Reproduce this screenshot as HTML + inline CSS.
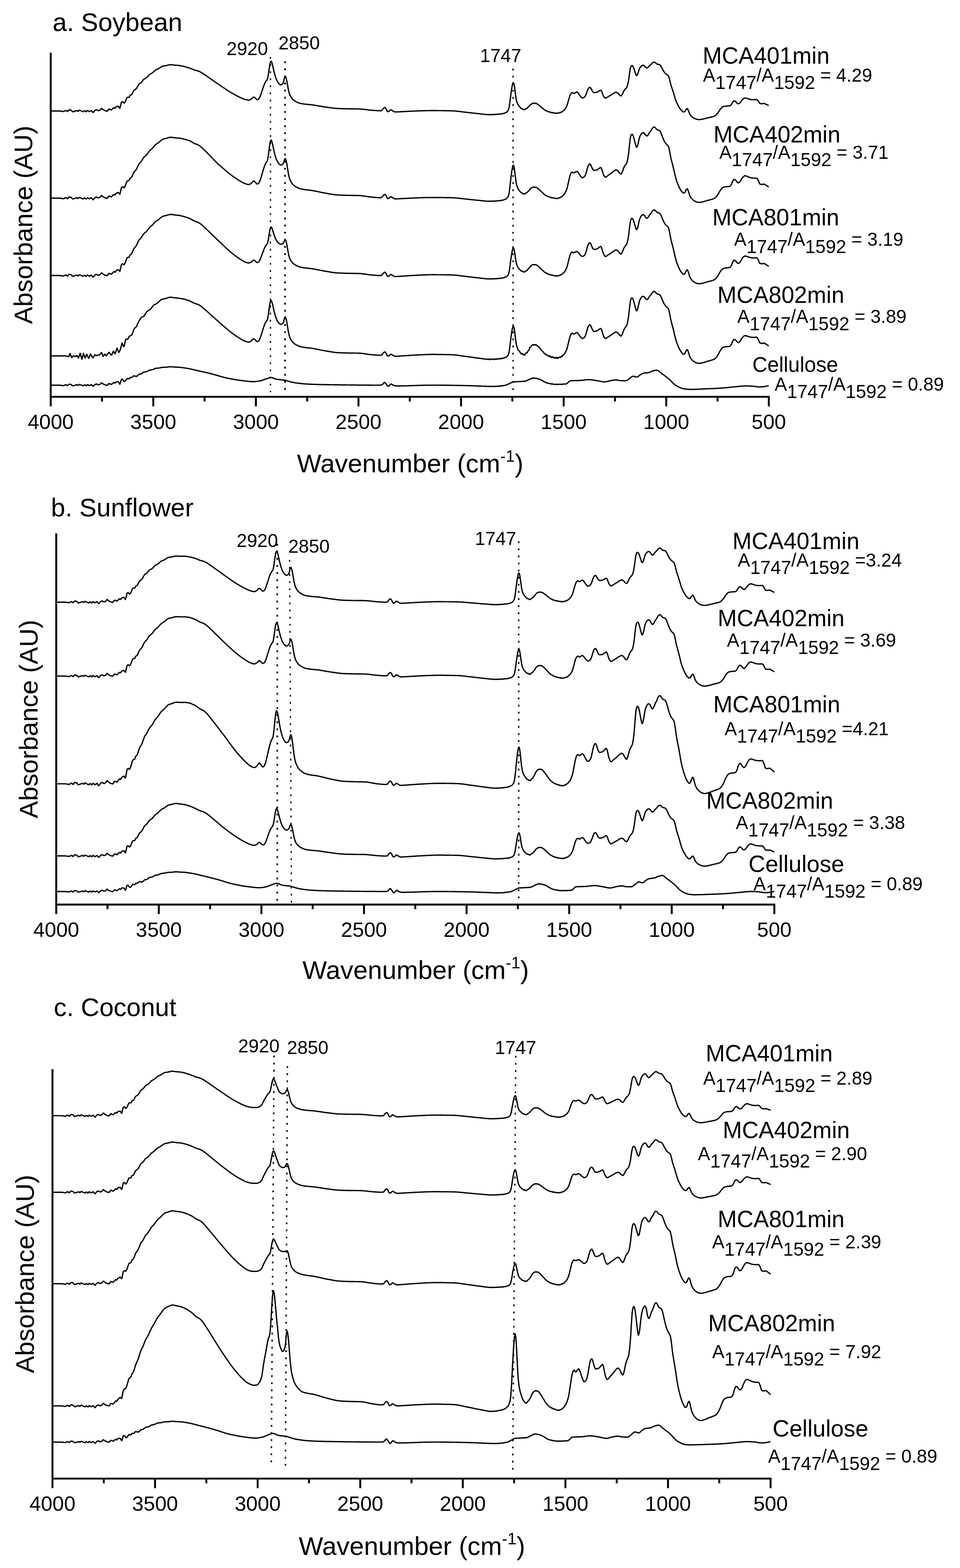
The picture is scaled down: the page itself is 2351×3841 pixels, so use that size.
<!DOCTYPE html><html><head><meta charset="utf-8"><title>FTIR spectra</title>
<style>html,body{margin:0;padding:0;background:#fff}svg{display:block}text{font-family:'Liberation Sans',Arial,Helvetica,sans-serif;fill:#000}.c{fill:none;stroke:#000;stroke-width:3.2;stroke-linejoin:round;stroke-linecap:butt}.ax{fill:none;stroke:#000;stroke-width:4.7;stroke-linecap:butt;stroke-linejoin:miter}.d{fill:none;stroke:#000}</style></head><body>
<svg width="2351" height="3841" viewBox="0 0 2351 3841">
<rect width="2351" height="3841" fill="#fff"/>
<g id="panel-a">
<text x="128.8" y="75.6" font-size="62.8">a. Soybean</text>
<path class="ax" d="M124.2 129.0V995.5M121.9 972.0H1885.2M375.4 972.0V995.5M626.7 972.0V995.5M877.9 972.0V995.5M1129.1 972.0V995.5M1380.4 972.0V995.5M1631.6 972.0V995.5M1882.8 972.0V995.5M249.8 972.0V983.5M501.0 972.0V983.5M752.3 972.0V983.5M1003.5 972.0V983.5M1254.7 972.0V983.5M1506.0 972.0V983.5M1757.2 972.0V983.5"/>
<text x="124.2" y="1051.2" font-size="50.6" text-anchor="middle">4000</text>
<text x="375.4" y="1051.2" font-size="50.6" text-anchor="middle">3500</text>
<text x="626.7" y="1051.2" font-size="50.6" text-anchor="middle">3000</text>
<text x="877.9" y="1051.2" font-size="50.6" text-anchor="middle">2500</text>
<text x="1129.1" y="1051.2" font-size="50.6" text-anchor="middle">2000</text>
<text x="1380.4" y="1051.2" font-size="50.6" text-anchor="middle">1500</text>
<text x="1631.6" y="1051.2" font-size="50.6" text-anchor="middle">1000</text>
<text x="1882.8" y="1051.2" font-size="50.6" text-anchor="middle">500</text>
<text x="1004.5" y="1156.5" font-size="63.4" text-anchor="middle">Wavenumber (cm<tspan font-size="40" dy="-26">-1</tspan><tspan dy="26">)</tspan></text>
<text transform="translate(78.9 550.7) rotate(-90)" font-size="63.4" text-anchor="middle">Absorbance (AU)</text>
</g>
<g id="panel-b">
<text x="124.8" y="1265.4" font-size="62.8">b. Sunflower</text>
<path class="ax" d="M137.7 1306.4V2239.3M135.3 2215.8H1898.7M388.9 2215.8V2239.3M640.2 2215.8V2239.3M891.4 2215.8V2239.3M1142.6 2215.8V2239.3M1393.9 2215.8V2239.3M1645.1 2215.8V2239.3M1896.3 2215.8V2239.3M263.3 2215.8V2227.3M514.5 2215.8V2227.3M765.8 2215.8V2227.3M1017.0 2215.8V2227.3M1268.2 2215.8V2227.3M1519.5 2215.8V2227.3M1770.7 2215.8V2227.3"/>
<text x="137.7" y="2295.0" font-size="50.6" text-anchor="middle">4000</text>
<text x="388.9" y="2295.0" font-size="50.6" text-anchor="middle">3500</text>
<text x="640.2" y="2295.0" font-size="50.6" text-anchor="middle">3000</text>
<text x="891.4" y="2295.0" font-size="50.6" text-anchor="middle">2500</text>
<text x="1142.6" y="2295.0" font-size="50.6" text-anchor="middle">2000</text>
<text x="1393.9" y="2295.0" font-size="50.6" text-anchor="middle">1500</text>
<text x="1645.1" y="2295.0" font-size="50.6" text-anchor="middle">1000</text>
<text x="1896.3" y="2295.0" font-size="50.6" text-anchor="middle">500</text>
<text x="1018.0" y="2398.3" font-size="63.4" text-anchor="middle">Wavenumber (cm<tspan font-size="40" dy="-26">-1</tspan><tspan dy="26">)</tspan></text>
<text transform="translate(92.4 1761.3) rotate(-90)" font-size="63.4" text-anchor="middle">Absorbance (AU)</text>
</g>
<g id="panel-c">
<text x="131.8" y="2489" font-size="62.8">c. Coconut</text>
<path class="ax" d="M128.5 2619.0V3645.5M126.2 3622.0H1889.5M379.7 3622.0V3645.5M631.0 3622.0V3645.5M882.2 3622.0V3645.5M1133.4 3622.0V3645.5M1384.7 3622.0V3645.5M1635.9 3622.0V3645.5M1887.1 3622.0V3645.5M254.1 3622.0V3633.5M505.3 3622.0V3633.5M756.6 3622.0V3633.5M1007.8 3622.0V3633.5M1259.0 3622.0V3633.5M1510.3 3622.0V3633.5M1761.5 3622.0V3633.5"/>
<text x="128.5" y="3701.2" font-size="50.6" text-anchor="middle">4000</text>
<text x="379.7" y="3701.2" font-size="50.6" text-anchor="middle">3500</text>
<text x="631.0" y="3701.2" font-size="50.6" text-anchor="middle">3000</text>
<text x="882.2" y="3701.2" font-size="50.6" text-anchor="middle">2500</text>
<text x="1133.4" y="3701.2" font-size="50.6" text-anchor="middle">2000</text>
<text x="1384.7" y="3701.2" font-size="50.6" text-anchor="middle">1500</text>
<text x="1635.9" y="3701.2" font-size="50.6" text-anchor="middle">1000</text>
<text x="1887.1" y="3701.2" font-size="50.6" text-anchor="middle">500</text>
<text x="1008.8" y="3808.5" font-size="63.4" text-anchor="middle">Wavenumber (cm<tspan font-size="40" dy="-26">-1</tspan><tspan dy="26">)</tspan></text>
<text transform="translate(83.2 3120.7) rotate(-90)" font-size="63.4" text-anchor="middle">Absorbance (AU)</text>
</g>
<path class="d" d="M662.3 139.6L662.3 961" stroke-width="3.2" stroke-dasharray="4.4 13"/>
<path class="d" d="M698.1 150.2L698.1 957" stroke-width="4.0" stroke-dasharray="4.4 13"/>
<path class="d" d="M1256.5 168L1256.5 962" stroke-width="3.4" stroke-dasharray="4.4 13"/>
<path class="d" d="M679.1 1332L679.1 2210" stroke-width="4.0" stroke-dasharray="4.4 13"/>
<path class="d" d="M709.2 1371.6L713.8 2213" stroke-width="3.1" stroke-dasharray="4.4 13"/>
<path class="d" d="M1270.3 1326L1270.3 2206" stroke-width="3.6" stroke-dasharray="4.4 13"/>
<path class="d" d="M671.1 2585.8L664.4 3594" stroke-width="3.6" stroke-dasharray="4.4 13"/>
<path class="d" d="M703.8 2611.6L699 3600" stroke-width="3.6" stroke-dasharray="4.4 13"/>
<path class="d" d="M1263.1 2586.5L1255.6 3611" stroke-width="3.4" stroke-dasharray="4.4 13"/>
<text x="555" y="135" font-size="45.5">2920</text>
<text x="682" y="121" font-size="45.5">2850</text>
<text x="1175.5" y="151.5" font-size="45.5">1747</text>
<text x="579.5" y="1339.8" font-size="45.5">2920</text>
<text x="706" y="1353.7" font-size="45.5">2850</text>
<text x="1163" y="1335" font-size="45.5">1747</text>
<text x="583.3" y="2577.8" font-size="45.5">2920</text>
<text x="703" y="2582" font-size="45.5">2850</text>
<text x="1212" y="2582" font-size="45.5">1747</text>
<path id="a1" class="c" d="M124 271.9l.8 0 .7 0 .8 0 .7 0 .8 0 .7 0 .8 0 .7 0 .8 0 .7 0 .8 0 .7 0 .8 0 .7 0 .8 0 .7 0 .8 0 .7 0 .8 0 .7 0 .8 0 .7 0 .8 0 .7 0 .8 0 .7 0 .8 0 .7 0 .8 0 .7 0 .8 0 .7 .2 .8 .1 .7 .1 .8 .1 .7 .2 .8 .1 .7 .1 .8 .2 .7 .1 .8 .1 .7 0 .8-.4 .7-.4 .8-.3 .7-.4 .8-.4 .7-.4 .8-.3 .7-.1 .8 .5 .7 .6 .8 .6 .7 .6 .8 .5 .7-.9 .8-.8 .7-.8 .8-.8 .7-.8 .8-.1 .7 .1 .8 .2 .7 .1 .8 .2 .7 .1 .8 .2 .7 .8 .8 .8 .7 .7 .8 .8 .7 .7 .8 .1 .7-.3 .8-.2 .7-.3 .8-.2 .7-.3 .8-.2 .7-.3 .8-.2 .7-.3 .8-.3 .7-.3 .8-.3 .7 .2 .8 .6 .7 .6 .8 .6 .7-.1 .8-.9 .7-.8 .8-.8 .7-.3 .8 .4 .7 .3 .8 .3 .7 .3 .8 .3 .7 .3 .8 .4 .7 .3 .8 .3 .7 .3 .8 .3 .7 .3 .8 0 .7-.8 .8-.7 .7-.7 .8-.3 .7 .5 .8 .6 .7 .6 .8 .5 .7 .6 .8-.8 .7-.9 .8-.8 .7-.9 .8 .5 .7 .4 .8 .4 .7 .5 .8 .4 .7 .4 .8 .1 .7-.4 .8-.4 .7-.5 .8-.4 .7-.4 .8-.4 .7 .7 .8 1 .7 1 .8 1 .7 1.1 .8 .1 .7-.9 .8-.9 .7-.9 .8-.9 .7-1 .8-.9 .7-.3 .8-.2 .7-.2 .8-.2 .7-.2 .8 .2 .7 .4 .8 .4 .7 .5 .8 .4 .7 .2 .8-.2 .7-.3 .8-.2 .7-.3 .8-.2 .7-.8 .8-1 .7-1 .8-1.1 .7-.8 .8 .7 .7 .6 .8 .6 .7 .6 .8 .6 .7 .6 .8 .4 .7 .4 .8 .4 .7 .3 .8 .4 .7 .4 .8 .3 .7 .1 .8 .2 .7 .2 .8 .1 .7 .2 .8 .1 .7-1 .8-1.1 .7-1 .8-1.1 .7-1.1 .8 0 .7 .3 .8 .4 .7 .3 .8 .3 .7 .3 .8 .3 .7 .3 .8-.4 .7-.7 .8-.8 .7-.7 .8-.7 .7-.8 .8-.7 .7-.8 .8 .3 .7 .4 .8 .5 .7 .4 .8-.9 .7-1 .8-1.1 .7-1 .8-.2 .7-.1 .8-.1 .7-.2 .8-.3 .7-.2 .8 0 .7 1.2 .8 1.1 .7 1.1 .8 1.1 .7 1 .8-3 .7-3 .8-3 .7-3 .8-3.1 .7-1.1 .8-.1 .7-.2 .8-.2 .7 .7 .8 1.1 .7 1 .8 .9 .7-.3 .8-.8 .7-.9 .8-.8 .7-1.6 .8-1.8 .7-1.8 .8-1.7 .7-1.6 .8-1.6 .7-1.3 .8-.1 .7 0 .8 0 .7 0 .8 0 .7 0 .8-.9 .7-1.8 .8-1.9 .7-.6 .8-.2 .7-.3 .8-.4 .7-.4 .8-.8 .7-1.4 .8-1.4 .7-1.5 .8-1.5 .7-1.5 .8-1.6 .7-.7 .8-.6 .7-.5 .8-.6 .7-.6 .8-.5 .7-.6 .8-.6 .7-.5 .8-1.1 .7-1.5 .8-1.4 .7-1.4 .8-1.4 .7-1.3 .8-1.3 .7-1.2 .8-.9 .7-.5 .8-.5 .7-.5 .8-.5 .7-.5 .8-.5 .7-.5 .8-1 .7-1 .8-1 .7-1 .8-1 .7-1 .8-.9 .7-1 .8-.4 .7-.4 .8-.4 .7-.4 .8-.4 .7-.4 .8-.4 .7-.4 .8-.4 .7-.7 .5-.6 1.2-1.4 1.3-1.3 1.2-1.4 1.3-1.4 1.2-1.2 1.3-.7 1.2-.8 1.3-.7 1.2-.6 1.3-.7 1.2-1 1.3-1.2 1.2-1.1 1.3-1.1 1.2-1.2 1.3-1 1.2-1 1.3-.6 1.2-.6 1.3-.6 1.2-.5 1.3-.5 1.2-.6 1.3-.8 1.2-.9 1.3-.8 1.2-.9 1.3-.7 1.2-.8 1.3-.7 1.2-.5 1.3-.3 1.2-.2 1.3-.2 1.2-.1 1.3-.2 1.2-.1 1.3-.2 1.2-.4 1.3-.3 1.2-.4 1.3-.3 1.2-.2 1.3-.3 1.2-.2 1.3-.1 1.2 .1 1.3 .1 1.2 .2 1.3 .1 1.2 .2 1.3 .2 1.2 .2 1.3 .1 1.2 .1 1.3 .1 1.2 .1 1.3 0 1.2 .1 1.3 .1 1.2 .1 1.3 .1 1.2 .1 1.3 .2 1.2 .2 1.3 .3 1.2 .2 1.3 .3 1.2 .2 1.3 .3 1.2 .3 1.3 .3 1.2 .3 1.3 .4 1.2 .3 1.3 .3 1.2 .4 1.3 .3 1.2 .4 1.3 .3 1.2 .4 1.3 .4 1.2 .4 1.3 .5 1.2 .4 1.3 .4 1.2 .5 1.3 .5 1.2 .6 1.3 .5 1.2 .6 1.3 .5 1.2 .4 1.3 .3 1.2 .4 1.3 .2 1.2 .3 1.3 .4 1.2 .3 1.3 .4 1.2 .5 1.3 .5 1.2 .6 1.3 .6 1.2 .6 1.3 .7 1.2 .7 1.3 .8 1.2 .8 1.3 .8 1.2 .9 1.3 .8 1.2 .9 1.3 .8 1.2 .8 1.3 .9 1.2 .8 1.3 .9 1.2 .9 1.3 .8 1.2 .9 1.3 .9 1.2 .8 1.3 .9 1.2 .9 1.3 .9 1.2 .9 1.3 .8 1.2 .9 1.3 .9 1.2 .9 1.3 .8 1.2 .9 1.3 .9 1.2 .9 1.3 .8 1.2 .9 1.3 .8 1.2 .9 1.3 .8 1.2 .9 1.3 .8 1.2 .9 1.3 .8 1.2 .9 1.3 .9 1.2 .8 1.3 .9 1.2 .8 1.3 .9 1.2 .8 1.3 .9 1.2 .8 1.3 .9 1.2 .8 1.3 .8 1.2 .9 1.3 .8 1.2 .8 1.3 .8 1.2 .8 1.3 .7 1.2 .8 1.3 .8 1.2 .7 1.3 .7 1.2 .8 1.3 .7 1.2 .7 1.3 .7 1.2 .7 1.3 .7 1.2 .7 1.3 .6 1.2 .7 1.3 .7 1.2 .6 1.3 .6 1.2 .7 1.3 .6 1.2 .6 1.3 .6 1.2 .5 1.3 .6 1.2 .6 1.3 .5 1.2 .6 1.3 .5 1.2 .5 1.3 .5 1.2 .4 1.3 .4 1.2 .3 1.3 .4 1.2 .3 1.3 .3 1.2 .3 1.3 .1 1.2 .1 1.3-.1 1.2-.4 1.3-.5 1.2-.6 1.3-.7 1.2-1 1.3-1.3 1.2-1.4 1.3-1.1 1.2-.5 1.3 .3 1.2 1 1.3 1.1 1.2 1.1 1.3 1.5 1.2 1.2 1.3 .4 1.2-.3 1.3-.7 1.2-1 1.3-1.9 1.2-2.4 1.3-2.8 1.2-3.5 1.3-3.8 1.2-3.6 1.3-3.7 1.2-3.9 1.3-3.7 1.2-3.4 1.3-3.1 1.2-3 1.3-2.6 1.2-2 1.3-1.3 1.2-1.5 1.3-2.6 1.2-5.5 1.3-7 1.2-9.2 1.3-8.3 1.2-7.3 1.3-4.5 1.2-1.9 1.3 1.9 1.2 3.1 1.3 5 1.2 5.2 1.3 5.7 1.2 5.3 1.3 5 1.2 4.6 1.3 3.9 1.2 3.4 1.3 3 1.2 2.6 1.3 2.2 1.2 1.9 1.3 1.6 1.2 1.2 1.3 1.1 1.2 .9 1.3 .5 1.2-.2 1.3-.6 1.2-.9 1.3-1.3 1.2-2.2 1.3-3.8 1.2-6.5 1.3-4.5 1.2-1.4 1.3 2.5 1.2 3.9 1.3 5.7 1.2 7 1.3 7.4 1.2 6.5 1.3 5.7 1.2 4.4 1.3 3.4 1.2 2.5 1.3 2 1.2 1.9 1.3 1.8 1.2 1.5 1.3 1.3 1.2 1 1.3 1 1.2 .8 1.3 .8 1.2 .8 1.3 .7 1.2 .6 1.3 .6 1.2 .6 1.3 .5 1.2 .5 1.3 .4 1.2 .5 1.3 .3 1.2 .3 1.3 .3 1.2 .2 1.3 .2 1.2 .2 1.3 .2 1.2 .2 1.3 .1 1.2 .2 1.3 .1 1.2 .2 1.3 .1 1.2 .1 1.3 .2 1.2 .1 1.3 .1 1.2 .1 1.3 .1 1.2 .1 1.3 .1 1.2 .2 1.3 .1 1.2 .2 1.3 .1 1.2 .2 1.3 .2 1.2 .2 1.3 .2 1.2 .2 1.3 .2 1.2 .2 1.3 .2 1.2 .2 1.3 .2 1.2 .2 1.3 .3 1.2 .2 1.3 .2 1.2 .2 1.3 .2 1.2 .2 1.3 .3 1.2 .2 1.3 .2 1.2 .2 1.3 .2 1.2 .2 1.3 .1 1.2 .2 1.3 .2 1.2 .2 1.3 .1 1.2 .2 1.3 .2 1.2 .2 1.3 .2 1.2 .2 1.3 .1 1.2 .2 1.3 .2 1.2 .2 1.3 .1 1.2 .2 1.3 .2 1.2 .1 1.3 .2 1.2 .1 1.3 .1 1.2 .2 1.3 .1 1.2 .1 1.3 .1 1.2 .1 1.3 0 1.2 .1 1.3 .1 1.2 0 1.3 0 1.2 .1 1.3 0 1.2 .1 1.3 0 1.2 .1 1.3 0 1.2 0 1.3 0 1.2 .1 1.3 0 1.2 0 1.3 .1 1.2 0 1.3 0 1.2 0 1.3 .1 1.2 0 1.3 0 1.2 0 1.3 0 1.2 .1 1.3 0 1.2 0 1.3 0 1.2 0 1.3 0 1.2 0 1.3 0 1.2 .1 1.3 0 1.2 0 1.3 0 1.2 0 1.3 0 1.2 .1 1.3 0 1.2 0 1.3 0 1.2 .1 1.3 .1 1.2 .1 1.3 .1 1.2 .1 1.3 .1 1.2 .1 1.3 .2 1.2 .1 1.3 .1 1.2 .2 1.3 .2 1.2 .1 1.3 .2 1.2 .1 1.3 .2 1.2 .2 1.3 .1 1.2 .2 1.3 .1 1.2 .1 1.3 .2 1.2 .1 1.3 .1 1.2 .1 1.3 .1 1.2 .1 1.3 0 1.2 .1 1.3 .1 1.2 .1 1.3 .1 1.2 .1 1.3 .1 1.2 0 1.3 .1 1.2 0 1.3 .1 1.2 0 1.3 0 1.2 0 1.3-.1 1.2-.2 1.3-.3 1.2-1.5 1.3-1.9 1.2-1.4 1.3-1.2 1.2-1 1.3-.4 1.2 .8 1.3 1.8 1.2 2.2 1.3 3 1.2 1.9 1.3 .7 1.2-.3 1.3-.5 1.2-1 1.3-1.6 1.2-.7 1.3-.3 1.2 .2 1.3 .9 1.2 1.1 1.3 .6 1.2 .7 1.3 .7 1.2 .5 1.3 .3 1.2 0 1.3 0 1.2 0 1.3-.1 1.2 0 1.3-.1 1.2 0 1.3-.1 1.2-.1 1.3 0 1.2-.1 1.3-.1 1.2 0 1.3-.1 1.2-.1 1.3 0 1.2-.1 1.3 0 1.2-.1 1.3-.1 1.2 0 1.3-.1 1.2-.1 1.3 0 1.2-.1 1.3-.1 1.2-.1 1.3 0 1.2-.1 1.3 0 1.2-.1 1.3-.1 1.2 0 1.3-.1 1.2 0 1.3-.1 1.2 0 1.3 0 1.2-.1 1.3 0 1.2-.1 1.3 0 1.2-.1 1.3 0 1.2-.1 1.3 0 1.2-.1 1.3 0 1.2-.1 1.3 0 1.2-.1 1.3 0 1.2 0 1.3-.1 1.2 0 1.3-.1 1.2 0 1.3 0 1.2-.1 1.3 0 1.2 0 1.3-.1 1.2 0 1.3 0 1.2 0 1.3 0 1.2-.1 1.3 0 1.2 0 1.3 0 1.2 0 1.3 0 1.2 0 1.3 0 1.2 0 1.3 0 1.2 0 1.3 0 1.2 0 1.3 0 1.2 0 1.3 0 1.2 0 1.3 .1 1.2 0 1.3 0 1.2 0 1.3 0 1.2 0 1.3 0 1.2 0 1.3 .1 1.2 0 1.3 0 1.2 0 1.3 0 1.2 .1 1.3 0 1.2 0 1.3 0 1.2 0 1.3 .1 1.2 0 1.3 0 1.2 0 1.3 .1 1.2 0 1.3 0 1.2 0 1.3 .1 1.2 0 1.3 0 1.2 .1 1.3 0 1.2 .1 1.3 .1 1.2 .1 1.3 .1 1.2 .1 1.3 .1 1.2 .1 1.3 .2 1.2 .1 1.3 .2 1.2 .1 1.3 .2 1.2 .1 1.3 .2 1.2 .1 1.3 .2 1.2 .1 1.3 .2 1.2 .1 1.3 .2 1.2 .1 1.3 .2 1.2 .1 1.3 .2 1.2 .1 1.3 .1 1.2 .2 1.3 .1 1.2 .1 1.3 .2 1.2 .1 1.3 .2 1.2 .1 1.3 .2 1.2 .1 1.3 .2 1.2 .1 1.3 .2 1.2 .1 1.3 .1 1.2 .2 1.3 .1 1.2 .2 1.3 .1 1.2 .1 1.3 .2 1.2 .1 1.3 .1 1.2 .2 1.3 .1 1.2 .1 1.3 .1 1.2 .2 1.3 .1 1.2 .2 1.3 .1 1.2 .2 1.3 .1 1.2 .1 1.3 .2 1.2 .1 1.3 .2 1.2 .1 1.3-.1 1.2 .3 1.3 .3 1.2-.1 1.3 0 1.2-.2 1.3 .1 1.2 .5 1.3-.2 1.2-.3 1.3 .4 1.2-.1 1.3-.5 1.2 .1 1.3 .1 1.2 .1 1.3 0 1.2-.5 1.3-.1 1.2 .4 1.3-.4 1.2-.2 1.3 .3 1.2-.1 1.3-.4 1.2-.2 1.3-.2 1.2 .2 1.3 .1 1.2-.6 1.3-.1 1.2 .1 1.3-.5 1.2-.4 1.3 0 1.2-.3 1.3-.4 1.2-.5 1.3-.6 1.2-.4 1.3-.6 1.2-1.1 1.3-1.2 1.2-1.4 1.3-2.2 1.2-3.7 1.3-6.6 1.2-8.5 1.3-10.6 1.2-9.6 1.3-9 1.2-7.8 1.3-6.3 1.2-3.8 1.3-1.1 1.2 3.4 1.3 6.9 1.2 9.3 1.3 10 1.2 8.4 1.3 6.4 1.2 4.2 1.3 2.8 1.2 2.7 1.3 2.1 1.2 1.1 1.3 1.5 1.2 1.8 1.3 1.5 1.2 1.2 1.3 .2 1.2 .4 1.3 1.4 1.2 .4 1.3-.2 1.2 .9 1.3 0 1.2-1.3 1.3-.8 1.2-.8 1.3-.5 1.2-.4 1.3-1.6 1.2-1.3 1.3-.6 1.2-1.7 1.3-2.1 1.2-.9 1.3-.8 1.2-1.1 1.3-.8 1.2-.8 1.3-.2 1.2 .1 1.3-.5 1.2 0 1.3 .5 1.2 0 1.3-.1 1.2 .5 1.3 .6 1.2 .8 1.3 1 1.2 .7 1.3 1.1 1.2 1.2 1.3 .7 1.2 1 1.3 1.4 1.2 1 1.3 .9 1.2 1.1 1.3 1 1.2 1.3 1.3 1.1 1.2 .5 1.3 .9 1.2 1 1.3 0 1.2 .5 1.3 1.1 1.2 .6 1.3 .5 1.2 .2 1.3 0 1.2 .9 1.3 .4 1.2-.4 1.3 .9 1.2 .8 1.3-.6 1.2 0 1.3 .4 1.2 .4 1.3 .7 1.2-.1 1.3-.3 1.2 .8 1.3-.1 1.2-.8 1.3 .5 1.2 .5 1.3-.7 1.2-.5 1.3-.6 1.2-.4 1.3 .2 1.2-.8 1.3-.9 1.2 0 1.3-.9 1.2-1.5 1.3-.7 1.2-.9 1.3-1.3 1.2-1.5 1.3-2 1.2-2.1 1.3-2.3 1.2-3.1 1.3-4 1.2-4.3 1.3-4.4 1.2-4.4 1.3-4.2 1.2-3.5 1.3-2.5 1.2-1.9 1.3-1.2 1.2-.6 1.3 .7 1.2 1 1.3 .2 1.2 .1 1.3-.6 1.2-1.2 1.3-.7 1.2-.5 1.3-.4 1.2 .3 1.3 1.2 1.2 1.5 1.3 1.9 1.2 1.8 1.3 1.8 1.2 1.7 1.3 1.4 1.2 1.4 1.3 1.1 1.2 .5 1.3-.2 1.2-.5 1.3-.6 1.2-.9 1.3-1.3 1.2-1.9 1.3-3 1.2-3.2 1.3-3.6 1.2-3.5 1.3-2.8 1.2-2.4 1.3-1.3 1.2-.8 1.3-.1 1.2 1.3 1.3 1.8 1.2 2.5 1.3 2.4 1.2 2.1 1.3 1.5 1.2 1.1 1.3 .2 1.2-.1 1.3-.1 1.2-.1 1.3-.3 1.2-.3 1.3-.4 1.2-.5 1.3-.8 1.2-.8 1.3-.7 1.2-.8 1.3-.7 1.2-.2 1.3 1.3 1.2 2.2 1.3 3.6 1.2 3.5 1.3 2.8 1.2 2.3 1.3 1.6 1.2 1.4 1.3 .7 1.2-.2 1.3-.6 1.2-.8 1.3-.8 1.2-.9 1.3-.7 1.2-.7 1.3-.7 1.2-.7 1.3-.7 1.2-.8 1.3-.7 1.2-.9 1.3-.9 1.2-.9 1.3-.8 1.2-.7 1.3-.6 1.2-.5 1.3-.5 1.2-.3 1.3 .1 1.2 .7 1.3 .8 1.2 1.1 1.3 1.5 1.2 1.6 1.3 1.1 1.2 1.1 1.3 .8 1.2 .1 1.3-1.4 1.2-2.1 1.3-2.3 1.2-2.9 1.3-2.8 1.2-2 1.3-1.6 1.2-1.5 1.3-1.3 1.2-1.2 1.3-1.8 1.2-3.5 1.3-4.5 1.2-5.9 1.3-7.4 1.2-9.5 1.3-8.8 1.2-7.1 1.3-4 1.2-2 1.3-.7 1.2 .3 1.3 1.6 1.2 2.4 1.3 3.4 1.2 3.7 1.3 4.1 1.2 3.5 1.3 3.5 1.2 2.1 1.3-.6 1.2-2.1 1.3-3.1 1.2-4.1 1.3-4 1.2-3.4 1.3-2.3 1.2-1.8 1.3-1.3 1.2-1.1 1.3-.9 1.2-.6 1.3-.1 1.2 .4 1.3 .5 1.2 1 1.3 1.7 1.2 1.3 1.3 .9 1.2 .7 1.3 0 1.2-.8 1.3-1 1.2-1.3 1.3-1.6 1.2-1.3 1.3-.9 1.2-.9 1.3-1.1 1.2-1.6 1.3-1.4 1.2-.9 1.3-.7 1.2-.5 1.3 0 1.2 .5 1.3 .9 1.2 .9 1.3 1.1 1.2 1.1 1.3 .4 1.2 .2 1.3 .2 1.2 .4 1.3 .5 1.2 .7 1.3 1.5 1.2 1.9 1.3 2.1 1.2 2.4 1.3 2.4 1.2 2.3 1.3 2.1 1.2 2 1.3 1.8 1.2 1.5 1.3 1.3 1.2 1 1.3 .9 1.2 .9 1.3 .7 1.2 1 1.3 2.2 1.2 3.8 1.3 4.3 1.2 5.5 1.3 5.2 1.2 4.3 1.3 3.8 1.2 3.7 1.3 3.7 1.2 3.7 1.3 4.1 1.2 4.2 1.3 4.4 1.2 4.1 1.3 3.8 1.2 3.3 1.3 2.8 1.2 2.6 1.3 2.5 1.2 2.4 1.3 2.3 1.2 2.1 1.3 1.9 1.2 1.7 1.3 1.5 1.2 1.4 1.3 1.2 1.2 1.2 1.3 1 1.2 .5 1.3-.1 1.2-.5 1.3-.9 1.2-2.1 1.3-2.1 1.2-1.4 1.3-1 1.2 .5 1.3 2.4 1.2 2.7 1.3 3.6 1.2 3.2 1.3 2.2 1.2 1.8 1.3 1.5 1.2 1.2 1.3 1.2 1.2 .9 1.3 .9 1.2 .8 1.3 .7 1.2 .6 1.3 .6 1.2 .5 1.3 .4 1.2 .3 1.3 .3 1.2 .3 1.3 .2 1.2 .1 1.3 0 1.2-.1 1.3-.1 1.2-.2 1.3-.2 1.2-.3 1.3-.2 1.2-.3 1.3-.2 1.2-.3 1.3-.3 1.2-.3 1.3-.3 1.2-.4 1.3-.3 1.2-.3 1.3-.3 1.2-.3 1.3-.3 1.2-.2 1.3-.3 1.2-.3 1.3-.3 1.2-.3 1.3-.3 1.2-.3 1.3-.3 1.2-.4 1.3-.4 1.2-.5 1.3-.6 1.2-.9 1.3-.9 1.2-1.1 1.3-1.2 1.2-1.4 1.3-1.5 1.2-1.6 1.3-1.9 1.2-2 1.3-2 1.2-1.8 1.3-1.5 1.2-1.6 1.3-1.4 1.2-1.1 1.3-.7 1.2-.4 1.3-.3 1.2-.3 1.3-.2 1.2-.2 1.3-.2 1.2-.1 1.3 0 1.2-.1 1.3 0 1.2-.1 1.3-.1 1.2-.1 1.3-.3 1.2-.9 1.3-1.1 1.2-1.4 1.3-2.2 1.2-2.4 1.3-1.7 1.2-1.3 1.3-.9 1.2-.2 1.3 .5 1.2 .8 1.3 1.2 1.2 1.6 1.3 1.4 1.2 1 1.3 .7 1.2 0 1.3-.6 1.2-1 1.3-1.1 1.2-1.5 1.3-1.8 1.2-1.8 1.3-1.5 1.2-1.4 1.3-1.3 1.2-.8 1.3-.7 1.2-.5 1.3-.2 1.2 .2 1.3 .3 1.2 .3 1.3 .4 1.2 .4 1.3 .4 1.2 .5 1.3 .5 1.2 .4 1.3 .2 1.2 .2 1.3 .1 1.2 .1 1.3 .1 1.2 .1 1.3 0 1.2 0 1.3-.1 1.2-.1 1.3-.1 1.2-.1 1.3-.1 1.2 .2 1.3 1.1 1.2 1.6 1.3 1.6 1.2 2.1 1.3 2.2 1.2 1.1 1.3 .2 1.2 .1 1.3 .1 1.2 0 1.3-.1 1.2-.1 1.3-.1 1.2-.1 1.3 .2 1.2 .6 1.3 .6 1.2 .6 1.3 .5 1.2 .6 1.3 .5 1.2 .5 1.3 .6 .1 0"/>
<path id="a2" class="c" d="M124 485.4l.8 0 .7 0 .8 0 .7 0 .8 0 .7 0 .8 0 .7 0 .8 0 .7 0 .8 0 .7 0 .8 0 .7 0 .8 0 .7 0 .8 0 .7 0 .8 0 .7 0 .8 0 .7 0 .8 0 .7 0 .8 0 .7 0 .8 0 .7 0 .8 0 .7 0 .8 0 .7 .2 .8 .1 .7 .1 .8 .1 .7 .2 .8 .1 .7 .1 .8 .2 .7 .1 .8 .1 .7 0 .8-.4 .7-.4 .8-.3 .7-.4 .8-.4 .7-.4 .8-.3 .7-.1 .8 .5 .7 .6 .8 .6 .7 .6 .8 .5 .7-.9 .8-.8 .7-.8 .8-.8 .7-.8 .8-.1 .7 .1 .8 .2 .7 .1 .8 .2 .7 .2 .8 .2 .7 .7 .8 .8 .7 .7 .8 .8 .7 .8 .8 0 .7-.3 .8-.2 .7-.2 .8-.3 .7-.2 .8-.3 .7-.2 .8-.3 .7-.3 .8-.2 .7-.3 .8-.3 .7 .2 .8 .6 .7 .6 .8 .6 .7-.1 .8-.9 .7-.8 .8-.8 .7-.3 .8 .4 .7 .3 .8 .3 .7 .3 .8 .3 .7 .4 .8 .3 .7 .3 .8 .3 .7 .3 .8 .3 .7 .4 .8-.1 .7-.7 .8-.8 .7-.7 .8-.3 .7 .6 .8 .6 .7 .5 .8 .6 .7 .6 .8-.9 .7-.8 .8-.8 .7-.9 .8 .5 .7 .4 .8 .4 .7 .5 .8 .4 .7 .4 .8 .1 .7-.4 .8-.5 .7-.4 .8-.4 .7-.4 .8-.4 .7 .7 .8 1 .7 1 .8 1 .7 1 .8 .2 .7-.9 .8-.9 .7-1 .8-.9 .7-.9 .8-.9 .7-.3 .8-.2 .7-.2 .8-.3 .7-.2 .8 .2 .7 .4 .8 .5 .7 .4 .8 .4 .7 .3 .8-.3 .7-.2 .8-.3 .7-.3 .8-.2 .7-.8 .8-1 .7-1.1 .8-1 .7-.8 .8 .6 .7 .6 .8 .6 .7 .6 .8 .6 .7 .6 .8 .4 .7 .4 .8 .3 .7 .4 .8 .4 .7 .4 .8 .2 .7 .2 .8 .1 .7 .2 .8 .1 .7 .2 .8 .1 .7-1.1 .8-1 .7-1.1 .8-1.1 .7-1.1 .8-.1 .7 .3 .8 .3 .7 .3 .8 .3 .7 .3 .8 .2 .7 .3 .8-.5 .7-.8 .8-.8 .7-.7 .8-.8 .7-.8 .8-.8 .7-.8 .8 .2 .7 .3 .8 .4 .7 .3 .8-.9 .7-1.1 .8-1.1 .7-1.2 .8-.2 .7-.2 .8-.3 .7-.3 .8-.3 .7-.4 .8-.1 .7 1 .8 .9 .7 1 .8 .9 .7 .9 .8-3.2 .7-3.2 .8-3.2 .7-3.2 .8-3.3 .7-1.3 .8-.4 .7-.4 .8-.3 .7 .4 .8 .8 .7 .7 .8 .7 .7-.6 .8-1.2 .7-1.1 .8-1.1 .7-1.9 .8-2.1 .7-2 .8-1.9 .7-1.8 .8-1.8 .7-1.5 .8-.3 .7-.2 .8-.2 .7-.1 .8-.2 .7-.1 .8-1 .7-2 .8-2.1 .7-.7 .8-.5 .7-.5 .8-.5 .7-.6 .8-1.1 .7-1.6 .8-1.6 .7-1.7 .8-1.8 .7-1.8 .8-1.9 .7-1 .8-.8 .7-.9 .8-.9 .7-.9 .8-.9 .7-.8 .8-.9 .7-.8 .8-1.4 .7-1.8 .8-1.7 .7-1.7 .8-1.6 .7-1.6 .8-1.5 .7-1.5 .8-1.2 .7-.8 .8-.8 .7-.8 .8-.8 .7-.8 .8-.7 .7-.8 .8-1.2 .7-1.3 .8-1.3 .7-1.2 .8-1.2 .7-1.3 .8-1.2 .7-1.2 .8-.6 .7-.7 .8-.6 .7-.7 .8-.6 .7-.7 .8-.6 .7-.6 .8-.6 .7-1 .5-.7 1.2-1.7 1.3-1.8 1.2-1.8 1.3-1.7 1.2-1.7 1.3-1.1 1.2-1 1.3-1.1 1.2-1.1 1.3-1 1.2-1.3 1.3-1.5 1.2-1.5 1.3-1.5 1.2-1.4 1.3-1.4 1.2-1.3 1.3-.9 1.2-.9 1.3-.8 1.2-.8 1.3-.8 1.2-.9 1.3-1.1 1.2-1.1 1.3-1.1 1.2-1.1 1.3-1 1.2-1 1.3-.9 1.2-.7 1.3-.4 1.2-.4 1.3-.3 1.2-.2 1.3-.3 1.2-.2 1.3-.4 1.2-.4 1.3-.4 1.2-.4 1.3-.4 1.2-.3 1.3-.3 1.2-.2 1.3-.1 1.2 0 1.3 .1 1.2 .2 1.3 .1 1.2 .2 1.3 .2 1.2 .2 1.3 .1 1.2 .1 1.3 .1 1.2 .1 1.3 .1 1.2 .1 1.3 0 1.2 .1 1.3 .1 1.2 .1 1.3 .3 1.2 .2 1.3 .2 1.2 .3 1.3 .3 1.2 .3 1.3 .2 1.2 .3 1.3 .4 1.2 .3 1.3 .3 1.2 .4 1.3 .3 1.2 .3 1.3 .4 1.2 .4 1.3 .4 1.2 .4 1.3 .4 1.2 .4 1.3 .4 1.2 .5 1.3 .7 1.2 .7 1.3 .8 1.2 .8 1.3 .8 1.2 .8 1.3 .7 1.2 .6 1.3 .5 1.2 .5 1.3 .4 1.2 .4 1.3 .5 1.2 .5 1.3 .5 1.2 .7 1.3 .8 1.2 .8 1.3 .9 1.2 1 1.3 .9 1.2 1.1 1.3 1.1 1.2 1.2 1.3 1.3 1.2 1.2 1.3 1.3 1.2 1.2 1.3 1.2 1.2 1.3 1.3 1.2 1.2 1.2 1.3 1.3 1.2 1.3 1.3 1.2 1.2 1.3 1.3 1.3 1.2 1.3 1.3 1.3 1.2 1.2 1.3 1.3 1.2 1.3 1.3 1.3 1.2 1.3 1.3 1.3 1.2 1.3 1.3 1.3 1.2 1.3 1.3 1.2 1.2 1.3 1.3 1.3 1.2 1.3 1.3 1.2 1.2 1.3 1.3 1.1 1.2 1.1 1.3 1.1 1.2 1.1 1.3 1.1 1.2 1 1.3 1.1 1.2 1.1 1.3 1.1 1.2 1.1 1.3 1.1 1.2 1.1 1.3 1 1.2 1.1 1.3 1.1 1.2 1 1.3 1.1 1.2 1 1.3 1.1 1.2 1 1.3 1 1.2 1 1.3 1 1.2 1 1.3 .9 1.2 1 1.3 .9 1.2 .9 1.3 .9 1.2 .9 1.3 .9 1.2 .9 1.3 .9 1.2 .8 1.3 .9 1.2 .8 1.3 .9 1.2 .8 1.3 .8 1.2 .8 1.3 .8 1.2 .7 1.3 .8 1.2 .7 1.3 .7 1.2 .7 1.3 .8 1.2 .7 1.3 .7 1.2 .6 1.3 .6 1.2 .6 1.3 .4 1.2 .4 1.3 .5 1.2 .4 1.3 .4 1.2 .3 1.3 .2 1.2 .1 1.3-.1 1.2-.4 1.3-.6 1.2-.8 1.3-.7 1.2-1.1 1.3-1.5 1.2-1.6 1.3-1.3 1.2-.6 1.3 .4 1.2 1.1 1.3 1.2 1.2 1.3 1.3 1.7 1.2 1.4 1.3 .4 1.2-.3 1.3-.8 1.2-1.1 1.3-2.2 1.2-2.7 1.3-3.2 1.2-4 1.3-4.3 1.2-4.2 1.3-4.2 1.2-4.4 1.3-4.2 1.2-3.9 1.3-3.6 1.2-3.4 1.3-3 1.2-2.2 1.3-1.6 1.2-1.6 1.3-3 1.2-6.3 1.3-8 1.2-10.4 1.3-9.5 1.2-8.3 1.3-5.2 1.2-2.2 1.3 2 1.2 3.3 1.3 5.2 1.2 5.5 1.3 6 1.2 5.7 1.3 5.2 1.2 4.9 1.3 4.1 1.2 3.6 1.3 3.2 1.2 2.7 1.3 2.3 1.2 2.1 1.3 1.6 1.2 1.3 1.3 1.2 1.2 .9 1.3 .5 1.2-.1 1.3-.5 1.2-.7 1.3-.9 1.2-1.7 1.3-2.7 1.2-4.9 1.3-3.3 1.2-1 1.3 2.7 1.2 4.4 1.3 6.3 1.2 7.7 1.3 8.2 1.2 7.3 1.3 6.3 1.2 4.8 1.3 3.7 1.2 2.8 1.3 2.3 1.2 2.1 1.3 1.9 1.2 1.7 1.3 1.4 1.2 1.2 1.3 1 1.2 1 1.3 .8 1.2 .9 1.3 .7 1.2 .8 1.3 .6 1.2 .6 1.3 .6 1.2 .5 1.3 .5 1.2 .5 1.3 .4 1.2 .3 1.3 .3 1.2 .3 1.3 .3 1.2 .2 1.3 .3 1.2 .2 1.3 .2 1.2 .2 1.3 .1 1.2 .2 1.3 .2 1.2 .1 1.3 .2 1.2 .1 1.3 .2 1.2 .1 1.3 .1 1.2 .2 1.3 .1 1.2 .2 1.3 .1 1.2 .2 1.3 .2 1.2 .2 1.3 .2 1.2 .3 1.3 .2 1.2 .2 1.3 .3 1.2 .2 1.3 .3 1.2 .3 1.3 .2 1.2 .3 1.3 .3 1.2 .2 1.3 .3 1.2 .3 1.3 .2 1.2 .3 1.3 .3 1.2 .2 1.3 .3 1.2 .2 1.3 .2 1.2 .3 1.3 .2 1.2 .2 1.3 .2 1.2 .2 1.3 .3 1.2 .2 1.3 .2 1.2 .2 1.3 .3 1.2 .2 1.3 .2 1.2 .2 1.3 .2 1.2 .2 1.3 .3 1.2 .2 1.3 .2 1.2 .1 1.3 .2 1.2 .2 1.3 .2 1.2 .1 1.3 .1 1.2 .2 1.3 .1 1.2 .1 1.3 .1 1.2 0 1.3 .1 1.2 .1 1.3 0 1.2 .1 1.3 0 1.2 .1 1.3 0 1.2 .1 1.3 0 1.2 .1 1.3 0 1.2 0 1.3 .1 1.2 0 1.3 0 1.2 .1 1.3 0 1.2 0 1.3 0 1.2 .1 1.3 0 1.2 0 1.3 0 1.2 .1 1.3 0 1.2 0 1.3 0 1.2 0 1.3 0 1.2 .1 1.3 0 1.2 0 1.3 0 1.2 0 1.3 0 1.2 .1 1.3 0 1.2 0 1.3 0 1.2 .1 1.3 0 1.2 .1 1.3 .1 1.2 .1 1.3 .1 1.2 .1 1.3 .2 1.2 .1 1.3 .2 1.2 .2 1.3 .2 1.2 .1 1.3 .2 1.2 .2 1.3 .2 1.2 .2 1.3 .2 1.2 .2 1.3 .2 1.2 .2 1.3 .1 1.2 .2 1.3 .2 1.2 .1 1.3 .1 1.2 .2 1.3 .1 1.2 .1 1.3 .1 1.2 .1 1.3 .1 1.2 .1 1.3 .1 1.2 .1 1.3 .1 1.2 .1 1.3 .1 1.2 0 1.3 .1 1.2 0 1.3 0 1.2 0 1.3-.1 1.2-.2 1.3-.3 1.2-1.5 1.3-1.9 1.2-1.4 1.3-1.2 1.2-1 1.3-.4 1.2 .8 1.3 1.7 1.2 2.3 1.3 3 1.2 1.9 1.3 .7 1.2-.3 1.3-.6 1.2-.9 1.3-1.7 1.2-.6 1.3-.3 1.2 .2 1.3 .9 1.2 1 1.3 .7 1.2 .7 1.3 .7 1.2 .5 1.3 .2 1.2 .1 1.3 0 1.2-.1 1.3 0 1.2-.1 1.3 0 1.2-.1 1.3 0 1.2-.1 1.3-.1 1.2-.1 1.3 0 1.2-.1 1.3 0 1.2-.1 1.3-.1 1.2 0 1.3-.1 1.2-.1 1.3 0 1.2-.1 1.3-.1 1.2 0 1.3-.1 1.2-.1 1.3 0 1.2-.1 1.3-.1 1.2 0 1.3-.1 1.2-.1 1.3 0 1.2-.1 1.3 0 1.2-.1 1.3 0 1.2-.1 1.3 0 1.2-.1 1.3 0 1.2-.1 1.3 0 1.2-.1 1.3 0 1.2-.1 1.3 0 1.2-.1 1.3 0 1.2 0 1.3-.1 1.2 0 1.3-.1 1.2 0 1.3-.1 1.2 0 1.3 0 1.2-.1 1.3 0 1.2 0 1.3-.1 1.2 0 1.3 0 1.2-.1 1.3 0 1.2 0 1.3 0 1.2-.1 1.3 0 1.2 0 1.3 0 1.2 0 1.3 0 1.2 0 1.3 0 1.2 0 1.3 0 1.2 0 1.3 0 1.2 0 1.3 0 1.2 0 1.3 0 1.2 0 1.3 .1 1.2 0 1.3 0 1.2 0 1.3 0 1.2 0 1.3 0 1.2 0 1.3 .1 1.2 0 1.3 0 1.2 0 1.3 0 1.2 0 1.3 .1 1.2 0 1.3 0 1.2 0 1.3 0 1.2 .1 1.3 0 1.2 0 1.3 0 1.2 .1 1.3 0 1.2 0 1.3 0 1.2 .1 1.3 0 1.2 0 1.3 .1 1.2 .1 1.3 0 1.2 .1 1.3 .1 1.2 .1 1.3 .1 1.2 .1 1.3 .2 1.2 .1 1.3 .1 1.2 .2 1.3 .1 1.2 .2 1.3 .1 1.2 .1 1.3 .2 1.2 .1 1.3 .2 1.2 .1 1.3 .2 1.2 .1 1.3 .1 1.2 .2 1.3 .1 1.2 .1 1.3 .1 1.2 .2 1.3 .1 1.2 .1 1.3 .2 1.2 .1 1.3 .1 1.2 .2 1.3 .1 1.2 .1 1.3 .2 1.2 .1 1.3 .1 1.2 .2 1.3 .1 1.2 .1 1.3 .2 1.2 .1 1.3 .1 1.2 .2 1.3 .1 1.2 .1 1.3 .1 1.2 .1 1.3 .2 1.2 .1 1.3 .1 1.2 .1 1.3 .2 1.2 .1 1.3 .1 1.2 .2 1.3 .1 1.2 .1 1.3 .2 1.2 0 1.3 .2 1.2 .2 1.3-.1 1.2 .2 1.3 .3 1.2 0 1.3 0 1.2-.3 1.3 .1 1.2 .5 1.3-.2 1.2-.3 1.3 .4 1.2-.1 1.3-.5 1.2 .1 1.3 .1 1.2 .1 1.3 0 1.2-.5 1.3-.1 1.2 .3 1.3-.3 1.2-.3 1.3 .3 1.2-.1 1.3-.4 1.2-.2 1.3-.3 1.2 .2 1.3 .1 1.2-.6 1.3-.1 1.2 0 1.3-.5 1.2-.4 1.3-.1 1.2-.3 1.3-.5 1.2-.5 1.3-.7 1.2-.4 1.3-.7 1.2-1.2 1.3-1.3 1.2-1.7 1.3-2.5 1.2-4.1 1.3-7.5 1.2-9.6 1.3-12 1.2-10.8 1.3-10.2 1.2-8.7 1.3-7.2 1.2-4.3 1.3-1.2 1.2 3.7 1.3 7.3 1.2 9.9 1.3 10.7 1.2 9 1.3 6.8 1.2 4.4 1.3 3.1 1.2 2.8 1.3 2.2 1.2 1.2 1.3 1.7 1.2 1.9 1.3 1.5 1.2 1.3 1.3 .3 1.2 .4 1.3 1.5 1.2 .4 1.3-.2 1.2 .9 1.3 0 1.2-1.3 1.3-.9 1.2-.9 1.3-.5 1.2-.4 1.3-1.7 1.2-1.4 1.3-.6 1.2-1.8 1.3-2.2 1.2-1 1.3-.8 1.2-1.2 1.3-.9 1.2-.8 1.3-.2 1.2 .1 1.3-.5 1.2 0 1.3 .6 1.2-.1 1.3 0 1.2 .5 1.3 .6 1.2 1 1.3 1 1.2 .9 1.3 1.2 1.2 1.4 1.3 .7 1.2 1.2 1.3 1.6 1.2 1.1 1.3 1.1 1.2 1.2 1.3 1.1 1.2 1.4 1.3 1.2 1.2 .6 1.3 1.1 1.2 1 1.3 .1 1.2 .6 1.3 1.2 1.2 .6 1.3 .6 1.2 .2 1.3 0 1.2 1 1.3 .4 1.2-.3 1.3 .9 1.2 .8 1.3-.5 1.2 0 1.3 .5 1.2 .4 1.3 .7 1.2-.1 1.3-.2 1.2 .8 1.3-.1 1.2-.8 1.3 .5 1.2 .4 1.3-.8 1.2-.5 1.3-.7 1.2-.5 1.3 .1 1.2-1 1.3-1.1 1.2-.1 1.3-1.2 1.2-1.7 1.3-1 1.2-1.2 1.3-1.7 1.2-1.8 1.3-2.5 1.2-2.7 1.3-3 1.2-3.9 1.3-5.2 1.2-5.6 1.3-5.6 1.2-5.5 1.3-5.4 1.2-4.4 1.3-3.3 1.2-2.5 1.3-1.4 1.2-.8 1.3 .7 1.2 1.1 1.3 .2 1.2 .1 1.3-.6 1.2-1.3 1.3-.8 1.2-.5 1.3-.3 1.2 .2 1.3 1.4 1.2 1.5 1.3 2 1.2 1.9 1.3 1.9 1.2 1.8 1.3 1.5 1.2 1.4 1.3 1.2 1.2 .5 1.3-.2 1.2-.7 1.3-.7 1.2-1.2 1.3-1.7 1.2-2.5 1.3-3.9 1.2-4.1 1.3-4.6 1.2-4.6 1.3-3.6 1.2-3 1.3-1.7 1.2-1.1 1.3 0 1.2 1.5 1.3 2.2 1.2 3.1 1.3 2.9 1.2 2.7 1.3 1.7 1.2 1.3 1.3 .3 1.2-.1 1.3-.1 1.2-.2 1.3-.3 1.2-.4 1.3-.5 1.2-.6 1.3-.9 1.2-1 1.3-.9 1.2-1 1.3-.8 1.2-.2 1.3 1.6 1.2 2.6 1.3 4.4 1.2 4.3 1.3 3.4 1.2 2.8 1.3 2 1.2 1.8 1.3 .8 1.2-.2 1.3-.7 1.2-1 1.3-1.1 1.2-1 1.3-.9 1.2-.9 1.3-.9 1.2-.9 1.3-.9 1.2-.9 1.3-1 1.2-1 1.3-1.1 1.2-1.1 1.3-1.1 1.2-.8 1.3-.7 1.2-.8 1.3-.5 1.2-.4 1.3 .2 1.2 .7 1.3 1 1.2 1.2 1.3 1.7 1.2 1.8 1.3 1.3 1.2 1.3 1.3 .9 1.2 0 1.3-1.8 1.2-2.7 1.3-3.1 1.2-3.8 1.3-3.6 1.2-2.7 1.3-2.1 1.2-1.9 1.3-1.8 1.2-1.5 1.3-2.4 1.2-4.5 1.3-6 1.2-7.7 1.3-9.8 1.2-12.4 1.3-11.6 1.2-9.3 1.3-5.3 1.2-2.6 1.3-.9 1.2 .4 1.3 2.2 1.2 3 1.3 4.4 1.2 4.8 1.3 5.3 1.2 4.7 1.3 4.4 1.2 2.8 1.3-.9 1.2-3 1.3-4.3 1.2-5.8 1.3-5.6 1.2-4.7 1.3-3.2 1.2-2.6 1.3-1.8 1.2-1.5 1.3-1.3 1.2-.8 1.3-.2 1.2 .4 1.3 .7 1.2 1.1 1.3 2.1 1.2 1.6 1.3 1.1 1.2 .8 1.3-.1 1.2-1.1 1.3-1.6 1.2-2.1 1.3-2.4 1.2-2 1.3-1.4 1.2-1.3 1.3-1.8 1.2-2.4 1.3-2.2 1.2-1.4 1.3-1.1 1.2-.8 1.3 0 1.2 .8 1.3 1.2 1.2 1.2 1.3 1.7 1.2 1.4 1.3 .6 1.2 .3 1.3 .3 1.2 .5 1.3 .7 1.2 1 1.3 2.1 1.2 2.8 1.3 2.9 1.2 3.4 1.3 3.4 1.2 3.1 1.3 3.1 1.2 2.7 1.3 2.5 1.2 2.2 1.3 1.8 1.2 1.4 1.3 1.4 1.2 1.2 1.3 1 1.2 1.4 1.3 2.9 1.2 4.9 1.3 5.6 1.2 7.1 1.3 6.8 1.2 5.5 1.3 5 1.2 4.8 1.3 4.7 1.2 4.9 1.3 5.3 1.2 5.5 1.3 5.6 1.2 5.4 1.3 4.9 1.2 4.3 1.3 3.7 1.2 3.4 1.3 3.2 1.2 3.1 1.3 3 1.2 2.7 1.3 2.4 1.2 2.2 1.3 2.1 1.2 1.7 1.3 1.6 1.2 1.6 1.3 1.2 1.2 .7 1.3-.2 1.2-.6 1.3-1.1 1.2-2.8 1.3-2.7 1.2-1.9 1.3-1.3 1.2 .6 1.3 3 1.2 3.4 1.3 4.4 1.2 4 1.3 2.6 1.2 2.3 1.3 1.8 1.2 1.6 1.3 1.4 1.2 1.2 1.3 1.1 1.2 .9 1.3 .9 1.2 .8 1.3 .7 1.2 .6 1.3 .5 1.2 .4 1.3 .4 1.2 .3 1.3 .2 1.2 .2 1.3 0 1.2-.1 1.3-.1 1.2-.2 1.3-.3 1.2-.3 1.3-.3 1.2-.3 1.3-.2 1.2-.3 1.3-.4 1.2-.4 1.3-.3 1.2-.4 1.3-.4 1.2-.4 1.3-.3 1.2-.4 1.3-.3 1.2-.3 1.3-.3 1.2-.3 1.3-.3 1.2-.4 1.3-.3 1.2-.4 1.3-.3 1.2-.5 1.3-.4 1.2-.6 1.3-.8 1.2-.9 1.3-1.1 1.2-1.2 1.3-1.4 1.2-1.6 1.3-1.8 1.2-1.9 1.3-2.1 1.2-2.3 1.3-2.3 1.2-2.1 1.3-1.7 1.2-1.8 1.3-1.6 1.2-1.3 1.3-.8 1.2-.5 1.3-.5 1.2-.4 1.3-.3 1.2-.2 1.3-.2 1.2-.2 1.3-.1 1.2 0 1.3-.1 1.2-.1 1.3-.1 1.2-.2 1.3-.5 1.2-1.1 1.3-1.7 1.2-1.9 1.3-3.1 1.2-3.4 1.3-2.3 1.2-1.8 1.3-1.3 1.2-.2 1.3 .5 1.2 1 1.3 1.4 1.2 1.9 1.3 1.7 1.2 1.1 1.3 .8 1.2 .1 1.3-.8 1.2-1.1 1.3-1.4 1.2-1.8 1.3-2.3 1.2-2.1 1.3-1.9 1.2-1.7 1.3-1.6 1.2-1 1.3-.9 1.2-.6 1.3-.2 1.2 .3 1.3 .4 1.2 .5 1.3 .4 1.2 .5 1.3 .6 1.2 .6 1.3 .5 1.2 .5 1.3 .4 1.2 .2 1.3 .3 1.2 .2 1.3 .2 1.2 .1 1.3 .2 1.2 .1 1.3 0 1.2 0 1.3 0 1.2 0 1.3-.1 1.2 .3 1.3 1.6 1.2 2.3 1.3 2.4 1.2 3.2 1.3 3.2 1.2 1.6 1.3 .3 1.2 .2 1.3 .1 1.2 0 1.3-.1 1.2-.2 1.3-.2 1.2-.1 1.3 .4 1.2 .8 1.3 1 1.2 .8 1.3 .8 1.2 .8 1.3 .8 1.2 .8 1.3 .8 .1 0"/>
<path id="a3" class="c" d="M124 674.9l.8 0 .7 0 .8 0 .7 0 .8 0 .7 0 .8 0 .7 0 .8 0 .7 0 .8 0 .7 0 .8 0 .7 0 .8 0 .7 0 .8 0 .7 0 .8 0 .7 0 .8 0 .7 0 .8 0 .7 0 .8 0 .7 0 .8 0 .7 0 .8 0 .7 0 .8 0 .7 .2 .8 .1 .7 .1 .8 .1 .7 .2 .8 .1 .7 .1 .8 .2 .7 .1 .8 .1 .7 0 .8-.4 .7-.4 .8-.3 .7-.4 .8-.4 .7-.4 .8-.3 .7-.1 .8 .5 .7 .6 .8 .6 .7 .6 .8 .5 .7-.9 .8-.8 .7-.8 .8-.8 .7-.8 .8-.1 .7 .1 .8 .2 .7 .1 .8 .2 .7 .2 .8 .2 .7 .7 .8 .8 .7 .7 .8 .8 .7 .8 .8 0 .7-.2 .8-.3 .7-.2 .8-.3 .7-.2 .8-.2 .7-.3 .8-.3 .7-.3 .8-.2 .7-.3 .8-.3 .7 .2 .8 .6 .7 .6 .8 .6 .7-.1 .8-.9 .7-.8 .8-.8 .7-.2 .8 .3 .7 .3 .8 .3 .7 .3 .8 .4 .7 .3 .8 .3 .7 .3 .8 .3 .7 .3 .8 .4 .7 .3 .8-.1 .7-.7 .8-.7 .7-.8 .8-.3 .7 .6 .8 .6 .7 .6 .8 .5 .7 .6 .8-.8 .7-.9 .8-.8 .7-.9 .8 .5 .7 .4 .8 .5 .7 .4 .8 .4 .7 .5 .8 0 .7-.4 .8-.4 .7-.4 .8-.5 .7-.4 .8-.4 .7 .7 .8 1 .7 1.1 .8 1 .7 1 .8 .1 .7-.9 .8-.9 .7-.9 .8-.9 .7-.9 .8-1 .7-.3 .8-.2 .7-.2 .8-.2 .7-.2 .8 .1 .7 .5 .8 .4 .7 .4 .8 .5 .7 .2 .8-.3 .7-.2 .8-.3 .7-.3 .8-.2 .7-.8 .8-1 .7-1 .8-1.1 .7-.8 .8 .6 .7 .6 .8 .6 .7 .6 .8 .7 .7 .5 .8 .4 .7 .4 .8 .3 .7 .4 .8 .4 .7 .4 .8 .2 .7 .2 .8 .1 .7 .2 .8 .1 .7 .2 .8 0 .7-1 .8-1.1 .7-1.1 .8-1.1 .7-1.1 .8 0 .7 .3 .8 .3 .7 .3 .8 .2 .7 .3 .8 .2 .7 .3 .8-.5 .7-.8 .8-.8 .7-.8 .8-.8 .7-.8 .8-.8 .7-.8 .8 .2 .7 .3 .8 .4 .7 .3 .8-.9 .7-1.2 .8-1.1 .7-1.1 .8-.3 .7-.2 .8-.3 .7-.3 .8-.4 .7-.4 .8-.1 .7 .9 .8 1 .7 .9 .8 .9 .7 .8 .8-3.2 .7-3.2 .8-3.3 .7-3.2 .8-3.3 .7-1.4 .8-.4 .7-.4 .8-.4 .7 .4 .8 .8 .7 .6 .8 .6 .7-.6 .8-1.2 .7-1.2 .8-1.2 .7-1.9 .8-2.1 .7-2.1 .8-1.9 .7-1.9 .8-1.8 .7-1.6 .8-.2 .7-.3 .8-.2 .7-.1 .8-.2 .7-.2 .8-1 .7-2.1 .8-2 .7-.8 .8-.5 .7-.5 .8-.6 .7-.6 .8-1.1 .7-1.7 .8-1.7 .7-1.7 .8-1.8 .7-1.9 .8-1.9 .7-1.1 .8-.9 .7-.9 .8-.9 .7-1 .8-.9 .7-.9 .8-.9 .7-.9 .8-1.5 .7-1.8 .8-1.8 .7-1.7 .8-1.6 .7-1.6 .8-1.6 .7-1.5 .8-1.1 .7-.8 .8-.7 .7-.8 .8-.7 .7-.8 .8-.7 .7-.7 .8-1.2 .7-1.3 .8-1.2 .7-1.2 .8-1.2 .7-1.2 .8-1.2 .7-1.1 .8-.7 .7-.6 .8-.6 .7-.6 .8-.6 .7-.6 .8-.6 .7-.6 .8-.6 .7-.9 .5-.7 1.2-1.7 1.3-1.7 1.2-1.7 1.3-1.7 1.2-1.6 1.3-1.1 1.2-1 1.3-1 1.2-1 1.3-1 1.2-1.3 1.3-1.4 1.2-1.5 1.3-1.4 1.2-1.4 1.3-1.4 1.2-1.2 1.3-.9 1.2-.8 1.3-.8 1.2-.7 1.3-.8 1.2-.8 1.3-1.1 1.2-1.1 1.3-1.1 1.2-1 1.3-1 1.2-.9 1.3-.9 1.2-.6 1.3-.5 1.2-.3 1.3-.3 1.2-.2 1.3-.3 1.2-.2 1.3-.3 1.2-.5 1.3-.4 1.2-.4 1.3-.3 1.2-.3 1.3-.3 1.2-.3 1.3-.1 1.2 .1 1.3 .1 1.2 .2 1.3 .1 1.2 .2 1.3 .2 1.2 .3 1.3 .1 1.2 .1 1.3 .1 1.2 .2 1.3 .1 1.2 .1 1.3 .1 1.2 .1 1.3 .1 1.2 .2 1.3 .2 1.2 .3 1.3 .3 1.2 .3 1.3 .3 1.2 .3 1.3 .3 1.2 .4 1.3 .3 1.2 .4 1.3 .4 1.2 .4 1.3 .4 1.2 .4 1.3 .4 1.2 .4 1.3 .5 1.2 .5 1.3 .5 1.2 .5 1.3 .5 1.2 .5 1.3 .6 1.2 .7 1.3 .7 1.2 .8 1.3 .8 1.2 .7 1.3 .6 1.2 .6 1.3 .5 1.2 .4 1.3 .4 1.2 .4 1.3 .5 1.2 .4 1.3 .6 1.2 .6 1.3 .7 1.2 .8 1.3 .9 1.2 .8 1.3 .9 1.2 1 1.3 1.1 1.2 1.1 1.3 1.2 1.2 1.2 1.3 1.1 1.2 1.2 1.3 1.1 1.2 1.2 1.3 1.2 1.2 1.1 1.3 1.2 1.2 1.2 1.3 1.2 1.2 1.2 1.3 1.2 1.2 1.2 1.3 1.2 1.2 1.2 1.3 1.2 1.2 1.2 1.3 1.2 1.2 1.3 1.3 1.2 1.2 1.2 1.3 1.2 1.2 1.2 1.3 1.2 1.2 1.2 1.3 1.2 1.2 1.2 1.3 1.1 1.2 1.2 1.3 1.2 1.2 1.2 1.3 1.2 1.2 1.2 1.3 1.2 1.2 1.2 1.3 1.2 1.2 1.2 1.3 1.2 1.2 1.2 1.3 1.2 1.2 1.2 1.3 1.1 1.2 1.2 1.3 1.2 1.2 1.2 1.3 1.1 1.2 1.2 1.3 1.1 1.2 1.2 1.3 1.1 1.2 1.1 1.3 1.1 1.2 1.1 1.3 1 1.2 1.1 1.3 1 1.2 1 1.3 1 1.2 1 1.3 1 1.2 1 1.3 .9 1.2 1 1.3 .9 1.2 1 1.3 .9 1.2 .9 1.3 .9 1.2 .8 1.3 .9 1.2 .8 1.3 .9 1.2 .8 1.3 .8 1.2 .8 1.3 .7 1.2 .8 1.3 .8 1.2 .7 1.3 .7 1.2 .6 1.3 .5 1.2 .5 1.3 .4 1.2 .5 1.3 .4 1.2 .4 1.3 .2 1.2 .1 1.3-.1 1.2-.3 1.3-.5 1.2-.6 1.3-.6 1.2-.9 1.3-1.2 1.2-1.3 1.3-1 1.2-.5 1.3 .3 1.2 .8 1.3 1.1 1.2 1 1.3 1.4 1.2 1.1 1.3 .4 1.2-.3 1.3-.6 1.2-1 1.3-1.7 1.2-2.3 1.3-2.6 1.2-3.2 1.3-3.4 1.2-3.4 1.3-3.5 1.2-3.5 1.3-3.4 1.2-3.2 1.3-2.9 1.2-2.8 1.3-2.4 1.2-1.8 1.3-1.2 1.2-1.4 1.3-2.4 1.2-5.1 1.3-6.5 1.2-8.4 1.3-7.7 1.2-6.7 1.3-4.2 1.2-1.8 1.3 1.4 1.2 2.3 1.3 3.6 1.2 3.8 1.3 4.2 1.2 3.9 1.3 3.6 1.2 3.4 1.3 2.8 1.2 2.5 1.3 2.2 1.2 1.9 1.3 1.6 1.2 1.5 1.3 1.1 1.2 .9 1.3 .8 1.2 .7 1.3 .3 1.2-.1 1.3-.3 1.2-.5 1.3-.6 1.2-1.2 1.3-1.9 1.2-3.4 1.3-2.3 1.2-.6 1.3 2.5 1.2 3.8 1.3 5.8 1.2 6.9 1.3 7.5 1.2 6.5 1.3 5.7 1.2 4.3 1.3 3.4 1.2 2.5 1.3 2.1 1.2 1.9 1.3 1.7 1.2 1.5 1.3 1.3 1.2 1.1 1.3 .9 1.2 .9 1.3 .7 1.2 .8 1.3 .7 1.2 .6 1.3 .7 1.2 .5 1.3 .5 1.2 .5 1.3 .4 1.2 .5 1.3 .3 1.2 .3 1.3 .3 1.2 .3 1.3 .2 1.2 .3 1.3 .2 1.2 .2 1.3 .2 1.2 .2 1.3 .1 1.2 .2 1.3 .2 1.2 .1 1.3 .1 1.2 .2 1.3 .1 1.2 .1 1.3 .1 1.2 .2 1.3 .1 1.2 .2 1.3 .1 1.2 .2 1.3 .2 1.2 .2 1.3 .2 1.2 .2 1.3 .2 1.2 .3 1.3 .2 1.2 .2 1.3 .3 1.2 .2 1.3 .3 1.2 .2 1.3 .3 1.2 .3 1.3 .2 1.2 .3 1.3 .2 1.2 .3 1.3 .2 1.2 .3 1.3 .2 1.2 .2 1.3 .2 1.2 .3 1.3 .2 1.2 .2 1.3 .2 1.2 .2 1.3 .2 1.2 .2 1.3 .2 1.2 .2 1.3 .2 1.2 .3 1.3 .2 1.2 .2 1.3 .2 1.2 .2 1.3 .2 1.2 .2 1.3 .2 1.2 .1 1.3 .2 1.2 .2 1.3 .1 1.2 .2 1.3 .1 1.2 .1 1.3 .1 1.2 .1 1.3 .1 1.2 .1 1.3 0 1.2 .1 1.3 0 1.2 .1 1.3 0 1.2 .1 1.3 0 1.2 .1 1.3 0 1.2 .1 1.3 0 1.2 0 1.3 .1 1.2 0 1.3 0 1.2 0 1.3 .1 1.2 0 1.3 0 1.2 .1 1.3 0 1.2 0 1.3 0 1.2 0 1.3 .1 1.2 0 1.3 0 1.2 0 1.3 0 1.2 0 1.3 0 1.2 .1 1.3 0 1.2 0 1.3 0 1.2 0 1.3 .1 1.2 0 1.3 0 1.2 0 1.3 .1 1.2 0 1.3 .1 1.2 .1 1.3 .1 1.2 .2 1.3 .1 1.2 .2 1.3 .1 1.2 .2 1.3 .2 1.2 .1 1.3 .2 1.2 .2 1.3 .2 1.2 .2 1.3 .1 1.2 .2 1.3 .2 1.2 .2 1.3 .1 1.2 .2 1.3 .1 1.2 .2 1.3 .1 1.2 .1 1.3 .1 1.2 .1 1.3 .1 1.2 .1 1.3 .1 1.2 .1 1.3 .1 1.2 .1 1.3 .1 1.2 .1 1.3 .1 1.2 0 1.3 .1 1.2 0 1.3 0 1.2 0 1.3-.2 1.2-.1 1.3-.4 1.2-1.4 1.3-2 1.2-1.4 1.3-1.3 1.2-1 1.3-.4 1.2 .9 1.3 1.7 1.2 2.2 1.3 3 1.2 1.8 1.3 .7 1.2-.3 1.3-.5 1.2-1 1.3-1.7 1.2-.6 1.3-.3 1.2 .1 1.3 .9 1.2 1 1.3 .7 1.2 .7 1.3 .6 1.2 .5 1.3 .3 1.2 0 1.3 0 1.2-.1 1.3 0 1.2-.1 1.3-.1 1.2-.1 1.3 0 1.2-.1 1.3-.1 1.2-.1 1.3-.1 1.2-.1 1.3 0 1.2-.1 1.3-.1 1.2-.1 1.3 0 1.2-.1 1.3-.1 1.2-.1 1.3-.1 1.2-.1 1.3 0 1.2-.1 1.3-.1 1.2-.1 1.3-.1 1.2-.1 1.3 0 1.2-.1 1.3-.1 1.2-.1 1.3 0 1.2-.1 1.3-.1 1.2 0 1.3-.1 1.2 0 1.3-.1 1.2-.1 1.3 0 1.2-.1 1.3-.1 1.2 0 1.3-.1 1.2-.1 1.3 0 1.2-.1 1.3 0 1.2-.1 1.3-.1 1.2 0 1.3-.1 1.2 0 1.3-.1 1.2 0 1.3-.1 1.2 0 1.3-.1 1.2 0 1.3-.1 1.2 0 1.3-.1 1.2 0 1.3 0 1.2-.1 1.3 0 1.2 0 1.3-.1 1.2 0 1.3 0 1.2 0 1.3 0 1.2 0 1.3 0 1.2 0 1.3 0 1.2 0 1.3 0 1.2 0 1.3 0 1.2 .1 1.3 0 1.2 0 1.3 0 1.2 0 1.3 0 1.2 0 1.3 0 1.2 .1 1.3 0 1.2 0 1.3 0 1.2 0 1.3 0 1.2 .1 1.3 0 1.2 0 1.3 0 1.2 .1 1.3 0 1.2 0 1.3 0 1.2 .1 1.3 0 1.2 0 1.3 0 1.2 .1 1.3 0 1.2 0 1.3 .1 1.2 0 1.3 .1 1.2 0 1.3 .1 1.2 .1 1.3 .1 1.2 .2 1.3 .1 1.2 .1 1.3 .1 1.2 .2 1.3 .1 1.2 .2 1.3 .1 1.2 .2 1.3 .2 1.2 .1 1.3 .2 1.2 .2 1.3 .1 1.2 .2 1.3 .1 1.2 .2 1.3 .1 1.2 .2 1.3 .1 1.2 .2 1.3 .1 1.2 .1 1.3 .2 1.2 .1 1.3 .2 1.2 .1 1.3 .2 1.2 .1 1.3 .2 1.2 .1 1.3 .2 1.2 .1 1.3 .2 1.2 .2 1.3 .1 1.2 .2 1.3 .1 1.2 .1 1.3 .2 1.2 .1 1.3 .2 1.2 .1 1.3 .1 1.2 .2 1.3 .1 1.2 .1 1.3 .2 1.2 .1 1.3 .2 1.2 .1 1.3 .2 1.2 .1 1.3 .2 1.2 .1 1.3 .2 1.2 0 1.3 .3 1.2 .1 1.3-.1 1.2 .3 1.3 .3 1.2 0 1.3-.1 1.2-.2 1.3 .1 1.2 .5 1.3-.2 1.2-.3 1.3 .4 1.2-.1 1.3-.4 1.2 .1 1.3 0 1.2 .1 1.3 .1 1.2-.6 1.3-.1 1.2 .4 1.3-.3 1.2-.3 1.3 .3 1.2-.1 1.3-.4 1.2-.1 1.3-.3 1.2 .2 1.3 .1 1.2-.5 1.3-.2 1.2 .2 1.3-.5 1.2-.4 1.3 0 1.2-.3 1.3-.4 1.2-.5 1.3-.6 1.2-.3 1.3-.6 1.2-1 1.3-1.2 1.2-1.4 1.3-2.1 1.2-3.6 1.3-6.4 1.2-8.2 1.3-10.3 1.2-9.2 1.3-8.8 1.2-7.5 1.3-6.1 1.2-3.7 1.3-1 1.2 3 1.3 6.2 1.2 8.2 1.3 8.9 1.2 7.5 1.3 5.7 1.2 3.6 1.3 2.5 1.2 2.4 1.3 1.9 1.2 .9 1.3 1.4 1.2 1.7 1.3 1.2 1.2 1.1 1.3 .2 1.2 .3 1.3 1.4 1.2 .2 1.3-.2 1.2 .9 1.3 0 1.2-1.4 1.3-1 1.2-.9 1.3-.6 1.2-.5 1.3-1.7 1.2-1.5 1.3-.7 1.2-1.9 1.3-2.4 1.2-1.1 1.3-.9 1.2-1.2 1.3-1 1.2-.8 1.3-.2 1.2 0 1.3-.5 1.2 0 1.3 .6 1.2-.1 1.3 0 1.2 .5 1.3 .6 1.2 1 1.3 1 1.2 .9 1.3 1.2 1.2 1.4 1.3 .7 1.2 1.2 1.3 1.6 1.2 1.1 1.3 1.1 1.2 1.2 1.3 1.1 1.2 1.4 1.3 1.2 1.2 .6 1.3 1.1 1.2 1 1.3 .1 1.2 .6 1.3 1.2 1.2 .6 1.3 .6 1.2 .2 1.3 0 1.2 1 1.3 .4 1.2-.3 1.3 .9 1.2 .8 1.3-.5 1.2 0 1.3 .5 1.2 .4 1.3 .7 1.2-.1 1.3-.2 1.2 .8 1.3-.1 1.2-.8 1.3 .5 1.2 .4 1.3-.7 1.2-.5 1.3-.7 1.2-.4 1.3 .1 1.2-.9 1.3-1 1.2-.1 1.3-1 1.2-1.7 1.3-.9 1.2-1 1.3-1.5 1.2-1.7 1.3-2.3 1.2-2.4 1.3-2.7 1.2-3.6 1.3-4.7 1.2-5 1.3-5.1 1.2-5.1 1.3-4.9 1.2-4 1.3-3 1.2-2.2 1.3-1.3 1.2-.7 1.3 .6 1.2 .8 1.3 .2 1.2 .1 1.3-.5 1.2-1 1.3-.6 1.2-.5 1.3-.2 1.2 .2 1.3 1 1.2 1.3 1.3 1.5 1.2 1.5 1.3 1.6 1.2 1.4 1.3 1.2 1.2 1.2 1.3 .9 1.2 .4 1.3-.2 1.2-.7 1.3-.7 1.2-1.2 1.3-1.7 1.2-2.5 1.3-3.9 1.2-4.1 1.3-4.6 1.2-4.6 1.3-3.6 1.2-3 1.3-1.7 1.2-1.1 1.3 0 1.2 1.6 1.3 2.2 1.2 3.3 1.3 3 1.2 2.7 1.3 1.9 1.2 1.3 1.3 .3 1.2-.1 1.3-.1 1.2-.2 1.3-.3 1.2-.4 1.3-.5 1.2-.7 1.3-.9 1.2-1.1 1.3-.9 1.2-1 1.3-.9 1.2-.2 1.3 1.7 1.2 2.7 1.3 4.6 1.2 4.4 1.3 3.6 1.2 2.8 1.3 2.2 1.2 1.8 1.3 .8 1.2-.2 1.3-.6 1.2-.9 1.3-1 1.2-.9 1.3-.8 1.2-.7 1.3-.8 1.2-.8 1.3-.8 1.2-.9 1.3-.8 1.2-.9 1.3-1 1.2-1 1.3-.9 1.2-.8 1.3-.6 1.2-.7 1.3-.5 1.2-.3 1.3 .1 1.2 .7 1.3 1 1.2 1.1 1.3 1.7 1.2 1.7 1.3 1.3 1.2 1.2 1.3 .9 1.2 0 1.3-1.6 1.2-2.4 1.3-2.7 1.2-3.5 1.3-3.2 1.2-2.4 1.3-1.9 1.2-1.7 1.3-1.6 1.2-1.4 1.3-2.1 1.2-4 1.3-5.4 1.2-6.9 1.3-8.7 1.2-11.1 1.3-10.4 1.2-8.3 1.3-4.8 1.2-2.3 1.3-.8 1.2 .3 1.3 1.9 1.2 2.6 1.3 3.8 1.2 4.1 1.3 4.7 1.2 4 1.3 3.8 1.2 2.4 1.3-.9 1.2-3.1 1.3-4.3 1.2-6 1.3-5.7 1.2-4.9 1.3-3.2 1.2-2.6 1.3-1.9 1.2-1.6 1.3-1.3 1.2-.8 1.3-.2 1.2 .5 1.3 .7 1.2 1.3 1.3 2.3 1.2 1.7 1.3 1.3 1.2 .9 1.3-.1 1.2-1.1 1.3-1.5 1.2-1.9 1.3-2.3 1.2-1.9 1.3-1.3 1.2-1.3 1.3-1.6 1.2-2.3 1.3-2.1 1.2-1.3 1.3-1.1 1.2-.7 1.3 0 1.2 .7 1.3 1.1 1.2 1.1 1.3 1.6 1.2 1.3 1.3 .5 1.2 .3 1.3 .2 1.2 .5 1.3 .7 1.2 .9 1.3 1.9 1.2 2.5 1.3 2.7 1.2 3.1 1.3 3.1 1.2 2.9 1.3 2.8 1.2 2.5 1.3 2.3 1.2 2 1.3 1.6 1.2 1.3 1.3 1.2 1.2 1.1 1.3 1 1.2 1.3 1.3 2.8 1.2 4.9 1.3 5.6 1.2 7.1 1.3 6.8 1.2 5.5 1.3 5 1.2 4.8 1.3 4.7 1.2 4.9 1.3 5.3 1.2 5.5 1.3 5.6 1.2 5.4 1.3 4.9 1.2 4.3 1.3 3.7 1.2 3.4 1.3 3.2 1.2 3.1 1.3 3 1.2 2.7 1.3 2.4 1.2 2.2 1.3 2.1 1.2 1.7 1.3 1.6 1.2 1.6 1.3 1.2 1.2 .7 1.3-.2 1.2-.6 1.3-1.2 1.2-3 1.3-2.8 1.2-1.9 1.3-1.4 1.2 .6 1.3 3.1 1.2 3.5 1.3 4.5 1.2 4.1 1.3 2.7 1.2 2.2 1.3 2 1.2 1.6 1.3 1.4 1.2 1.2 1.3 1.1 1.2 1 1.3 .9 1.2 .8 1.3 .8 1.2 .6 1.3 .5 1.2 .4 1.3 .4 1.2 .3 1.3 .2 1.2 .2 1.3 0 1.2-.1 1.3-.1 1.2-.3 1.3-.2 1.2-.3 1.3-.3 1.2-.3 1.3-.3 1.2-.3 1.3-.3 1.2-.4 1.3-.4 1.2-.4 1.3-.4 1.2-.3 1.3-.4 1.2-.3 1.3-.3 1.2-.3 1.3-.3 1.2-.4 1.3-.3 1.2-.3 1.3-.4 1.2-.4 1.3-.3 1.2-.4 1.3-.5 1.2-.6 1.3-.8 1.2-.9 1.3-1.2 1.2-1.2 1.3-1.4 1.2-1.6 1.3-1.8 1.2-1.9 1.3-2.1 1.2-2.4 1.3-2.3 1.2-2.1 1.3-1.8 1.2-1.8 1.3-1.6 1.2-1.3 1.3-.8 1.2-.5 1.3-.5 1.2-.4 1.3-.3 1.2-.3 1.3-.2 1.2-.1 1.3-.1 1.2-.1 1.3-.1 1.2-.1 1.3-.1 1.2-.2 1.3-.5 1.2-1.2 1.3-1.7 1.2-2 1.3-3.2 1.2-3.5 1.3-2.4 1.2-2 1.3-1.3 1.2-.3 1.3 .6 1.2 .9 1.3 1.2 1.2 1.8 1.3 1.5 1.2 1.1 1.3 .8 1.2 0 1.3-.8 1.2-1.2 1.3-1.4 1.2-2 1.3-2.3 1.2-2.3 1.3-1.9 1.2-1.8 1.3-1.6 1.2-1.2 1.3-.8 1.2-.7 1.3-.2 1.2 .2 1.3 .3 1.2 .4 1.3 .4 1.2 .4 1.3 .5 1.2 .5 1.3 .5 1.2 .4 1.3 .3 1.2 .2 1.3 .1 1.2 .2 1.3 .1 1.2 .1 1.3 .1 1.2 0 1.3 0 1.2-.1 1.3-.1 1.2-.1 1.3-.1 1.2 .3 1.3 1.6 1.2 2.2 1.3 2.2 1.2 3.1 1.3 3.1 1.2 1.6 1.3 .2 1.2 .2 1.3 .1 1.2 .1 1.3-.2 1.2-.1 1.3-.2 1.2-.1 1.3 .3 1.2 .8 1.3 .9 1.2 .9 1.3 .7 1.2 .7 1.3 .8 1.2 .8 1.3 .8 .1 0"/>
<path id="a4" class="c" d="M124 871.8l.8 0 .7 0 .8 0 .7 0 .8 0 .7 0 .8 0 .7 0 .8 0 .7 0 .8 0 .7 0 .8 0 .7 0 .8 0 .7 0 .8 0 .7 0 .8 0 .7 0 .8 0 .7 0 .8 0 .7 0 .8 0 .7 0 .8 0 .7 0 .8 0 .7 0 .8 0 .7 0 .8 0 .7-.1 .8-.2 .7-.2 .8-.2 .7 .2 .8 .4 .7 .4 .8 .4 .7-.2 .8-.4 .7-.4 .8-.4 .7 .1 .8 .4 .7 .3 .8 .4 .7 .1 .8 0 .7 0 .8 0 .7 .2 .8 .3 .7 .3 .8 .3 .7 .3 .8 .3 .7-1.4 .8-2.2 .7-2.2 .8-2.3 .7 .7 .8 2 .7 2.1 .8 2.1 .7 2 .8 1.1 .7-.9 .8-.9 .7-1 .8-.9 .7-.9 .8 .3 .7 .2 .8 .3 .7 .3 .8 .2 .7 .3 .8 .3 .7 .1 .8-.7 .7-.8 .8-.7 .7-.5 .8 1.2 .7 1.3 .8 1.2 .7 1.2 .8 1.2 .7-1.7 .8-2.3 .7-2.4 .8-2.4 .7-2.4 .8 .1 .7 3.1 .8 3 .7 3 .8 3 .7 2.2 .8-2.9 .7-2.9 .8-2.9 .7-2.9 .8-2.9 .7 1.9 .8 2.3 .7 2.2 .8 2.3 .7 2.2 .8-.2 .7-1.8 .8-1.9 .7-1.9 .8-1.8 .7-.9 .8 1.6 .7 1.7 .8 1.6 .7 1.7 .8 1.7 .7 1.6 .8-.6 .7-2 .8-2.1 .7-2 .8-2.1 .7-2 .8 .9 .7 1.4 .8 1.4 .7 1.4 .8 1.4 .7 1.4 .8 1.4 .7 .3 .8-1.2 .7-1.2 .8-1.2 .7-1.2 .8-1.2 .7-1.2 .8 0 .7 .5 .8 .4 .7 .5 .8 .2 .7-.2 .8-.3 .7-.2 .8-.2 .7-.2 .8-.2 .7-.1 .8-.1 .7-.1 .8-.1 .7-.2 .8-.8 .7-1 .8-1 .7-1 .8-.9 .7-1 .8 1.1 .7 1.9 .8 1.9 .7 1.9 .8 2 .7 .7 .8-1.1 .7-1.1 .8-1.1 .7-1.1 .8-1.1 .7 .4 .8 1.2 .7 1.2 .8 1.2 .7-.2 .8-1 .7-.9 .8-1 .7-1 .8-1 .7-1 .8-1 .7-1 .8-.4 .7 1 .8 1 .7 1 .8 1 .7 1 .8 .9 .7 .9 .8 .1 .7-1.5 .8-1.6 .7-1.6 .8-1.6 .7-1.7 .8-1.6 .7 .8 .8 1.4 .7 1.4 .8 1.4 .7 1.3 .8-.4 .7-2.4 .8-2.4 .7-2.5 .8-2.4 .7-2.5 .8-1 .7 2.1 .8 2 .7 2 .8 2 .7 1.9 .8 .3 .7-1.5 .8-1.6 .7-1.5 .8-1.6 .7-1.8 .8-2.9 .7-3 .8-2.9 .7-3 .8-2.9 .7 1.3 .8 1.7 .7 1.5 .8 1.5 .7 1.3 .8 1.3 .7-.1 .8-3.6 .7-3.5 .8-3.6 .7-3.5 .8-3.4 .7-.5 .8-.1 .7 0 .8 0 .7 .1 .8 .1 .7-.3 .8-1.4 .7-1.5 .8-1.4 .7-1.5 .8-1.3 .7-.3 .8-.3 .7-.3 .8-.4 .7-.4 .8-.5 .7-.5 .8-.7 .7-1.7 .8-1.8 .7-1.8 .8-1.9 .7-1.9 .8-2 .7-2 .8-2 .7-.7 .8-.7 .7-.8 .8-.7 .7-.8 .8-.7 .7-.7 .8-.9 .7-1.9 .8-1.9 .7-1.9 .8-1.8 .7-1.7 .8-1.4 .7-1.3 .8-1.3 .7-1.3 .8-1.3 .7-1.2 .8-1.3 .7-1.2 .8-1.2 .7-1.2 .8-.3 .7-.3 .8-.3 .7-.3 .8-.3 .7-.2 .8-.3 .7-.2 .8-1.2 .7-1.2 .8-1.1 .7-1.2 .8-1.1 .7-1.2 .8-1.1 .7-1.1 .8-1.2 .7-1.1 .5-.8 1.2-.7 1.3-.7 1.2-.8 1.3-.7 1.2-.7 1.3-.7 1.2-1.3 1.3-1.7 1.2-1.6 1.3-1.6 1.2-1.6 1.3-1.6 1.2-1.4 1.3-.7 1.2-.7 1.3-.6 1.2-.7 1.3-.5 1.2-.6 1.3-1 1.2-1.2 1.3-1.2 1.2-1.2 1.3-1.1 1.2-1.2 1.3-1.1 1.2-1.1 1.3-.6 1.2-.5 1.3-.5 1.2-.4 1.3-.3 1.2-.2 1.3-.1 1.2-.2 1.3-.4 1.2-.5 1.3-.4 1.2-.5 1.3-.4 1.2-.4 1.3-.4 1.2-.3 1.3-.3 1.2-.2 1.3 0 1.2 .1 1.3 .1 1.2 .2 1.3 .1 1.2 .2 1.3 .2 1.2 .2 1.3 .3 1.2 .2 1.3 .1 1.2 .1 1.3 .2 1.2 .1 1.3 .1 1.2 .1 1.3 .2 1.2 .1 1.3 .2 1.2 .1 1.3 .2 1.2 .2 1.3 .2 1.2 .2 1.3 .3 1.2 .3 1.3 .2 1.2 .3 1.3 .3 1.2 .3 1.3 .4 1.2 .4 1.3 .4 1.2 .4 1.3 .4 1.2 .5 1.3 .4 1.2 .5 1.3 .4 1.2 .5 1.3 .6 1.2 .7 1.3 .7 1.2 .7 1.3 .7 1.2 .6 1.3 .6 1.2 .6 1.3 .4 1.2 .4 1.3 .3 1.2 .4 1.3 .4 1.2 .4 1.3 .5 1.2 .6 1.3 .7 1.2 .7 1.3 .8 1.2 .8 1.3 .9 1.2 .9 1.3 1 1.2 1.1 1.3 1 1.2 1.1 1.3 1.1 1.2 1.1 1.3 1.1 1.2 1.1 1.3 1.1 1.2 1.1 1.3 1.1 1.2 1.1 1.3 1.1 1.2 1.1 1.3 1.1 1.2 1.2 1.3 1.1 1.2 1.1 1.3 1.2 1.2 1.1 1.3 1.1 1.2 1.2 1.3 1.1 1.2 1.1 1.3 1.2 1.2 1.1 1.3 1.1 1.2 1.1 1.3 1.1 1.2 1.1 1.3 1.2 1.2 1 1.3 1.1 1.2 1.1 1.3 1.1 1.2 1.1 1.3 1.1 1.2 1.1 1.3 1.1 1.2 1.2 1.3 1.1 1.2 1.1 1.3 1.1 1.2 1.1 1.3 1.1 1.2 1.1 1.3 1 1.2 1.1 1.3 1.1 1.2 1 1.3 1.1 1.2 1 1.3 1.1 1.2 1 1.3 1 1.2 1 1.3 .9 1.2 1 1.3 .9 1.2 1 1.3 .9 1.2 .9 1.3 .9 1.2 .9 1.3 .9 1.2 .9 1.3 .9 1.2 .8 1.3 .9 1.2 .8 1.3 .8 1.2 .8 1.3 .8 1.2 .8 1.3 .7 1.2 .8 1.3 .7 1.2 .7 1.3 .8 1.2 .7 1.3 .7 1.2 .6 1.3 .7 1.2 .5 1.3 .5 1.2 .4 1.3 .5 1.2 .4 1.3 .4 1.2 .3 1.3 .2 1.2 .1 1.3-.1 1.2-.4 1.3-.6 1.2-.6 1.3-.8 1.2-1 1.3-1.4 1.2-1.5 1.3-1.2 1.2-.5 1.3 .3 1.2 1 1.3 1.2 1.2 1.2 1.3 1.6 1.2 1.3 1.3 .4 1.2-.3 1.3-.7 1.2-1.1 1.3-2.1 1.2-2.5 1.3-3 1.2-3.8 1.3-4 1.2-3.9 1.3-4 1.2-4.1 1.3-4 1.2-3.6 1.3-3.4 1.2-3.2 1.3-2.8 1.2-2.1 1.3-1.4 1.2-1.6 1.3-2.8 1.2-5.9 1.3-7.5 1.2-9.8 1.3-8.9 1.2-7.8 1.3-4.8 1.2-2.1 1.3 1.9 1.2 3.2 1.3 5 1.2 5.3 1.3 5.8 1.2 5.4 1.3 5 1.2 4.7 1.3 3.9 1.2 3.5 1.3 3.1 1.2 2.5 1.3 2.3 1.2 2 1.3 1.5 1.2 1.3 1.3 1.1 1.2 .9 1.3 .5 1.2-.1 1.3-.6 1.2-.7 1.3-1.1 1.2-1.9 1.3-3.2 1.2-5.5 1.3-3.8 1.2-1.2 1.3 2.7 1.2 4.2 1.3 6.3 1.2 7.5 1.3 8.1 1.2 7.1 1.3 6.2 1.2 4.7 1.3 3.7 1.2 2.8 1.3 2.2 1.2 2 1.3 1.9 1.2 1.7 1.3 1.4 1.2 1.1 1.3 1.1 1.2 .9 1.3 .8 1.2 .9 1.3 .7 1.2 .7 1.3 .7 1.2 .6 1.3 .5 1.2 .6 1.3 .5 1.2 .4 1.3 .4 1.2 .3 1.3 .3 1.2 .3 1.3 .2 1.2 .3 1.3 .2 1.2 .2 1.3 .2 1.2 .2 1.3 .2 1.2 .1 1.3 .2 1.2 .2 1.3 .1 1.2 .1 1.3 .2 1.2 .1 1.3 .1 1.2 .1 1.3 .2 1.2 .1 1.3 .2 1.2 .2 1.3 .2 1.2 .2 1.3 .2 1.2 .2 1.3 .2 1.2 .3 1.3 .2 1.2 .3 1.3 .2 1.2 .3 1.3 .2 1.2 .3 1.3 .2 1.2 .3 1.3 .3 1.2 .2 1.3 .3 1.2 .2 1.3 .3 1.2 .2 1.3 .3 1.2 .2 1.3 .2 1.2 .2 1.3 .3 1.2 .2 1.3 .2 1.2 .2 1.3 .2 1.2 .2 1.3 .2 1.2 .2 1.3 .3 1.2 .2 1.3 .2 1.2 .2 1.3 .2 1.2 .2 1.3 .2 1.2 .2 1.3 .2 1.2 .2 1.3 .2 1.2 .1 1.3 .2 1.2 .1 1.3 .2 1.2 .1 1.3 .1 1.2 .1 1.3 .1 1.2 .1 1.3 0 1.2 .1 1.3 0 1.2 .1 1.3 0 1.2 .1 1.3 0 1.2 .1 1.3 0 1.2 0 1.3 .1 1.2 0 1.3 .1 1.2 0 1.3 0 1.2 0 1.3 .1 1.2 0 1.3 0 1.2 .1 1.3 0 1.2 0 1.3 0 1.2 0 1.3 .1 1.2 0 1.3 0 1.2 0 1.3 0 1.2 0 1.3 0 1.2 .1 1.3 0 1.2 0 1.3 0 1.2 0 1.3 .1 1.2 0 1.3 0 1.2 0 1.3 .1 1.2 .1 1.3 0 1.2 .1 1.3 .2 1.2 .1 1.3 .1 1.2 .2 1.3 .1 1.2 .2 1.3 .2 1.2 .2 1.3 .1 1.2 .2 1.3 .2 1.2 .2 1.3 .2 1.2 .2 1.3 .2 1.2 .1 1.3 .2 1.2 .2 1.3 .1 1.2 .2 1.3 .1 1.2 .1 1.3 .1 1.2 .1 1.3 .1 1.2 .1 1.3 .1 1.2 .1 1.3 .1 1.2 .1 1.3 .1 1.2 .1 1.3 .1 1.2 0 1.3 .1 1.2 0 1.3 0 1.2 0 1.3-.2 1.2-.1 1.3-.4 1.2-1.4 1.3-2 1.2-1.4 1.3-1.3 1.2-1 1.3-.4 1.2 .9 1.3 1.7 1.2 2.2 1.3 3 1.2 1.8 1.3 .7 1.2-.3 1.3-.5 1.2-1 1.3-1.7 1.2-.6 1.3-.3 1.2 .1 1.3 .9 1.2 1 1.3 .7 1.2 .7 1.3 .6 1.2 .5 1.3 .3 1.2 0 1.3 0 1.2-.1 1.3 0 1.2-.1 1.3-.1 1.2-.1 1.3 0 1.2-.1 1.3-.1 1.2-.1 1.3-.1 1.2-.1 1.3 0 1.2-.1 1.3-.1 1.2-.1 1.3 0 1.2-.1 1.3-.1 1.2-.1 1.3-.1 1.2-.1 1.3 0 1.2-.1 1.3-.1 1.2-.1 1.3-.1 1.2-.1 1.3 0 1.2-.1 1.3-.1 1.2-.1 1.3 0 1.2-.1 1.3-.1 1.2 0 1.3-.1 1.2 0 1.3-.1 1.2-.1 1.3 0 1.2-.1 1.3-.1 1.2 0 1.3-.1 1.2-.1 1.3 0 1.2-.1 1.3 0 1.2-.1 1.3-.1 1.2 0 1.3-.1 1.2 0 1.3-.1 1.2 0 1.3-.1 1.2 0 1.3-.1 1.2 0 1.3-.1 1.2 0 1.3-.1 1.2 0 1.3 0 1.2-.1 1.3 0 1.2 0 1.3-.1 1.2 0 1.3 0 1.2 0 1.3 0 1.2 0 1.3 0 1.2 0 1.3 0 1.2 0 1.3 0 1.2 0 1.3 0 1.2 .1 1.3 0 1.2 0 1.3 0 1.2 0 1.3 0 1.2 0 1.3 .1 1.2 0 1.3 0 1.2 0 1.3 0 1.2 .1 1.3 0 1.2 0 1.3 0 1.2 .1 1.3 0 1.2 0 1.3 0 1.2 .1 1.3 0 1.2 0 1.3 .1 1.2 0 1.3 0 1.2 .1 1.3 0 1.2 0 1.3 .1 1.2 0 1.3 .1 1.2 .1 1.3 .1 1.2 .1 1.3 .1 1.2 .2 1.3 .1 1.2 .2 1.3 .1 1.2 .2 1.3 .2 1.2 .1 1.3 .2 1.2 .2 1.3 .2 1.2 .2 1.3 .2 1.2 .2 1.3 .1 1.2 .2 1.3 .2 1.2 .2 1.3 .2 1.2 .1 1.3 .2 1.2 .2 1.3 .1 1.2 .2 1.3 .2 1.2 .1 1.3 .2 1.2 .2 1.3 .2 1.2 .1 1.3 .2 1.2 .2 1.3 .2 1.2 .1 1.3 .2 1.2 .2 1.3 .2 1.2 .1 1.3 .2 1.2 .2 1.3 .2 1.2 .1 1.3 .2 1.2 .1 1.3 .2 1.2 .2 1.3 .1 1.2 .2 1.3 .1 1.2 .2 1.3 .2 1.2 .1 1.3 .2 1.2 .2 1.3 .2 1.2 .1 1.3 .2 1.2 0 1.3 .4 1.2 .2 1.3-.4 1.2 .5 1.3 .6 1.2-.1 1.3-.1 1.2-.7 1.3 .2 1.2 1.3 1.3-.6 1.2-.7 1.3 1 1.2-.2 1.3-1.1 1.2 .3 1.3 .4 1.2 .3 1.3 .2 1.2-1.3 1.3-.2 1.2 1.1 1.3-.8 1.2-.5 1.3 1 1.2-.1 1.3-.9 1.2-.3 1.3-.3 1.2 .7 1.3 .5 1.2-1.3 1.3-.2 1.2 .6 1.3-.9 1.2-.6 1.3 .4 1.2-.3 1.3-.4 1.2-.7 1.3-.8 1.2-.2 1.3-.4 1.2-1.4 1.3-1.2 1.2-1.3 1.3-2.4 1.2-3.9 1.3-6.9 1.2-8.8 1.3-11 1.2-9.9 1.3-9.4 1.2-8.1 1.3-6.5 1.2-4 1.3-1.1 1.2 3.7 1.3 7.3 1.2 9.8 1.3 10.6 1.2 8.9 1.3 7 1.2 4.4 1.3 2.7 1.2 3.2 1.3 2.4 1.2 .3 1.3 1.8 1.2 2.5 1.3 1.7 1.2 1.5 1.3-.6 1.2-.1 1.3 2.7 1.2 .1 1.3-1.1 1.2 2.2 1.3 .2 1.2-2.7 1.3-1.5 1.2-1.2 1.3-.5 1.2 0 1.3-3.1 1.2-2.4 1.3-.1 1.2-3.2 1.3-3.9 1.2-.7 1.3-.9 1.2-2 1.3-1.4 1.2-1.6 1.3 0 1.2 .5 1.3-1.1 1.2-.1 1.3 1.3 1.2-.4 1.3-.6 1.2 .9 1.3 .9 1.2 1.4 1.3 1.2 1.2 .5 1.3 1.6 1.2 2 1.3 .3 1.2 1.4 1.3 2.4 1.2 1.2 1.3 1 1.2 1.3 1.3 1.3 1.2 2 1.3 1.5 1.2 .2 1.3 1.6 1.2 1.6 1.3-.7 1.2 .5 1.3 2.2 1.2 .8 1.3 .7 1.2-.1 1.3-.6 1.2 1.9 1.3 .7 1.2-1.4 1.3 1.9 1.2 1.8 1.3-1.8 1.2-.5 1.3 1 1.2 .6 1.3 1.5 1.2-.5 1.3-1 1.2 1.9 1.3-.2 1.2-2.2 1.3 1.5 1.2 1.4 1.3-1.3 1.2-.9 1.3-1.1 1.2-.4 1.3 1.1 1.2-1.5 1.3-1.6 1.2 1.2 1.3-1.4 1.2-2.8 1.3-.5 1.2-.7 1.3-1.5 1.2-1.7 1.3-2.7 1.2-2.6 1.3-2.4 1.2-4 1.3-5 1.2-4.8 1.3-5.3 1.2-5.4 1.3-5.1 1.2-4.2 1.3-3 1.2-2.3 1.3-1.3 1.2-.8 1.3 .6 1.2 1.1 1.3 .2 1.2 .1 1.3-.6 1.2-1.2 1.3-.7 1.2-.5 1.3-.4 1.2 .3 1.3 1.2 1.2 1.5 1.3 1.8 1.2 1.8 1.3 1.9 1.2 1.7 1.3 1.4 1.2 1.3 1.3 1.1 1.2 .5 1.3-.2 1.2-.7 1.3-.7 1.2-1.2 1.3-1.7 1.2-2.5 1.3-3.9 1.2-4.1 1.3-4.6 1.2-4.6 1.3-3.6 1.2-3 1.3-1.7 1.2-1.1 1.3 0 1.2 1.6 1.3 2.2 1.2 3.3 1.3 3 1.2 2.7 1.3 1.9 1.2 1.3 1.3 .3 1.2-.1 1.3-.1 1.2-.2 1.3-.3 1.2-.4 1.3-.5 1.2-.7 1.3-.9 1.2-1.1 1.3-.9 1.2-1 1.3-.9 1.2-.2 1.3 1.7 1.2 2.7 1.3 4.6 1.2 4.4 1.3 3.6 1.2 2.8 1.3 2.2 1.2 1.8 1.3 .8 1.2-.2 1.3-.6 1.2-.9 1.3-1 1.2-.9 1.3-.8 1.2-.7 1.3-.8 1.2-.8 1.3-.8 1.2-.9 1.3-.8 1.2-.9 1.3-1 1.2-1 1.3-.9 1.2-.8 1.3-.6 1.2-.7 1.3-.5 1.2-.3 1.3 .1 1.2 .7 1.3 1 1.2 1.2 1.3 1.7 1.2 1.7 1.3 1.3 1.2 1.2 1.3 .9 1.2 0 1.3-1.7 1.2-2.6 1.3-2.9 1.2-3.7 1.3-3.5 1.2-2.5 1.3-2 1.2-1.9 1.3-1.6 1.2-1.5 1.3-2.3 1.2-4.3 1.3-5.7 1.2-7.4 1.3-9.3 1.2-11.9 1.3-11.1 1.2-8.8 1.3-5.1 1.2-2.5 1.3-.9 1.2 .4 1.3 2.1 1.2 3 1.3 4.4 1.2 4.7 1.3 5.3 1.2 4.6 1.3 4.4 1.2 2.7 1.3-.9 1.2-3 1.3-4.3 1.2-5.8 1.3-5.6 1.2-4.7 1.3-3.2 1.2-2.6 1.3-1.8 1.2-1.5 1.3-1.3 1.2-.8 1.3-.2 1.2 .4 1.3 .7 1.2 1.1 1.3 2.1 1.2 1.6 1.3 1.1 1.2 .8 1.3-.1 1.2-1 1.3-1.5 1.2-1.8 1.3-2.2 1.2-1.9 1.3-1.2 1.2-1.2 1.3-1.6 1.2-2.2 1.3-2 1.2-1.3 1.3-1 1.2-.7 1.3 0 1.2 .7 1.3 1.1 1.2 1.1 1.3 1.5 1.2 1.2 1.3 .6 1.2 .2 1.3 .3 1.2 .5 1.3 .6 1.2 .9 1.3 1.9 1.2 2.4 1.3 2.7 1.2 3.1 1.3 3 1.2 2.8 1.3 2.7 1.2 2.5 1.3 2.2 1.2 2 1.3 1.6 1.2 1.3 1.3 1.2 1.2 1.1 1.3 .9 1.2 1.3 1.3 2.7 1.2 4.8 1.3 5.4 1.2 6.9 1.3 6.6 1.2 5.4 1.3 4.9 1.2 4.6 1.3 4.6 1.2 4.8 1.3 5.1 1.2 5.4 1.3 5.4 1.2 5.3 1.3 4.8 1.2 4.1 1.3 3.6 1.2 3.3 1.3 3.1 1.2 3.1 1.3 2.9 1.2 2.6 1.3 2.3 1.2 2.2 1.3 1.9 1.2 1.7 1.3 1.6 1.2 1.5 1.3 1.3 1.2 .6 1.3-.2 1.2-.7 1.3-1.2 1.2-3 1.3-2.9 1.2-2 1.3-1.3 1.2 .5 1.3 3 1.2 3.5 1.3 4.4 1.2 4.1 1.3 2.7 1.2 2.2 1.3 1.9 1.2 1.6 1.3 1.4 1.2 1.2 1.3 1.1 1.2 1 1.3 .8 1.2 .9 1.3 .7 1.2 .6 1.3 .5 1.2 .4 1.3 .4 1.2 .3 1.3 .2 1.2 .2 1.3 0 1.2-.1 1.3-.2 1.2-.2 1.3-.2 1.2-.3 1.3-.4 1.2-.3 1.3-.3 1.2-.3 1.3-.4 1.2-.4 1.3-.4 1.2-.4 1.3-.4 1.2-.4 1.3-.3 1.2-.4 1.3-.3 1.2-.3 1.3-.4 1.2-.3 1.3-.4 1.2-.3 1.3-.4 1.2-.4 1.3-.4 1.2-.4 1.3-.5 1.2-.6 1.3-.8 1.2-1 1.3-1.2 1.2-1.3 1.3-1.5 1.2-1.7 1.3-1.9 1.2-2 1.3-2.3 1.2-2.4 1.3-2.5 1.2-2.2 1.3-1.9 1.2-1.8 1.3-1.8 1.2-1.3 1.3-.9 1.2-.5 1.3-.5 1.2-.4 1.3-.3 1.2-.2 1.3-.2 1.2-.2 1.3-.1 1.2 0 1.3-.1 1.2-.1 1.3-.1 1.2-.2 1.3-.5 1.2-1.1 1.3-1.7 1.2-1.9 1.3-3.1 1.2-3.4 1.3-2.3 1.2-1.8 1.3-1.3 1.2-.3 1.3 .6 1.2 .9 1.3 1.2 1.2 1.8 1.3 1.5 1.2 1.1 1.3 .8 1.2 0 1.3-.7 1.2-1.2 1.3-1.3 1.2-1.8 1.3-2.2 1.2-2.1 1.3-1.8 1.2-1.7 1.3-1.5 1.2-1.1 1.3-.8 1.2-.6 1.3-.2 1.2 .2 1.3 .3 1.2 .4 1.3 .3 1.2 .4 1.3 .5 1.2 .5 1.3 .4 1.2 .4 1.3 .3 1.2 .2 1.3 .1 1.2 .1 1.3 .1 1.2 .1 1.3 0 1.2 .1 1.3-.1 1.2-.1 1.3-.1 1.2-.1 1.3-.1 1.2 .3 1.3 1.6 1.2 2.3 1.3 2.3 1.2 3.1 1.3 3.1 1.2 1.6 1.3 .3 1.2 .2 1.3 .1 1.2 0 1.3-.1 1.2-.2 1.3-.2 1.2 0 1.3 .3 1.2 .8 1.3 .9 1.2 .9 1.3 .7 1.2 .8 1.3 .8 1.2 .8 1.3 .8 .1 0"/>
<path id="b1" class="c" d="M137.7 1475.1l.8 0 .7 0 .8 0 .7 0 .8 0 .7 0 .8 0 .7 0 .8 0 .7 0 .8 0 .7 0 .8 0 .7 0 .8 0 .7 0 .8 0 .7 0 .8 0 .7 0 .8 0 .7 0 .8 0 .7 0 .8 0 .7 0 .8 0 .7 0 .8 0 .7 0 .8 0 .7 .2 .8 .1 .7 .1 .8 .1 .7 .2 .8 .1 .7 .1 .8 .2 .7 .1 .8 .1 .7 0 .8-.4 .7-.4 .8-.3 .7-.4 .8-.4 .7-.4 .8-.3 .7-.1 .8 .5 .7 .6 .8 .6 .7 .6 .8 .5 .7-.9 .8-.8 .7-.8 .8-.8 .7-.8 .8-.1 .7 .1 .8 .2 .7 .1 .8 .2 .7 .1 .8 .2 .7 .8 .8 .8 .7 .7 .8 .8 .7 .7 .8 .1 .7-.3 .8-.2 .7-.3 .8-.2 .7-.3 .8-.2 .7-.3 .8-.2 .7-.3 .8-.3 .7-.3 .8-.3 .7 .2 .8 .6 .7 .6 .8 .6 .7-.1 .8-.9 .7-.8 .8-.8 .7-.3 .8 .4 .7 .3 .8 .3 .7 .3 .8 .3 .7 .4 .8 .3 .7 .3 .8 .3 .7 .3 .8 .3 .7 .3 .8 0 .7-.8 .8-.7 .7-.7 .8-.3 .7 .5 .8 .6 .7 .6 .8 .6 .7 .5 .8-.8 .7-.9 .8-.8 .7-.8 .8 .4 .7 .4 .8 .5 .7 .4 .8 .4 .7 .5 .8 0 .7-.4 .8-.4 .7-.4 .8-.5 .7-.4 .8-.4 .7 .7 .8 1 .7 1.1 .8 1 .7 1 .8 .1 .7-.9 .8-.9 .7-.9 .8-.9 .7-.9 .8-.9 .7-.4 .8-.2 .7-.2 .8-.2 .7-.2 .8 .2 .7 .4 .8 .4 .7 .5 .8 .4 .7 .2 .8-.2 .7-.3 .8-.2 .7-.3 .8-.2 .7-.8 .8-1 .7-1 .8-1.1 .7-.8 .8 .7 .7 .6 .8 .6 .7 .6 .8 .6 .7 .6 .8 .4 .7 .4 .8 .4 .7 .3 .8 .4 .7 .4 .8 .3 .7 .1 .8 .2 .7 .2 .8 .1 .7 .2 .8 .1 .7-1.1 .8-1 .7-1.1 .8-1 .7-1.1 .8 0 .7 .3 .8 .3 .7 .4 .8 .3 .7 .3 .8 .3 .7 .3 .8-.5 .7-.7 .8-.7 .7-.8 .8-.7 .7-.7 .8-.8 .7-.7 .8 .2 .7 .4 .8 .5 .7 .4 .8-.9 .7-1 .8-1.1 .7-1 .8-.3 .7-.1 .8-.1 .7-.2 .8-.2 .7-.3 .8 0 .7 1.1 .8 1.1 .7 1.1 .8 1.1 .7 1 .8-3 .7-3 .8-3 .7-3.1 .8-3 .7-1.2 .8-.1 .7-.2 .8-.2 .7 .6 .8 1.1 .7 .9 .8 .9 .7-.2 .8-.9 .7-.9 .8-.9 .7-1.5 .8-1.9 .7-1.8 .8-1.7 .7-1.7 .8-1.5 .7-1.4 .8-.1 .7 0 .8-.1 .7 0 .8 0 .7 0 .8-.9 .7-1.8 .8-1.9 .7-.6 .8-.3 .7-.3 .8-.4 .7-.4 .8-.9 .7-1.4 .8-1.4 .7-1.5 .8-1.5 .7-1.6 .8-1.6 .7-.7 .8-.6 .7-.6 .8-.6 .7-.6 .8-.6 .7-.6 .8-.6 .7-.6 .8-1.1 .7-1.5 .8-1.4 .7-1.5 .8-1.4 .7-1.3 .8-1.3 .7-1.2 .8-.8 .7-.5 .8-.5 .7-.5 .8-.4 .7-.5 .8-.5 .7-.4 .8-1 .7-1 .8-.9 .7-1 .8-.9 .7-1 .8-.9 .7-.9 .8-.4 .7-.4 .8-.4 .7-.4 .8-.4 .7-.3 .8-.4 .7-.4 .8-.3 .7-.7 .5-.5 1.2-1.4 1.3-1.3 1.2-1.4 1.3-1.3 1.2-1.2 1.3-.7 1.2-.6 1.3-.7 1.2-.6 1.3-.6 1.2-1 1.3-1.1 1.2-1.1 1.3-1.1 1.2-1.1 1.3-1 1.2-1 1.3-.6 1.2-.5 1.3-.5 1.2-.5 1.3-.5 1.2-.5 1.3-.8 1.2-.9 1.3-.8 1.2-.8 1.3-.8 1.2-.7 1.3-.7 1.2-.4 1.3-.3 1.2-.2 1.3-.2 1.2-.1 1.3-.1 1.2-.2 1.3-.2 1.2-.3 1.3-.4 1.2-.3 1.3-.3 1.2-.2 1.3-.3 1.2-.2 1.3-.1 1.2 .1 1.3 0 1.2 0 1.3 .1 1.2 .1 1.3 .1 1.2 .1 1.3 0 1.2 0 1.3 0 1.2 0 1.3 0 1.2 0 1.3 0 1.2-.1 1.3 0 1.2 .1 1.3 .1 1.2 .1 1.3 .1 1.2 .2 1.3 .2 1.2 .1 1.3 .2 1.2 .2 1.3 .2 1.2 .3 1.3 .2 1.2 .4 1.3 .3 1.2 .3 1.3 .3 1.2 .4 1.3 .3 1.2 .4 1.3 .4 1.2 .4 1.3 .4 1.2 .4 1.3 .4 1.2 .5 1.3 .6 1.2 .6 1.3 .5 1.2 .6 1.3 .5 1.2 .4 1.3 .4 1.2 .3 1.3 .3 1.2 .3 1.3 .3 1.2 .4 1.3 .4 1.2 .5 1.3 .5 1.2 .6 1.3 .6 1.2 .7 1.3 .7 1.2 .7 1.3 .8 1.2 .9 1.3 .8 1.3 .9 1.2 .9 1.2 .8 1.3 .9 1.2 .9 1.3 .8 1.2 .9 1.3 .9 1.2 .9 1.3 .9 1.2 .9 1.3 .9 1.2 .9 1.3 .9 1.2 .9 1.3 .9 1.2 .9 1.3 .9 1.2 .9 1.3 .9 1.2 .9 1.3 .9 1.2 .9 1.3 .9 1.2 .9 1.3 .9 1.2 .9 1.3 .9 1.2 .9 1.3 .9 1.2 .8 1.3 .9 1.2 .9 1.3 .9 1.2 .9 1.3 .9 1.2 .9 1.3 .9 1.2 .9 1.3 .9 1.2 .9 1.3 .8 1.2 .9 1.3 .9 1.2 .9 1.3 .8 1.2 .9 1.3 .8 1.2 .9 1.3 .8 1.2 .8 1.3 .9 1.2 .8 1.3 .7 1.2 .8 1.3 .8 1.2 .7 1.3 .8 1.2 .7 1.3 .8 1.2 .7 1.3 .7 1.2 .7 1.3 .7 1.2 .7 1.3 .7 1.2 .7 1.3 .6 1.2 .7 1.3 .6 1.2 .6 1.3 .7 1.2 .6 1.3 .5 1.2 .6 1.3 .6 1.2 .6 1.3 .6 1.2 .5 1.3 .5 1.2 .4 1.3 .4 1.2 .4 1.3 .3 1.2 .4 1.3 .3 1.2 .2 1.3 .2 1.2 .1 1.3-.1 1.2-.4 1.3-.5 1.2-.7 1.3-.7 1.2-1 1.3-1.4 1.2-1.4 1.3-1.2 1.2-.5 1.3 .3 1.2 1 1.3 1.2 1.2 1.1 1.3 1.6 1.2 1.3 1.3 .3 1.2-.3 1.3-.7 1.2-1 1.3-2 1.2-2.5 1.3-2.9 1.2-3.7 1.3-3.9 1.2-3.8 1.3-3.9 1.2-3.9 1.3-3.9 1.2-3.6 1.3-3.3 1.2-3.1 1.3-2.7 1.2-2 1.3-1.4 1.2-1.6 1.3-2.6 1.2-5.8 1.3-7.3 1.2-9.5 1.3-8.7 1.2-7.6 1.3-4.7 1.2-2 1.3 1.9 1.2 3.3 1.3 5 1.2 5.4 1.3 5.9 1.2 5.4 1.3 5.1 1.2 4.8 1.3 4 1.2 3.5 1.3 3.1 1.2 2.6 1.3 2.3 1.2 2 1.3 1.6 1.2 1.2 1.3 1.2 1.2 .9 1.3 .5 1.2-.2 1.3-.5 1.2-.9 1.3-1.2 1.2-2 1.3-3.5 1.2-6 1.3-4.1 1.2-1.3 1.3 2.6 1.2 4 1.3 6 1.2 7.2 1.3 7.8 1.2 6.8 1.3 5.9 1.2 4.5 1.3 3.6 1.2 2.6 1.3 2.1 1.2 2 1.3 1.8 1.2 1.6 1.3 1.3 1.2 1.1 1.3 1 1.2 .9 1.3 .8 1.2 .8 1.3 .7 1.2 .7 1.3 .6 1.2 .6 1.3 .5 1.2 .5 1.3 .5 1.2 .4 1.3 .4 1.2 .3 1.3 .2 1.2 .2 1.3 .2 1.2 .2 1.3 .2 1.2 .1 1.3 .2 1.2 .1 1.3 .1 1.2 .2 1.3 .1 1.2 .1 1.3 .1 1.2 .1 1.3 .1 1.2 .1 1.3 .1 1.2 .1 1.3 .1 1.2 .1 1.3 .1 1.2 .2 1.3 .1 1.2 .2 1.3 .1 1.2 .2 1.3 .2 1.2 .1 1.3 .2 1.2 .2 1.3 .2 1.2 .2 1.3 .2 1.2 .2 1.3 .2 1.2 .2 1.3 .2 1.2 .2 1.3 .2 1.2 .1 1.3 .2 1.2 .2 1.3 .2 1.2 .2 1.3 .2 1.2 .1 1.3 .2 1.2 .1 1.3 .2 1.2 .1 1.3 .2 1.2 .2 1.3 .1 1.2 .2 1.3 .2 1.2 .1 1.3 .2 1.2 .1 1.3 .2 1.2 .2 1.3 .1 1.2 .2 1.3 .1 1.2 .1 1.3 .2 1.2 .1 1.3 .1 1.2 .1 1.3 .1 1.2 .1 1.3 .1 1.2 .1 1.3 0 1.2 .1 1.3 0 1.2 .1 1.3 0 1.2 .1 1.3 0 1.2 0 1.3 .1 1.2 0 1.3 0 1.2 .1 1.3 0 1.2 0 1.3 0 1.2 .1 1.3 0 1.2 0 1.3 0 1.2 .1 1.3 0 1.2 0 1.3 0 1.2 0 1.3 0 1.2 .1 1.3 0 1.2 0 1.3 0 1.2 0 1.3 0 1.2 0 1.3 0 1.2 .1 1.3 0 1.2 0 1.3 0 1.2 0 1.3 0 1.2 0 1.3 .1 1.2 0 1.3 0 1.2 .1 1.3 0 1.2 .1 1.3 .1 1.2 .1 1.3 .1 1.2 .1 1.3 .1 1.2 .2 1.3 .1 1.2 .1 1.3 .2 1.2 .1 1.3 .2 1.2 .1 1.3 .1 1.2 .2 1.3 .1 1.2 .1 1.3 .2 1.2 .1 1.3 .1 1.2 .1 1.3 .1 1.2 .1 1.3 .1 1.2 0 1.3 .1 1.2 .1 1.3 .1 1.2 .1 1.3 0 1.2 .1 1.3 .1 1.2 0 1.3 .1 1.2 0 1.3 .1 1.2 0 1.3 0 1.2 0 1.3-.1 1.2-.2 1.3-.4 1.2-1.4 1.3-1.9 1.2-1.5 1.3-1.2 1.2-1 1.3-.4 1.2 .9 1.3 1.7 1.2 2.2 1.3 3 1.2 1.9 1.3 .6 1.2-.2 1.3-.6 1.2-1 1.3-1.6 1.2-.7 1.3-.3 1.2 .2 1.3 .9 1.2 1 1.3 .7 1.2 .7 1.3 .6 1.2 .5 1.3 .3 1.2 0 1.3 0 1.2 0 1.3-.1 1.2 0 1.3-.1 1.2-.1 1.3 0 1.2-.1 1.3-.1 1.2-.1 1.3 0 1.2-.1 1.3-.1 1.2-.1 1.3 0 1.2-.1 1.3-.1 1.2 0 1.3-.1 1.2-.1 1.3-.1 1.2 0 1.3-.1 1.2-.1 1.3-.1 1.2-.1 1.3 0 1.2-.1 1.3-.1 1.2 0 1.3-.1 1.2-.1 1.3 0 1.2-.1 1.3 0 1.2-.1 1.3 0 1.2-.1 1.3-.1 1.2 0 1.3-.1 1.2 0 1.3-.1 1.2 0 1.3-.1 1.2-.1 1.3 0 1.2-.1 1.3 0 1.2-.1 1.3 0 1.2-.1 1.3 0 1.2-.1 1.3 0 1.2-.1 1.3 0 1.2 0 1.3-.1 1.2 0 1.3-.1 1.2 0 1.3 0 1.2-.1 1.3 0 1.2 0 1.3 0 1.2-.1 1.3 0 1.2 0 1.3 0 1.2 0 1.3 0 1.2 0 1.3 0 1.2 0 1.3 0 1.2 0 1.3 0 1.2 0 1.3 0 1.2 0 1.3 0 1.2 .1 1.3 0 1.2 0 1.3 0 1.2 0 1.3 0 1.2 0 1.3 0 1.2 0 1.3 0 1.2 .1 1.3 0 1.2 0 1.3 0 1.2 0 1.3 0 1.2 0 1.3 .1 1.2 0 1.3 0 1.2 0 1.3 0 1.2 .1 1.3 0 1.2 0 1.3 0 1.2 0 1.3 .1 1.2 0 1.3 0 1.2 .1 1.3 .1 1.2 0 1.3 .1 1.2 .1 1.3 .1 1.2 .1 1.3 .1 1.2 .1 1.3 .1 1.2 .1 1.3 .1 1.2 .1 1.3 .1 1.2 .1 1.3 .1 1.2 .1 1.3 .1 1.2 .2 1.3 .1 1.2 .1 1.3 .1 1.2 .1 1.3 .1 1.2 .1 1.3 .1 1.2 .1 1.3 .1 1.2 .1 1.3 .1 1.2 .1 1.3 .1 1.2 .1 1.3 .1 1.2 .1 1.3 .1 1.2 .1 1.3 .1 1.2 .1 1.3 .1 1.2 .1 1.3 .2 1.2 .1 1.3 .1 1.2 .1 1.3 .1 1.2 0 1.3 .1 1.2 .1 1.3 .1 1.2 .1 1.3 .1 1.2 .1 1.3 .1 1.2 .1 1.3 .1 1.2 .1 1.3 .1 1.2 .1 1.3 .1 1.2 .1 1.3 .2 1.2 .1 1.3-.2 1.2 .3 1.3 .2 1.2 0 1.3 0 1.2-.3 1.3 .1 1.2 .5 1.3-.2 1.2-.3 1.3 .4 1.2-.1 1.3-.4 1.2 .1 1.3 0 1.2 .1 1.3 .1 1.2-.6 1.3-.1 1.2 .4 1.3-.4 1.2-.2 1.3 .3 1.2-.1 1.3-.4 1.2-.2 1.3-.2 1.2 .2 1.3 .1 1.2-.5 1.3-.2 1.2 .1 1.3-.5 1.2-.4 1.3 0 1.2-.3 1.3-.4 1.2-.5 1.3-.6 1.2-.3 1.3-.6 1.2-1.1 1.3-1.1 1.2-1.5 1.3-2.1 1.2-3.7 1.3-6.6 1.2-8.3 1.3-10.5 1.2-9.4 1.3-9 1.2-7.6 1.3-6.3 1.2-3.8 1.3-1 1.2 3.3 1.3 6.8 1.2 9 1.3 9.8 1.2 8.3 1.3 6.2 1.2 4.1 1.3 2.8 1.2 2.6 1.3 2 1.2 1.1 1.3 1.5 1.2 1.8 1.3 1.3 1.2 1.3 1.3 .2 1.2 .4 1.3 1.4 1.2 .3 1.3-.2 1.2 .9 1.3 0 1.2-1.4 1.3-1 1.2-.9 1.3-.6 1.2-.5 1.3-1.7 1.2-1.5 1.3-.7 1.2-1.9 1.3-2.4 1.2-1.1 1.3-.9 1.2-1.2 1.3-1 1.2-.8 1.3-.2 1.2 0 1.3-.5 1.2 0 1.3 .5 1.2 0 1.3-.1 1.2 .4 1.3 .6 1.2 .8 1.3 .9 1.2 .7 1.3 1.1 1.2 1.1 1.3 .6 1.2 1 1.3 1.4 1.2 .9 1.3 .9 1.2 1 1.3 1 1.2 1.2 1.3 1 1.2 .5 1.3 .9 1.2 .9 1.3 0 1.2 .5 1.3 1.1 1.2 .5 1.3 .5 1.2 .2 1.3-.1 1.2 .9 1.3 .4 1.2-.4 1.3 .9 1.2 .7 1.3-.5 1.2-.1 1.3 .5 1.2 .3 1.3 .7 1.2-.1 1.3-.3 1.2 .8 1.3-.1 1.2-.8 1.3 .5 1.2 .5 1.3-.7 1.2-.5 1.3-.6 1.2-.4 1.3 .2 1.2-.8 1.3-1 1.2 .1 1.3-.9 1.2-1.6 1.3-.7 1.2-.9 1.3-1.3 1.2-1.5 1.3-2 1.2-2.1 1.3-2.4 1.2-3.1 1.3-4.1 1.2-4.4 1.3-4.4 1.2-4.4 1.3-4.3 1.2-3.5 1.3-2.6 1.2-1.9 1.3-1.2 1.2-.6 1.3 .7 1.2 1.1 1.3 .2 1.2 0 1.3-.5 1.2-1.3 1.3-.7 1.2-.6 1.3-.3 1.2 .3 1.3 1.2 1.2 1.6 1.3 1.9 1.2 1.8 1.3 1.9 1.2 1.7 1.3 1.5 1.2 1.4 1.3 1.1 1.2 .5 1.3-.2 1.2-.5 1.3-.6 1.2-.9 1.3-1.4 1.2-1.9 1.3-3.1 1.2-3.3 1.3-3.6 1.2-3.6 1.3-2.9 1.2-2.3 1.3-1.4 1.2-.8 1.3-.1 1.2 1.3 1.3 1.7 1.2 2.5 1.3 2.3 1.2 2.1 1.3 1.4 1.2 1 1.3 .3 1.2-.1 1.3-.1 1.2-.2 1.3-.2 1.2-.3 1.3-.4 1.2-.5 1.3-.7 1.2-.8 1.3-.7 1.2-.8 1.3-.7 1.2-.1 1.3 1.2 1.2 2.1 1.3 3.5 1.2 3.4 1.3 2.8 1.2 2.2 1.3 1.6 1.2 1.4 1.3 .6 1.2-.2 1.3-.6 1.2-.8 1.3-.9 1.2-.8 1.3-.7 1.2-.8 1.3-.7 1.2-.7 1.3-.8 1.2-.7 1.3-.8 1.2-.9 1.3-.9 1.2-.9 1.3-.8 1.2-.7 1.3-.6 1.2-.6 1.3-.5 1.2-.3 1.3 .1 1.2 .6 1.3 .9 1.2 1 1.3 1.5 1.2 1.5 1.3 1.1 1.2 1.1 1.3 .7 1.2 .1 1.3-1.5 1.2-2.1 1.3-2.4 1.2-3 1.3-2.8 1.2-2.1 1.3-1.6 1.2-1.5 1.3-1.4 1.2-1.2 1.3-1.9 1.2-3.5 1.3-4.6 1.2-6.1 1.3-7.6 1.2-9.7 1.3-9.1 1.2-7.2 1.3-4.2 1.2-2 1.3-.7 1.2 .3 1.3 1.7 1.2 2.4 1.3 3.5 1.2 3.8 1.3 4.2 1.2 3.7 1.3 3.5 1.2 2.2 1.3-.7 1.2-2.3 1.3-3.2 1.2-4.5 1.3-4.3 1.2-3.7 1.3-2.4 1.2-2 1.3-1.4 1.2-1.1 1.3-1 1.2-.7 1.3-.1 1.2 .5 1.3 .7 1.2 1.3 1.3 2.3 1.2 1.7 1.3 1.3 1.2 .9 1.3 0 1.2-.9 1.3-1.3 1.2-1.6 1.3-1.9 1.2-1.6 1.3-1.1 1.2-1 1.3-1.4 1.2-1.8 1.3-1.8 1.2-1 1.3-.9 1.2-.6 1.3 0 1.2 .6 1.3 .9 1.2 .9 1.3 1.3 1.2 1 1.3 .5 1.2 .2 1.3 .2 1.2 .4 1.3 .5 1.2 .8 1.3 1.5 1.2 2.1 1.3 2.2 1.2 2.6 1.3 2.5 1.2 2.4 1.3 2.3 1.2 2 1.3 1.9 1.2 1.7 1.3 1.3 1.2 1.1 1.3 1 1.2 .9 1.3 .8 1.2 1 1.3 2.2 1.2 3.8 1.3 4.3 1.2 5.4 1.3 5.3 1.2 4.2 1.3 3.9 1.2 3.6 1.3 3.7 1.2 3.7 1.3 4.1 1.2 4.2 1.3 4.3 1.2 4.2 1.3 3.8 1.2 3.2 1.3 2.9 1.2 2.6 1.3 2.4 1.2 2.5 1.3 2.3 1.2 2 1.3 1.9 1.2 1.7 1.3 1.5 1.2 1.4 1.3 1.2 1.2 1.2 1.3 1 1.2 .5 1.3-.1 1.2-.5 1.3-.9 1.2-2.2 1.3-2.1 1.2-1.4 1.3-1 1.2 .4 1.3 2.2 1.2 2.6 1.3 3.3 1.2 3 1.3 2 1.2 1.6 1.3 1.4 1.2 1.2 1.3 1 1.2 1 1.3 .8 1.2 .7 1.3 .6 1.2 .6 1.3 .6 1.2 .4 1.3 .4 1.2 .3 1.3 .3 1.2 .2 1.3 .2 1.2 .1 1.3 0 1.2-.1 1.3-.1 1.2-.2 1.3-.2 1.2-.2 1.3-.3 1.2-.3 1.3-.2 1.2-.3 1.3-.3 1.2-.3 1.3-.3 1.2-.4 1.3-.3 1.2-.3 1.3-.3 1.2-.3 1.3-.3 1.2-.2 1.3-.3 1.2-.3 1.3-.2 1.2-.4 1.3-.3 1.2-.3 1.3-.3 1.2-.3 1.3-.5 1.2-.5 1.3-.6 1.2-.8 1.3-1 1.2-1.1 1.3-1.2 1.2-1.3 1.3-1.6 1.2-1.6 1.3-1.9 1.2-2 1.3-2 1.2-1.8 1.3-1.5 1.2-1.5 1.3-1.4 1.2-1.2 1.3-.7 1.2-.4 1.3-.3 1.2-.3 1.3-.2 1.2-.2 1.3-.1 1.2-.1 1.3-.1 1.2 0 1.3-.1 1.2 0 1.3-.1 1.2-.2 1.3-.3 1.2-.8 1.3-1.1 1.2-1.4 1.3-2.1 1.2-2.4 1.3-1.6 1.2-1.3 1.3-.9 1.2-.2 1.3 .5 1.2 .7 1.3 1.1 1.2 1.5 1.3 1.2 1.2 .9 1.3 .7 1.2 0 1.3-.6 1.2-.9 1.3-1.1 1.2-1.5 1.3-1.7 1.2-1.8 1.3-1.4 1.2-1.4 1.3-1.2 1.2-.9 1.3-.6 1.2-.5 1.3-.2 1.2 .2 1.3 .3 1.2 .4 1.3 .3 1.2 .4 1.3 .5 1.2 .5 1.3 .4 1.2 .4 1.3 .3 1.2 .2 1.3 .1 1.2 .1 1.3 .1 1.2 .1 1.3 0 1.2 .1 1.3-.1 1.2-.1 1.3-.1 1.2-.1 1.3-.1 1.2 .2 1.3 1.4 1.2 1.8 1.3 1.8 1.2 2.6 1.3 2.5 1.2 1.3 1.3 .3 1.2 .1 1.3 .1 1.2 0 1.3-.1 1.2-.1 1.3-.2 1.2 0 1.3 .2 1.2 .7 1.3 .7 1.2 .7 1.3 .6 1.2 .7 1.3 .6 1.2 .6 1.3 .7 .1 0"/>
<path id="b2" class="c" d="M137.7 1656.1l.8 0 .7 0 .8 0 .7 0 .8 0 .7 0 .8 0 .7 0 .8 0 .7 0 .8 0 .7 0 .8 0 .7 0 .8 0 .7 0 .8 0 .7 0 .8 0 .7 0 .8 0 .7 0 .8 0 .7 0 .8 0 .7 0 .8 0 .7 0 .8 0 .7 0 .8 0 .7 .2 .8 .1 .7 .1 .8 .1 .7 .2 .8 .1 .7 .1 .8 .2 .7 .1 .8 .1 .7 0 .8-.4 .7-.4 .8-.3 .7-.4 .8-.4 .7-.4 .8-.3 .7-.1 .8 .5 .7 .6 .8 .6 .7 .6 .8 .5 .7-.9 .8-.8 .7-.8 .8-.8 .7-.8 .8-.1 .7 .1 .8 .2 .7 .1 .8 .2 .7 .2 .8 .2 .7 .7 .8 .8 .7 .7 .8 .8 .7 .8 .8 0 .7-.3 .8-.2 .7-.2 .8-.3 .7-.2 .8-.3 .7-.2 .8-.3 .7-.3 .8-.3 .7-.2 .8-.3 .7 .2 .8 .6 .7 .6 .8 .6 .7-.1 .8-.9 .7-.8 .8-.8 .7-.3 .8 .4 .7 .3 .8 .3 .7 .3 .8 .3 .7 .4 .8 .3 .7 .3 .8 .3 .7 .3 .8 .3 .7 .3 .8 0 .7-.7 .8-.8 .7-.7 .8-.3 .7 .6 .8 .5 .7 .6 .8 .6 .7 .6 .8-.9 .7-.8 .8-.9 .7-.8 .8 .4 .7 .5 .8 .4 .7 .5 .8 .4 .7 .4 .8 .1 .7-.5 .8-.4 .7-.4 .8-.4 .7-.4 .8-.4 .7 .7 .8 1 .7 1 .8 1 .7 1 .8 .2 .7-.9 .8-1 .7-.9 .8-.9 .7-.9 .8-.9 .7-.3 .8-.2 .7-.2 .8-.3 .7-.2 .8 .2 .7 .4 .8 .5 .7 .4 .8 .4 .7 .3 .8-.3 .7-.3 .8-.2 .7-.3 .8-.2 .7-.8 .8-1 .7-1.1 .8-1 .7-.8 .8 .6 .7 .6 .8 .6 .7 .6 .8 .6 .7 .6 .8 .4 .7 .4 .8 .3 .7 .4 .8 .4 .7 .4 .8 .2 .7 .2 .8 .1 .7 .2 .8 .1 .7 .2 .8 .1 .7-1.1 .8-1 .7-1.1 .8-1.1 .7-1.1 .8-.1 .7 .3 .8 .3 .7 .3 .8 .3 .7 .3 .8 .2 .7 .3 .8-.5 .7-.8 .8-.7 .7-.8 .8-.8 .7-.8 .8-.8 .7-.8 .8 .2 .7 .4 .8 .3 .7 .4 .8-.9 .7-1.2 .8-1.1 .7-1.1 .8-.3 .7-.2 .8-.2 .7-.3 .8-.3 .7-.4 .8-.2 .7 1.1 .8 .9 .7 1 .8 .9 .7 .9 .8-3.2 .7-3.2 .8-3.2 .7-3.2 .8-3.2 .7-1.3 .8-.4 .7-.4 .8-.3 .7 .4 .8 .8 .7 .8 .8 .6 .7-.5 .8-1.2 .7-1.1 .8-1.2 .7-1.8 .8-2.1 .7-2 .8-1.9 .7-1.8 .8-1.8 .7-1.5 .8-.2 .7-.2 .8-.2 .7-.1 .8-.2 .7-.1 .8-1 .7-2 .8-2 .7-.8 .8-.4 .7-.5 .8-.6 .7-.5 .8-1.1 .7-1.6 .8-1.6 .7-1.8 .8-1.7 .7-1.8 .8-1.8 .7-1.1 .8-.8 .7-.9 .8-.8 .7-.9 .8-.9 .7-.8 .8-.9 .7-.8 .8-1.4 .7-1.7 .8-1.7 .7-1.7 .8-1.6 .7-1.6 .8-1.5 .7-1.5 .8-1 .7-.8 .8-.8 .7-.8 .8-.7 .7-.7 .8-.7 .7-.7 .8-1.3 .7-1.2 .8-1.2 .7-1.2 .8-1.2 .7-1.2 .8-1.2 .7-1.1 .8-.6 .7-.7 .8-.6 .7-.6 .8-.6 .7-.6 .8-.6 .7-.6 .8-.6 .7-.8 .5-.7 1.2-1.7 1.3-1.7 1.2-1.8 1.3-1.7 1.2-1.5 1.3-1 1.2-1.1 1.3-1 1.2-1 1.3-.9 1.2-1.3 1.3-1.5 1.2-1.4 1.3-1.4 1.2-1.4 1.3-1.4 1.2-1.2 1.3-.9 1.2-.8 1.3-.8 1.2-.7 1.3-.8 1.2-.8 1.3-1 1.2-1.1 1.3-1.1 1.2-1 1.3-1 1.2-1 1.3-.8 1.2-.7 1.3-.4 1.2-.3 1.3-.3 1.2-.3 1.3-.2 1.2-.2 1.3-.3 1.2-.5 1.3-.4 1.2-.4 1.3-.3 1.2-.3 1.3-.3 1.2-.3 1.3-.1 1.2 .1 1.3 0 1.2 0 1.3 .1 1.2 .1 1.3 .1 1.2 .1 1.3 0 1.2 0 1.3 0 1.2 0 1.3 0 1.2 0 1.3 0 1.2-.1 1.3 0 1.2 .1 1.3 .1 1.2 .1 1.3 .1 1.2 .2 1.3 .2 1.2 .1 1.3 .2 1.2 .2 1.3 .2 1.2 .3 1.3 .3 1.2 .5 1.3 .4 1.2 .4 1.3 .5 1.2 .5 1.3 .4 1.2 .5 1.3 .5 1.2 .6 1.3 .5 1.2 .5 1.3 .6 1.2 .7 1.3 .8 1.2 .8 1.3 .8 1.2 .7 1.3 .7 1.2 .6 1.3 .5 1.2 .4 1.3 .4 1.2 .4 1.3 .5 1.2 .4 1.3 .6 1.2 .7 1.3 .7 1.2 .8 1.3 .9 1.2 .9 1.3 .9 1.2 1 1.3 1.1 1.2 1.2 1.3 1.2 1.3 1.2 1.2 1.2 1.2 1.2 1.3 1.1 1.2 1.2 1.3 1.2 1.2 1.2 1.3 1.2 1.2 1.2 1.3 1.3 1.2 1.2 1.3 1.2 1.2 1.3 1.3 1.2 1.2 1.2 1.3 1.3 1.2 1.2 1.3 1.3 1.2 1.2 1.3 1.3 1.2 1.2 1.3 1.2 1.2 1.3 1.3 1.2 1.2 1.2 1.3 1.3 1.2 1.2 1.3 1.2 1.2 1.2 1.3 1.2 1.2 1.1 1.3 1.2 1.2 1.1 1.3 1.2 1.2 1.2 1.3 1.2 1.2 1.1 1.3 1.2 1.2 1.2 1.3 1.1 1.2 1.2 1.3 1.1 1.2 1.2 1.3 1.1 1.2 1.2 1.3 1.1 1.2 1.1 1.3 1.1 1.2 1.1 1.3 1.1 1.2 1.1 1.3 1.1 1.2 1 1.3 1 1.2 1.1 1.3 1 1.2 .9 1.3 1 1.2 1 1.3 .9 1.2 1 1.3 .9 1.2 1 1.3 .9 1.2 .9 1.3 .9 1.2 .9 1.3 .8 1.2 .9 1.3 .8 1.2 .8 1.3 .8 1.2 .8 1.3 .8 1.2 .8 1.3 .7 1.2 .8 1.3 .7 1.2 .7 1.3 .7 1.2 .5 1.3 .5 1.2 .5 1.3 .5 1.2 .4 1.3 .4 1.2 .4 1.3 .2 1.2 .1 1.3-.1 1.2-.4 1.3-.6 1.2-.6 1.3-.7 1.2-1.1 1.3-1.4 1.2-1.4 1.3-1.2 1.2-.6 1.3 .4 1.2 1 1.3 1.2 1.2 1.2 1.3 1.5 1.2 1.3 1.3 .4 1.2-.3 1.3-.7 1.2-1.1 1.3-2 1.2-2.6 1.3-3 1.2-3.6 1.3-4 1.2-3.9 1.3-4 1.2-4 1.3-4 1.2-3.6 1.3-3.4 1.2-3.1 1.3-2.8 1.2-2.1 1.3-1.4 1.2-1.6 1.3-2.7 1.2-5.9 1.3-7.5 1.2-9.7 1.3-8.8 1.2-7.7 1.3-4.8 1.2-2.1 1.3 1.8 1.2 3.2 1.3 4.9 1.2 5.2 1.3 5.6 1.2 5.3 1.3 5 1.2 4.5 1.3 3.9 1.2 3.4 1.3 3 1.2 2.5 1.3 2.2 1.2 2 1.3 1.5 1.2 1.2 1.3 1.2 1.2 .8 1.3 .5 1.2-.1 1.3-.5 1.2-.7 1.3-1 1.2-1.7 1.3-2.9 1.2-5.1 1.3-3.5 1.2-1 1.3 2.6 1.2 4.2 1.3 6.2 1.2 7.4 1.3 7.9 1.2 7 1.3 6.1 1.2 4.7 1.3 3.6 1.2 2.7 1.3 2.2 1.2 2 1.3 1.9 1.2 1.6 1.3 1.3 1.2 1.2 1.3 1 1.2 .9 1.3 .8 1.2 .8 1.3 .8 1.2 .7 1.3 .6 1.2 .6 1.3 .6 1.2 .5 1.3 .5 1.2 .4 1.3 .4 1.2 .3 1.3 .3 1.2 .2 1.3 .2 1.2 .2 1.3 .2 1.2 .2 1.3 .1 1.2 .2 1.3 .1 1.2 .2 1.3 .1 1.2 .2 1.3 .1 1.2 .1 1.3 .1 1.2 .1 1.3 .1 1.2 .1 1.3 .2 1.2 .1 1.3 .1 1.2 .2 1.3 .1 1.2 .2 1.3 .2 1.2 .2 1.3 .2 1.2 .2 1.3 .2 1.2 .2 1.3 .2 1.2 .2 1.3 .2 1.2 .3 1.3 .2 1.2 .2 1.3 .2 1.2 .3 1.3 .2 1.2 .2 1.3 .2 1.2 .2 1.3 .2 1.2 .2 1.3 .2 1.2 .2 1.3 .2 1.2 .2 1.3 .1 1.2 .2 1.3 .2 1.2 .2 1.3 .2 1.2 .1 1.3 .2 1.2 .2 1.3 .2 1.2 .2 1.3 .2 1.2 .1 1.3 .2 1.2 .2 1.3 .1 1.2 .2 1.3 .1 1.2 .2 1.3 .1 1.2 .1 1.3 .2 1.2 .1 1.3 .1 1.2 0 1.3 .1 1.2 .1 1.3 0 1.2 .1 1.3 0 1.2 .1 1.3 0 1.2 0 1.3 .1 1.2 0 1.3 .1 1.2 0 1.3 0 1.2 .1 1.3 0 1.2 0 1.3 0 1.2 .1 1.3 0 1.2 0 1.3 0 1.2 .1 1.3 0 1.2 0 1.3 0 1.2 0 1.3 0 1.2 .1 1.3 0 1.2 0 1.3 0 1.2 0 1.3 0 1.2 0 1.3 0 1.2 .1 1.3 0 1.2 0 1.3 0 1.2 0 1.3 .1 1.2 0 1.3 0 1.2 .1 1.3 .1 1.2 0 1.3 .1 1.2 .1 1.3 .2 1.2 .1 1.3 .1 1.2 .2 1.3 .1 1.2 .2 1.3 .1 1.2 .2 1.3 .2 1.2 .1 1.3 .2 1.2 .1 1.3 .2 1.2 .1 1.3 .2 1.2 .1 1.3 .1 1.2 .2 1.3 .1 1.2 .1 1.3 .1 1.2 0 1.3 .1 1.2 .1 1.3 .1 1.2 .1 1.3 .1 1.2 .1 1.3 .1 1.2 0 1.3 .1 1.2 0 1.3 .1 1.2 0 1.3 0 1.2 0 1.3-.1 1.2-.2 1.3-.4 1.2-1.4 1.3-1.9 1.2-1.5 1.3-1.2 1.2-1 1.3-.4 1.2 .9 1.3 1.7 1.2 2.2 1.3 3 1.2 1.9 1.3 .6 1.2-.2 1.3-.6 1.2-1 1.3-1.6 1.2-.7 1.3-.3 1.2 .2 1.3 .9 1.2 1 1.3 .7 1.2 .7 1.3 .6 1.2 .5 1.3 .3 1.2 0 1.3 0 1.2 0 1.3-.1 1.2 0 1.3-.1 1.2-.1 1.3 0 1.2-.1 1.3-.1 1.2-.1 1.3 0 1.2-.1 1.3-.1 1.2-.1 1.3 0 1.2-.1 1.3-.1 1.2 0 1.3-.1 1.2-.1 1.3-.1 1.2 0 1.3-.1 1.2-.1 1.3-.1 1.2-.1 1.3 0 1.2-.1 1.3-.1 1.2 0 1.3-.1 1.2-.1 1.3 0 1.2-.1 1.3 0 1.2-.1 1.3 0 1.2-.1 1.3-.1 1.2 0 1.3-.1 1.2 0 1.3-.1 1.2 0 1.3-.1 1.2-.1 1.3 0 1.2-.1 1.3 0 1.2-.1 1.3 0 1.2-.1 1.3 0 1.2-.1 1.3 0 1.2-.1 1.3 0 1.2 0 1.3-.1 1.2 0 1.3-.1 1.2 0 1.3 0 1.2-.1 1.3 0 1.2 0 1.3 0 1.2-.1 1.3 0 1.2 0 1.3 0 1.2 0 1.3 0 1.2 0 1.3 0 1.2 0 1.3 0 1.2 0 1.3 0 1.2 0 1.3 0 1.2 0 1.3 .1 1.2 0 1.3 0 1.2 0 1.3 0 1.2 0 1.3 0 1.2 0 1.3 .1 1.2 0 1.3 0 1.2 0 1.3 0 1.2 .1 1.3 0 1.2 0 1.3 0 1.2 0 1.3 .1 1.2 0 1.3 0 1.2 0 1.3 .1 1.2 0 1.3 0 1.2 0 1.3 .1 1.2 0 1.3 0 1.2 .1 1.3 0 1.2 .1 1.3 .1 1.2 .1 1.3 .1 1.2 .1 1.3 .1 1.2 .2 1.3 .1 1.2 .1 1.3 .2 1.2 .1 1.3 .2 1.2 .1 1.3 .2 1.2 .1 1.3 .2 1.2 .1 1.3 .2 1.2 .1 1.3 .2 1.2 .1 1.3 .2 1.2 .1 1.3 .2 1.2 .1 1.3 .1 1.2 .2 1.3 .1 1.2 .1 1.3 .2 1.2 .1 1.3 .2 1.2 .1 1.3 .2 1.2 .1 1.3 .2 1.2 .1 1.3 .2 1.2 .1 1.3 .1 1.2 .2 1.3 .1 1.2 .2 1.3 .1 1.2 .2 1.3 .1 1.2 .1 1.3 .1 1.2 .2 1.3 .1 1.2 .1 1.3 .2 1.2 .1 1.3 .1 1.2 .2 1.3 .1 1.2 .2 1.3 .1 1.2 .2 1.3 .1 1.2 .1 1.3 .2 1.2 .1 1.3-.1 1.2 .3 1.3 .3 1.2 0 1.3 0 1.2-.3 1.3 .1 1.2 .5 1.3-.2 1.2-.3 1.3 .4 1.2-.1 1.3-.4 1.2 .1 1.3 0 1.2 .1 1.3 .1 1.2-.5 1.3-.2 1.2 .4 1.3-.3 1.2-.3 1.3 .4 1.2-.2 1.3-.3 1.2-.2 1.3-.2 1.2 .2 1.3 .1 1.2-.6 1.3-.1 1.2 .1 1.3-.5 1.2-.3 1.3-.1 1.2-.2 1.3-.4 1.2-.5 1.3-.5 1.2-.4 1.3-.5 1.2-1 1.3-1.2 1.2-1.3 1.3-2.1 1.2-3.4 1.3-6.3 1.2-7.9 1.3-9.9 1.2-9 1.3-8.4 1.2-7.3 1.3-5.9 1.2-3.6 1.3-1 1.2 3.1 1.3 6.4 1.2 8.5 1.3 9.2 1.2 7.7 1.3 5.9 1.2 3.8 1.3 2.6 1.2 2.5 1.3 1.9 1.2 1 1.3 1.4 1.2 1.7 1.3 1.3 1.2 1.1 1.3 .2 1.2 .4 1.3 1.3 1.2 .3 1.3-.2 1.2 .9 1.3-.1 1.2-1.5 1.3-1.1 1.2-1 1.3-.8 1.2-.7 1.3-1.9 1.2-1.8 1.3-.9 1.2-2.2 1.3-2.7 1.2-1.4 1.3-1.1 1.2-1.4 1.3-1.1 1.2-1 1.3-.2 1.2 0 1.3-.6 1.2 0 1.3 .6 1.2 0 1.3-.1 1.2 .6 1.3 .7 1.2 1.1 1.3 1.1 1.2 1 1.3 1.4 1.2 1.5 1.3 .9 1.2 1.2 1.3 1.7 1.2 1.3 1.3 1.2 1.2 1.4 1.3 1.3 1.2 1.5 1.3 1.3 1.2 .7 1.3 1.2 1.2 1.1 1.3 .2 1.2 .7 1.3 1.2 1.2 .7 1.3 .7 1.2 .2 1.3 .1 1.2 1 1.3 .5 1.2-.3 1.3 1 1.2 .8 1.3-.5 1.2 0 1.3 .5 1.2 .5 1.3 .7 1.2 0 1.3-.3 1.2 .9 1.3-.1 1.2-.8 1.3 .5 1.2 .4 1.3-.6 1.2-.6 1.3-.6 1.2-.4 1.3 .2 1.2-.9 1.3-.9 1.2 0 1.3-1 1.2-1.6 1.3-.8 1.2-.9 1.3-1.4 1.2-1.6 1.3-2.1 1.2-2.2 1.3-2.5 1.2-3.3 1.3-4.3 1.2-4.6 1.3-4.7 1.2-4.7 1.3-4.5 1.2-3.7 1.3-2.7 1.2-2 1.3-1.2 1.2-.7 1.3 .6 1.2 1 1.3 .2 1.2 .1 1.3-.5 1.2-1.2 1.3-.7 1.2-.5 1.3-.3 1.2 .3 1.3 1.1 1.2 1.4 1.3 1.7 1.2 1.7 1.3 1.7 1.2 1.6 1.3 1.3 1.2 1.3 1.3 1 1.2 .5 1.3-.2 1.2-.6 1.3-.7 1.2-1.1 1.3-1.5 1.2-2.3 1.3-3.6 1.2-3.8 1.3-4.2 1.2-4.2 1.3-3.3 1.2-2.8 1.3-1.5 1.2-1 1.3 0 1.2 1.5 1.3 2.1 1.2 3 1.3 2.9 1.2 2.5 1.3 1.8 1.2 1.3 1.3 .2 1.2 0 1.3-.2 1.2-.2 1.3-.2 1.2-.4 1.3-.5 1.2-.6 1.3-.9 1.2-1 1.3-.8 1.2-1 1.3-.8 1.2-.2 1.3 1.5 1.2 2.6 1.3 4.3 1.2 4.2 1.3 3.3 1.2 2.7 1.3 2 1.2 1.7 1.3 .8 1.2-.2 1.3-.6 1.2-.8 1.3-.9 1.2-.8 1.3-.7 1.2-.8 1.3-.7 1.2-.7 1.3-.8 1.2-.7 1.3-.8 1.2-.9 1.3-.9 1.2-.9 1.3-.8 1.2-.7 1.3-.6 1.2-.6 1.3-.5 1.2-.3 1.3 .2 1.2 .7 1.3 1.1 1.2 1.2 1.3 1.8 1.2 1.9 1.3 1.4 1.2 1.3 1.3 1 1.2 0 1.3-1.7 1.2-2.6 1.3-2.8 1.2-3.7 1.3-3.4 1.2-2.5 1.3-2 1.2-1.8 1.3-1.7 1.2-1.4 1.3-2.3 1.2-4.2 1.3-5.7 1.2-7.3 1.3-9.2 1.2-11.7 1.3-11 1.2-8.7 1.3-5.1 1.2-2.4 1.3-.9 1.2 .4 1.3 2.1 1.2 3 1.3 4.3 1.2 4.7 1.3 5.2 1.2 4.5 1.3 4.4 1.2 2.7 1.3-1 1.2-3.1 1.3-4.4 1.2-6.1 1.3-5.8 1.2-5 1.3-3.3 1.2-2.7 1.3-1.9 1.2-1.6 1.3-1.4 1.2-.8 1.3-.1 1.2 .5 1.3 1 1.2 1.7 1.3 2.9 1.2 2.3 1.3 1.7 1.2 1.1 1.3 0 1.2-1.3 1.3-1.7 1.2-2.2 1.3-2.7 1.2-2.2 1.3-1.5 1.2-1.5 1.3-1.9 1.2-2.6 1.3-2.4 1.2-1.5 1.3-1.2 1.2-.8 1.3-.1 1.2 .8 1.3 1.2 1.2 1.3 1.3 1.6 1.2 1.5 1.3 .6 1.2 .2 1.3 .4 1.2 .5 1.3 .7 1.2 1 1.3 2.1 1.2 2.8 1.3 3 1.2 3.4 1.3 3.4 1.2 3.2 1.3 3 1.2 2.8 1.3 2.5 1.2 2.3 1.3 1.7 1.2 1.5 1.3 1.3 1.2 1.3 1.3 1 1.2 1.4 1.3 2.7 1.2 4.6 1.3 5.3 1.2 6.6 1.3 6.4 1.2 5.2 1.3 4.7 1.2 4.5 1.3 4.4 1.2 4.6 1.3 4.9 1.2 5.2 1.3 5.3 1.2 5 1.3 4.6 1.2 4 1.3 3.5 1.2 3.2 1.3 3 1.2 2.9 1.3 2.8 1.2 2.6 1.3 2.2 1.2 2.1 1.3 1.9 1.2 1.6 1.3 1.5 1.2 1.5 1.3 1.2 1.2 .6 1.3-.2 1.2-.5 1.3-1 1.2-2.5 1.3-2.4 1.2-1.6 1.3-1.2 1.2 .5 1.3 2.6 1.2 3 1.3 3.9 1.2 3.5 1.3 2.4 1.2 1.9 1.3 1.7 1.2 1.4 1.3 1.2 1.2 1 1.3 1 1.2 .8 1.3 .8 1.2 .7 1.3 .6 1.2 .6 1.3 .4 1.2 .3 1.3 .4 1.2 .2 1.3 .3 1.2 .1 1.3 0 1.2-.1 1.3-.1 1.2-.2 1.3-.3 1.2-.2 1.3-.3 1.2-.3 1.3-.2 1.2-.3 1.3-.4 1.2-.3 1.3-.4 1.2-.3 1.3-.4 1.2-.4 1.3-.3 1.2-.3 1.3-.3 1.2-.3 1.3-.2 1.2-.3 1.3-.4 1.2-.3 1.3-.3 1.2-.4 1.3-.3 1.2-.4 1.3-.4 1.2-.6 1.3-.7 1.2-.9 1.3-1.1 1.2-1.1 1.3-1.3 1.2-1.5 1.3-1.7 1.2-1.8 1.3-2 1.2-2.2 1.3-2.2 1.2-1.9 1.3-1.7 1.2-1.6 1.3-1.5 1.2-1.3 1.3-.7 1.2-.5 1.3-.4 1.2-.3 1.3-.3 1.2-.2 1.3-.1 1.2-.2 1.3 0 1.2-.1 1.3-.1 1.2-.1 1.3-.1 1.2-.1 1.3-.4 1.2-1 1.3-1.3 1.2-1.6 1.3-2.6 1.2-2.9 1.3-1.9 1.2-1.6 1.3-1.1 1.2-.2 1.3 .6 1.2 .8 1.3 1.3 1.2 1.8 1.3 1.5 1.2 1 1.3 .8 1.2 0 1.3-.7 1.2-1.1 1.3-1.2 1.2-1.7 1.3-2 1.2-2 1.3-1.6 1.2-1.6 1.3-1.4 1.2-1 1.3-.8 1.2-.5 1.3-.2 1.2 .2 1.3 .4 1.2 .4 1.3 .4 1.2 .4 1.3 .5 1.2 .6 1.3 .5 1.2 .4 1.3 .3 1.2 .2 1.3 .2 1.2 .1 1.3 .2 1.2 .1 1.3 .1 1.2 0 1.3 0 1.2-.1 1.3 0 1.2-.1 1.3-.1 1.2 .3 1.3 1.4 1.2 2.1 1.3 2 1.2 2.9 1.3 2.8 1.2 1.5 1.3 .2 1.2 .2 1.3 .1 1.2 0 1.3-.1 1.2-.2 1.3-.1 1.2-.1 1.3 .3 1.2 .7 1.3 .9 1.2 .7 1.3 .7 1.2 .7 1.3 .7 1.2 .8 1.3 .7 .1 0"/>
<path id="b3" class="c" d="M137.7 1920l.8 0 .7 0 .8 0 .7 0 .8 0 .7 0 .8 0 .7 0 .8 0 .7 0 .8 0 .7 0 .8 0 .7 0 .8 0 .7 0 .8 0 .7 0 .8 0 .7 0 .8 0 .7 0 .8 0 .7 0 .8 0 .7 0 .8 0 .7 0 .8 0 .7 0 .8 .1 .7 .1 .8 .2 .7 .1 .8 .2 .7 .1 .8 .2 .7 .1 .8 .2 .7 .1 .8 .2 .7 0 .8-.5 .7-.4 .8-.5 .7-.4 .8-.5 .7-.4 .8-.5 .7-.1 .8 .7 .7 .7 .8 .7 .7 .7 .8 .5 .7-.9 .8-1 .7-1 .8-1 .7-1 .8-.1 .7 .2 .8 .2 .7 .2 .8 .2 .7 .2 .8 .2 .7 .9 .8 .9 .7 1 .8 .9 .7 .9 .8 0 .7-.3 .8-.3 .7-.2 .8-.3 .7-.3 .8-.3 .7-.3 .8-.3 .7-.4 .8-.3 .7-.3 .8-.4 .7 .3 .8 .7 .7 .7 .8 .8 .7-.2 .8-1 .7-1 .8-1 .7-.3 .8 .4 .7 .4 .8 .4 .7 .4 .8 .4 .7 .4 .8 .3 .7 .4 .8 .4 .7 .4 .8 .4 .7 .3 .8 0 .7-.9 .8-.9 .7-.8 .8-.4 .7 .7 .8 .7 .7 .7 .8 .7 .7 .7 .8-1.1 .7-1 .8-1 .7-1 .8 .6 .7 .5 .8 .5 .7 .5 .8 .6 .7 .5 .8 0 .7-.5 .8-.5 .7-.5 .8-.5 .7-.5 .8-.5 .7 .9 .8 1.2 .7 1.2 .8 1.2 .7 1.3 .8 .1 .7-1.1 .8-1.1 .7-1.1 .8-1.1 .7-1.1 .8-1 .7-.5 .8-.2 .7-.3 .8-.2 .7-.3 .8 .2 .7 .5 .8 .6 .7 .5 .8 .5 .7 .3 .8-.4 .7-.3 .8-.3 .7-.3 .8-.3 .7-1 .8-1.2 .7-1.2 .8-1.3 .7-1 .8 .8 .7 .7 .8 .7 .7 .7 .8 .8 .7 .6 .8 .5 .7 .4 .8 .5 .7 .4 .8 .5 .7 .4 .8 .3 .7 .1 .8 .2 .7 .2 .8 .2 .7 .2 .8 0 .7-1.2 .8-1.3 .7-1.3 .8-1.4 .7-1.3 .8-.1 .7 .3 .8 .4 .7 .3 .8 .3 .7 .3 .8 .2 .7 .3 .8-.6 .7-1 .8-1 .7-1 .8-1 .7-1 .8-1 .7-1 .8 .2 .7 .4 .8 .3 .7 .4 .8-1.2 .7-1.4 .8-1.4 .7-1.4 .8-.4 .7-.3 .8-.4 .7-.5 .8-.5 .7-.6 .8-.2 .7 1 .8 1.1 .7 1 .8 .9 .7 .9 .8-4 .7-3.9 .8-4.1 .7-4 .8-4.1 .7-1.7 .8-.7 .7-.6 .8-.6 .7 .3 .8 .8 .7 .6 .8 .5 .7-.9 .8-1.7 .7-1.6 .8-1.6 .7-2.5 .8-2.7 .7-2.7 .8-2.4 .7-2.4 .8-2.3 .7-2 .8-.4 .7-.4 .8-.3 .7-.4 .8-.3 .7-.3 .8-1.3 .7-2.6 .8-2.5 .7-1.1 .8-.7 .7-.7 .8-.8 .7-.9 .8-1.5 .7-2.1 .8-2.2 .7-2.3 .8-2.3 .7-2.4 .8-2.5 .7-1.5 .8-1.3 .7-1.3 .8-1.3 .7-1.3 .8-1.3 .7-1.3 .8-1.3 .7-1.3 .8-1.9 .7-2.4 .8-2.3 .7-2.2 .8-2.1 .7-2.1 .8-2 .7-2 .8-1.4 .7-1.1 .8-1.1 .7-1.1 .8-1 .7-1 .8-1 .7-1 .8-1.6 .7-1.6 .8-1.6 .7-1.6 .8-1.5 .7-1.6 .8-1.5 .7-1.5 .8-.9 .7-.9 .8-.8 .7-.9 .8-.8 .7-.9 .8-.8 .7-.8 .8-.9 .7-1.1 .5-1 1.2-2.2 1.3-2.3 1.2-2.2 1.3-2.3 1.2-2 1.3-1.5 1.2-1.4 1.3-1.4 1.2-1.4 1.3-1.3 1.2-1.7 1.3-2 1.2-1.9 1.3-1.8 1.2-1.9 1.3-1.8 1.2-1.6 1.3-1.2 1.2-1.1 1.3-1.1 1.2-1.1 1.3-1 1.2-1.1 1.3-1.4 1.2-1.5 1.3-1.4 1.2-1.4 1.3-1.3 1.2-1.2 1.3-1.2 1.2-.8 1.3-.6 1.2-.5 1.3-.4 1.2-.4 1.3-.3 1.2-.3 1.3-.4 1.2-.6 1.3-.6 1.2-.5 1.3-.4 1.2-.4 1.3-.4 1.2-.3 1.3-.1 1.2 0 1.3 .1 1.2 0 1.3 .1 1.2 .1 1.3 .1 1.2 .1 1.3 .1 1.2-.1 1.3 0 1.2 0 1.3-.1 1.2 0 1.3 0 1.2 0 1.3-.1 1.2 0 1.3 .1 1.2 .2 1.3 .1 1.2 .2 1.3 .2 1.2 .2 1.3 .1 1.2 .2 1.3 .3 1.2 .2 1.3 .4 1.2 .6 1.3 .6 1.2 .5 1.3 .5 1.2 .6 1.3 .6 1.2 .6 1.3 .6 1.2 .6 1.3 .7 1.2 .6 1.3 .9 1.2 .9 1.3 1 1.2 1 1.3 1 1.2 1 1.3 .9 1.2 .8 1.3 .6 1.2 .6 1.3 .5 1.2 .6 1.3 .5 1.2 .7 1.3 .7 1.2 .9 1.3 .9 1.2 1.1 1.3 1.1 1.2 1.2 1.3 1.3 1.2 1.3 1.3 1.4 1.2 1.6 1.3 1.5 1.3 1.6 1.2 1.6 1.2 1.6 1.3 1.5 1.2 1.6 1.3 1.5 1.2 1.6 1.3 1.6 1.2 1.6 1.3 1.6 1.2 1.6 1.3 1.7 1.2 1.6 1.3 1.6 1.2 1.7 1.3 1.6 1.2 1.6 1.3 1.7 1.2 1.6 1.3 1.6 1.2 1.7 1.3 1.6 1.2 1.6 1.3 1.7 1.2 1.6 1.3 1.6 1.2 1.6 1.3 1.6 1.2 1.6 1.3 1.6 1.2 1.7 1.3 1.7 1.2 1.7 1.3 1.8 1.2 1.7 1.3 1.7 1.2 1.8 1.3 1.7 1.2 1.7 1.3 1.8 1.2 1.7 1.3 1.7 1.2 1.7 1.3 1.7 1.2 1.7 1.3 1.7 1.2 1.6 1.3 1.7 1.2 1.6 1.3 1.6 1.2 1.6 1.3 1.6 1.2 1.5 1.3 1.5 1.2 1.6 1.3 1.4 1.2 1.5 1.3 1.4 1.2 1.5 1.3 1.4 1.2 1.4 1.3 1.4 1.2 1.4 1.3 1.3 1.2 1.4 1.3 1.3 1.2 1.3 1.3 1.3 1.2 1.2 1.3 1.3 1.2 1.2 1.3 1.2 1.2 1.1 1.3 1.2 1.2 1.1 1.3 1.2 1.2 1.1 1.3 1.1 1.2 1 1.3 1 1.2 .8 1.3 .8 1.2 .7 1.3 .6 1.2 .7 1.3 .6 1.2 .5 1.3 .3 1.2 .2 1.3-.1 1.2-.6 1.3-.7 1.2-1 1.3-1 1.2-1.3 1.3-2 1.2-2 1.3-1.6 1.2-.8 1.3 .5 1.2 1.3 1.3 1.7 1.2 1.6 1.3 2.2 1.2 1.8 1.3 .5 1.2-.5 1.3-.9 1.2-1.5 1.3-2.8 1.2-3.5 1.3-4.1 1.2-5 1.3-5.5 1.2-5.4 1.3-5.4 1.2-5.5 1.3-5.5 1.2-4.9 1.3-4.6 1.2-4.4 1.3-3.8 1.2-2.8 1.3-2 1.2-2.2 1.3-3.7 1.2-8 1.3-10.3 1.2-13.3 1.3-12.2 1.2-10.6 1.3-6.6 1.2-2.8 1.3 2.5 1.2 4.3 1.3 6.7 1.2 7 1.3 7.7 1.2 7.2 1.3 6.7 1.2 6.2 1.3 5.2 1.2 4.7 1.3 4.1 1.2 3.4 1.3 3 1.2 2.6 1.3 2.1 1.2 1.6 1.3 1.6 1.2 1.2 1.3 .6 1.2-.2 1.3-.5 1.2-.9 1.3-1.2 1.2-2 1.3-3.5 1.2-6 1.3-4.1 1.2-1.3 1.3 3.6 1.2 5.6 1.3 8.3 1.2 10 1.3 10.7 1.2 9.4 1.3 8.2 1.2 6.2 1.3 4.9 1.2 3.6 1.3 3 1.2 2.7 1.3 2.5 1.2 2.2 1.3 1.8 1.2 1.5 1.3 1.4 1.2 1.2 1.3 1.2 1.2 1 1.3 1 1.2 1 1.3 .9 1.2 .7 1.3 .8 1.2 .7 1.3 .6 1.2 .6 1.3 .5 1.2 .4 1.3 .4 1.2 .4 1.3 .3 1.2 .3 1.3 .2 1.2 .3 1.3 .2 1.2 .2 1.3 .3 1.2 .2 1.3 .2 1.2 .2 1.3 .1 1.2 .2 1.3 .1 1.2 .2 1.3 .2 1.2 .1 1.3 .2 1.2 .2 1.3 .2 1.2 .2 1.3 .2 1.2 .3 1.3 .3 1.2 .2 1.3 .3 1.2 .3 1.3 .3 1.2 .3 1.3 .3 1.2 .3 1.3 .3 1.2 .3 1.3 .4 1.2 .3 1.3 .3 1.2 .3 1.3 .3 1.2 .3 1.3 .3 1.2 .4 1.3 .2 1.2 .3 1.3 .3 1.2 .3 1.3 .2 1.2 .3 1.3 .2 1.2 .3 1.3 .3 1.2 .2 1.3 .3 1.2 .3 1.3 .2 1.2 .3 1.3 .3 1.2 .2 1.3 .3 1.2 .2 1.3 .3 1.2 .2 1.3 .3 1.2 .2 1.3 .2 1.2 .2 1.3 .2 1.2 .2 1.3 .1 1.2 .2 1.3 .1 1.2 .1 1.3 .1 1.2 .1 1.3 .1 1.2 .1 1.3 0 1.2 .1 1.3 .1 1.2 0 1.3 .1 1.2 0 1.3 .1 1.2 0 1.3 .1 1.2 0 1.3 .1 1.2 0 1.3 0 1.2 .1 1.3 0 1.2 0 1.3 .1 1.2 0 1.3 0 1.2 .1 1.3 0 1.2 0 1.3 0 1.2 .1 1.3 0 1.2 0 1.3 0 1.2 0 1.3 .1 1.2 0 1.3 0 1.2 0 1.3 0 1.2 .1 1.3 0 1.2 0 1.3 .1 1.2 0 1.3 0 1.2 .1 1.3 .1 1.2 .2 1.3 .1 1.2 .2 1.3 .1 1.2 .2 1.3 .2 1.2 .2 1.3 .2 1.2 .3 1.3 .2 1.2 .2 1.3 .2 1.2 .3 1.3 .2 1.2 .2 1.3 .3 1.2 .2 1.3 .2 1.2 .2 1.3 .2 1.2 .1 1.3 .2 1.2 .1 1.3 .1 1.2 .2 1.3 .1 1.2 .1 1.3 .2 1.2 .1 1.3 .1 1.2 .1 1.3 .2 1.2 .1 1.3 0 1.2 .1 1.3 .1 1.2 0 1.3 0 1.2-.1 1.3-.1 1.2-.2 1.3-.3 1.2-1.5 1.3-1.9 1.2-1.5 1.3-1.2 1.2-1 1.3-.4 1.2 .8 1.3 1.7 1.2 2.2 1.3 2.9 1.2 1.9 1.3 .7 1.2-.3 1.3-.6 1.2-1 1.3-1.6 1.2-.7 1.3-.3 1.2 .1 1.3 1 1.2 .9 1.3 .7 1.2 .7 1.3 .6 1.2 .5 1.3 .2 1.2 0 1.3 0 1.2-.1 1.3 0 1.2-.1 1.3-.1 1.2 0 1.3-.1 1.2-.1 1.3-.1 1.2-.1 1.3-.1 1.2-.1 1.3-.1 1.2-.1 1.3 0 1.2-.1 1.3-.1 1.2-.1 1.3-.1 1.2-.1 1.3-.1 1.2-.1 1.3-.1 1.2-.1 1.3-.1 1.2 0 1.3-.1 1.2-.1 1.3-.1 1.2-.1 1.3-.1 1.2 0 1.3-.1 1.2-.1 1.3-.1 1.2 0 1.3-.1 1.2-.1 1.3-.1 1.2 0 1.3-.1 1.2-.1 1.3 0 1.2-.1 1.3-.1 1.2-.1 1.3 0 1.2-.1 1.3-.1 1.2 0 1.3-.1 1.2-.1 1.3 0 1.2-.1 1.3-.1 1.2 0 1.3-.1 1.2 0 1.3-.1 1.2 0 1.3-.1 1.2 0 1.3-.1 1.2 0 1.3-.1 1.2 0 1.3-.1 1.2 0 1.3 0 1.2-.1 1.3 0 1.2 0 1.3 0 1.2 0 1.3 0 1.2 0 1.3 0 1.2 0 1.3 0 1.2 0 1.3 0 1.2 .1 1.3 0 1.2 0 1.3 0 1.2 0 1.3 0 1.2 0 1.3 .1 1.2 0 1.3 0 1.2 0 1.3 0 1.2 .1 1.3 0 1.2 0 1.3 0 1.2 .1 1.3 0 1.2 0 1.3 0 1.2 .1 1.3 0 1.2 0 1.3 .1 1.2 0 1.3 0 1.2 .1 1.3 0 1.2 0 1.3 .1 1.2 0 1.3 .1 1.2 .1 1.3 .1 1.2 .1 1.3 .1 1.2 .2 1.3 .1 1.2 .1 1.3 .2 1.2 .2 1.3 .1 1.2 .2 1.3 .2 1.2 .2 1.3 .2 1.2 .2 1.3 .1 1.2 .2 1.3 .2 1.2 .2 1.3 .2 1.2 .2 1.3 .1 1.2 .2 1.3 .2 1.2 .1 1.3 .2 1.2 .1 1.3 .2 1.2 .2 1.3 .2 1.2 .1 1.3 .2 1.2 .2 1.3 .2 1.2 .1 1.3 .2 1.2 .2 1.3 .2 1.2 .1 1.3 .2 1.2 .2 1.3 .2 1.2 .1 1.3 .2 1.2 .2 1.3 .1 1.2 .2 1.3 .1 1.2 .2 1.3 .1 1.2 .2 1.3 .1 1.2 .2 1.3 .2 1.2 .2 1.3 .1 1.2 .2 1.3 .2 1.2 .1 1.3 .2 1.2 .1 1.3 .3 1.2 .1 1.3-.1 1.2 .3 1.3 .3 1.2 0 1.3 0 1.2-.2 1.3 .1 1.2 .5 1.3-.2 1.2-.3 1.3 .4 1.2-.1 1.3-.5 1.2 .1 1.3 .1 1.2 .1 1.3 0 1.2-.6 1.3-.1 1.2 .3 1.3-.3 1.2-.3 1.3 .3 1.2-.2 1.3-.4 1.2-.2 1.3-.2 1.2 .1 1.3 .1 1.2-.6 1.3-.2 1.2 0 1.3-.5 1.2-.5 1.3-.1 1.2-.4 1.3-.5 1.2-.6 1.3-.8 1.2-.5 1.3-.7 1.2-1.4 1.3-1.5 1.2-1.9 1.3-2.8 1.2-4.7 1.3-8.6 1.2-10.8 1.3-13.6 1.2-12.2 1.3-11.6 1.2-10 1.3-8.1 1.2-4.9 1.3-1.4 1.2 4.3 1.3 8.5 1.2 11.5 1.3 12.3 1.2 10.5 1.3 7.9 1.2 5.1 1.3 3.6 1.2 3.2 1.3 2.5 1.2 1.6 1.3 1.9 1.2 2.1 1.3 1.7 1.2 1.5 1.3 .4 1.2 .6 1.3 1.6 1.2 .5 1.3-.1 1.2 .9 1.3-.2 1.2-1.7 1.3-1.4 1.2-1.4 1.3-1.1 1.2-1.1 1.3-2.4 1.2-2.2 1.3-1.4 1.2-2.8 1.3-3.4 1.2-2 1.3-1.6 1.2-1.8 1.3-1.4 1.2-1.1 1.3-.5 1.2-.1 1.3-.6 1.2 0 1.3 .6 1.2 .1 1.3 .1 1.2 .6 1.3 1 1.2 1.3 1.3 1.5 1.2 1.3 1.3 1.9 1.2 1.9 1.3 1.2 1.2 1.6 1.3 2.2 1.2 1.7 1.3 1.6 1.2 1.8 1.3 1.7 1.2 2 1.3 1.6 1.2 1.1 1.3 1.5 1.2 1.3 1.3 .5 1.2 .9 1.3 1.4 1.2 1 1.3 .8 1.2 .4 1.3 .2 1.2 1.2 1.3 .6 1.2-.2 1.3 1.1 1.2 .9 1.3-.4 1.2 .1 1.3 .6 1.2 .5 1.3 .8 1.2 .1 1.3-.2 1.2 .9 1.3 0 1.2-.8 1.3 .5 1.2 .3 1.3-.8 1.2-.6 1.3-.8 1.2-.6 1.3 0 1.2-1.1 1.3-1.2 1.2-.3 1.3-1.3 1.2-2 1.3-1.2 1.2-1.4 1.3-2 1.2-2.2 1.3-2.9 1.2-3.2 1.3-3.5 1.2-4.6 1.3-6.1 1.2-6.7 1.3-6.6 1.2-6.5 1.3-6.4 1.2-5.2 1.3-3.9 1.2-2.9 1.3-1.7 1.2-.9 1.3 .8 1.2 1.4 1.3 .3 1.2 0 1.3-.7 1.2-1.5 1.3-1 1.2-.6 1.3-.4 1.2 .3 1.3 1.6 1.2 1.9 1.3 2.3 1.2 2.3 1.3 2.4 1.2 2.2 1.3 1.7 1.2 1.8 1.3 1.4 1.2 .6 1.3-.3 1.2-.8 1.3-1 1.2-1.6 1.3-2.2 1.2-3.2 1.3-5 1.2-5.3 1.3-6 1.2-5.9 1.3-4.7 1.2-3.9 1.3-2.3 1.2-1.3 1.3-.1 1.2 2.2 1.3 2.9 1.2 4.3 1.3 4 1.2 3.6 1.3 2.4 1.2 1.8 1.3 .4 1.2-.1 1.3-.2 1.2-.3 1.3-.3 1.2-.6 1.3-.7 1.2-.9 1.3-1.2 1.2-1.3 1.3-1.3 1.2-1.3 1.3-1.2 1.2-.3 1.3 2.2 1.2 3.6 1.3 6.1 1.2 5.8 1.3 4.7 1.2 3.8 1.3 2.8 1.2 2.4 1.3 1.1 1.2-.3 1.3-.8 1.2-1.1 1.3-1.3 1.2-1.2 1.3-1 1.2-1 1.3-1 1.2-1.1 1.3-1 1.2-1.1 1.3-1.1 1.2-1.2 1.3-1.3 1.2-1.2 1.3-1.2 1.2-1 1.3-.9 1.2-.8 1.3-.7 1.2-.4 1.3 .2 1.2 1 1.3 1.5 1.2 1.7 1.3 2.4 1.2 2.6 1.3 1.9 1.2 1.8 1.3 1.3 1.2 .1 1.3-2.5 1.2-3.6 1.3-4 1.2-5.1 1.3-4.9 1.2-3.5 1.3-2.8 1.2-2.6 1.3-2.3 1.2-2.1 1.3-3.2 1.2-5.9 1.3-7.9 1.2-10.3 1.3-13.1 1.2-16.4 1.3-15.5 1.2-12.3 1.3-7.1 1.2-3.4 1.3-1.3 1.2 .6 1.3 2.8 1.2 4.1 1.3 5.9 1.2 6.3 1.3 7.2 1.2 6.1 1.3 6 1.2 3.7 1.3-1.3 1.2-4 1.3-5.9 1.2-7.9 1.3-7.6 1.2-6.6 1.3-4.3 1.2-3.5 1.3-2.5 1.2-2.1 1.3-1.8 1.2-1.1 1.3-.1 1.2 .6 1.3 1.1 1.2 1.8 1.3 3.3 1.2 2.5 1.3 1.8 1.2 1.3 1.3-.1 1.2-1.7 1.3-2.4 1.2-3 1.3-3.6 1.2-3 1.3-2.1 1.2-2 1.3-2.6 1.2-3.6 1.3-3.3 1.2-2 1.3-1.7 1.2-1.1 1.3-.1 1.2 1.1 1.3 1.5 1.2 1.7 1.3 2.2 1.2 1.9 1.3 .8 1.2 .3 1.3 .5 1.2 .6 1.3 1 1.2 1.3 1.3 2.8 1.2 3.6 1.3 3.9 1.2 4.5 1.3 4.5 1.2 4.2 1.3 4 1.2 3.6 1.3 3.3 1.2 3 1.3 2.3 1.2 1.9 1.3 1.7 1.2 1.7 1.3 1.3 1.2 1.9 1.3 3.8 1.2 6.5 1.3 7.5 1.2 9.4 1.3 9 1.2 7.3 1.3 6.7 1.2 6.3 1.3 6.3 1.2 6.5 1.3 7 1.2 7.3 1.3 7.5 1.2 7.1 1.3 6.6 1.2 5.6 1.3 4.9 1.2 4.5 1.3 4.3 1.2 4.1 1.3 4 1.2 3.6 1.3 3.2 1.2 2.9 1.3 2.7 1.2 2.3 1.3 2.1 1.2 2.1 1.3 1.7 1.2 .9 1.3-.2 1.2-.9 1.3-1.5 1.2-3.9 1.3-3.7 1.2-2.5 1.3-1.8 1.2 .6 1.3 3.6 1.2 4.1 1.3 5.2 1.2 4.8 1.3 3.1 1.2 2.7 1.3 2.2 1.2 1.9 1.3 1.6 1.2 1.5 1.3 1.2 1.2 1.2 1.3 1 1.2 1 1.3 .8 1.2 .8 1.3 .5 1.2 .5 1.3 .4 1.2 .4 1.3 .3 1.2 .2 1.3 0 1.2-.1 1.3-.2 1.2-.3 1.3-.3 1.2-.4 1.3-.4 1.2-.3 1.3-.4 1.2-.4 1.3-.5 1.2-.4 1.3-.5 1.2-.6 1.3-.5 1.2-.4 1.3-.5 1.2-.4 1.3-.4 1.2-.4 1.3-.4 1.2-.4 1.3-.4 1.2-.5 1.3-.5 1.2-.4 1.3-.5 1.2-.5 1.3-.7 1.2-.7 1.3-1 1.2-1.2 1.3-1.5 1.2-1.6 1.3-1.8 1.2-2.1 1.3-2.3 1.2-2.4 1.3-2.8 1.2-3.1 1.3-3 1.2-2.6 1.3-2.3 1.2-2.3 1.3-2.2 1.2-1.6 1.3-1.1 1.2-.6 1.3-.7 1.2-.5 1.3-.4 1.2-.3 1.3-.3 1.2-.1 1.3-.2 1.2-.1 1.3-.1 1.2-.1 1.3-.2 1.2-.2 1.3-.6 1.2-1.5 1.3-2.2 1.2-2.6 1.3-4 1.2-4.5 1.3-3.1 1.2-2.4 1.3-1.7 1.2-.3 1.3 .7 1.2 1.1 1.3 1.6 1.2 2.4 1.3 1.9 1.2 1.4 1.3 1 1.2 .1 1.3-.9 1.2-1.5 1.3-1.6 1.2-2.2 1.3-2.7 1.2-2.6 1.3-2.2 1.2-2.1 1.3-1.9 1.2-1.3 1.3-1 1.2-.8 1.3-.2 1.2 .2 1.3 .3 1.2 .4 1.3 .3 1.2 .4 1.3 .5 1.2 .5 1.3 .4 1.2 .4 1.3 .3 1.2 .2 1.3 .1 1.2 .1 1.3 .1 1.2 .1 1.3 0 1.2 .1 1.3-.1 1.2-.1 1.3-.1 1.2-.1 1.3-.2 1.2 .4 1.3 2.2 1.2 2.9 1.3 3.1 1.2 4.1 1.3 4.1 1.2 2.2 1.3 .3 1.2 .3 1.3 .1 1.2 .1 1.3-.2 1.2-.3 1.3-.2 1.2-.1 1.3 .4 1.2 1.1 1.3 1.2 1.2 1.1 1.3 1 1.2 1 1.3 1.1 1.2 1 1.3 1.1 .1 0"/>
<path id="b4" class="c" d="M137.7 2096.7l.8 0 .7 0 .8 0 .7 0 .8 0 .7 0 .8 0 .7 0 .8 0 .7 0 .8 0 .7 0 .8 0 .7 0 .8 0 .7 0 .8 0 .7 0 .8 0 .7 0 .8 0 .7 0 .8 0 .7 0 .8 0 .7 0 .8 0 .7 0 .8 0 .7 0 .8 0 .7 .2 .8 .1 .7 .1 .8 .1 .7 .2 .8 .1 .7 .1 .8 .2 .7 .1 .8 .1 .7 0 .8-.4 .7-.3 .8-.4 .7-.4 .8-.4 .7-.3 .8-.4 .7-.1 .8 .5 .7 .6 .8 .6 .7 .6 .8 .5 .7-.9 .8-.8 .7-.8 .8-.8 .7-.8 .8-.1 .7 .1 .8 .2 .7 .1 .8 .2 .7 .1 .8 .2 .7 .8 .8 .8 .7 .7 .8 .8 .7 .7 .8 .1 .7-.3 .8-.2 .7-.3 .8-.2 .7-.2 .8-.3 .7-.2 .8-.3 .7-.3 .8-.3 .7-.3 .8-.3 .7 .2 .8 .6 .7 .7 .8 .6 .7-.2 .8-.8 .7-.9 .8-.8 .7-.2 .8 .3 .7 .3 .8 .3 .7 .4 .8 .3 .7 .3 .8 .3 .7 .3 .8 .3 .7 .3 .8 .4 .7 .3 .8-.1 .7-.7 .8-.7 .7-.8 .8-.3 .7 .6 .8 .6 .7 .5 .8 .6 .7 .6 .8-.9 .7-.8 .8-.8 .7-.9 .8 .4 .7 .5 .8 .4 .7 .5 .8 .4 .7 .4 .8 .1 .7-.5 .8-.4 .7-.4 .8-.4 .7-.4 .8-.4 .7 .7 .8 1 .7 1 .8 1 .7 1 .8 .2 .7-.9 .8-1 .7-.9 .8-.9 .7-.9 .8-.9 .7-.3 .8-.2 .7-.2 .8-.2 .7-.3 .8 .2 .7 .5 .8 .4 .7 .4 .8 .4 .7 .3 .8-.3 .7-.2 .8-.3 .7-.2 .8-.3 .7-.8 .8-1 .7-1 .8-1 .7-.8 .8 .6 .7 .6 .8 .6 .7 .6 .8 .6 .7 .6 .8 .4 .7 .4 .8 .4 .7 .3 .8 .4 .7 .4 .8 .2 .7 .2 .8 .2 .7 .1 .8 .2 .7 .2 .8 0 .7-1 .8-1.1 .7-1 .8-1.1 .7-1.1 .8 0 .7 .3 .8 .3 .7 .3 .8 .3 .7 .3 .8 .3 .7 .3 .8-.5 .7-.7 .8-.8 .7-.7 .8-.8 .7-.7 .8-.8 .7-.8 .8 .3 .7 .4 .8 .4 .7 .4 .8-.9 .7-1.1 .8-1.1 .7-1.1 .8-.2 .7-.1 .8-.2 .7-.2 .8-.3 .7-.3 .8-.1 .7 1.1 .8 1.1 .7 1 .8 1 .7 1 .8-3.1 .7-3 .8-3.1 .7-3.2 .8-3.1 .7-1.2 .8-.2 .7-.3 .8-.2 .7 .5 .8 1 .7 .9 .8 .8 .7-.4 .8-1 .7-1 .8-.9 .7-1.7 .8-2 .7-1.8 .8-1.8 .7-1.7 .8-1.7 .7-1.4 .8-.1 .7-.1 .8-.1 .7-.1 .8 0 .7-.1 .8-.9 .7-1.9 .8-2 .7-.6 .8-.4 .7-.4 .8-.4 .7-.5 .8-.9 .7-1.5 .8-1.5 .7-1.6 .8-1.6 .7-1.6 .8-1.7 .7-.9 .8-.6 .7-.7 .8-.7 .7-.7 .8-.7 .7-.7 .8-.7 .7-.7 .8-1.2 .7-1.6 .8-1.5 .7-1.6 .8-1.4 .7-1.4 .8-1.4 .7-1.4 .8-1 .7-.6 .8-.7 .7-.6 .8-.6 .7-.7 .8-.6 .7-.5 .8-1.2 .7-1.1 .8-1.1 .7-1.1 .8-1.1 .7-1.1 .8-1 .7-1.1 .8-.5 .7-.5 .8-.5 .7-.6 .8-.5 .7-.5 .8-.5 .7-.4 .8-.5 .7-.8 .5-.7 1.2-1.5 1.3-1.6 1.2-1.5 1.3-1.5 1.2-1.4 1.3-.9 1.2-.9 1.3-.8 1.2-.9 1.3-.8 1.2-1.1 1.3-1.4 1.2-1.3 1.3-1.2 1.2-1.3 1.3-1.2 1.2-1.1 1.3-.8 1.2-.7 1.3-.6 1.2-.7 1.3-.6 1.2-.7 1.3-.9 1.2-1 1.3-1 1.2-.9 1.3-.9 1.2-.9 1.3-.8 1.2-.5 1.3-.4 1.2-.3 1.3-.2 1.2-.2 1.3-.2 1.2-.2 1.3-.2 1.2-.4 1.3-.4 1.2-.4 1.3-.3 1.2-.3 1.3-.2 1.2-.3 1.3-.1 1.2 .1 1.3 .1 1.2 .2 1.3 .2 1.2 .2 1.3 .2 1.2 .3 1.3 .2 1.2 .1 1.3 .1 1.2 .2 1.3 .1 1.2 .2 1.3 .1 1.2 .2 1.3 .2 1.2 .1 1.3 .3 1.2 .3 1.3 .4 1.2 .3 1.3 .4 1.2 .4 1.3 .4 1.2 .4 1.3 .4 1.2 .4 1.3 .5 1.2 .5 1.3 .5 1.2 .4 1.3 .6 1.2 .5 1.3 .6 1.2 .6 1.3 .6 1.2 .6 1.3 .6 1.2 .6 1.3 .5 1.2 .6 1.3 .7 1.2 .7 1.3 .6 1.2 .7 1.3 .6 1.2 .5 1.3 .4 1.2 .4 1.3 .3 1.2 .4 1.3 .4 1.2 .4 1.3 .5 1.2 .5 1.3 .7 1.2 .7 1.3 .7 1.2 .8 1.3 .8 1.2 .9 1.3 .9 1.2 1 1.3 1 1.3 1.1 1.2 1 1.2 1 1.3 1.1 1.2 1 1.3 1 1.2 1 1.3 1.1 1.2 1 1.3 1.1 1.2 1.1 1.3 1 1.2 1.1 1.3 1 1.2 1.1 1.3 1.1 1.2 1.1 1.3 1 1.2 1.1 1.3 1.1 1.2 1 1.3 1.1 1.2 1.1 1.3 1 1.2 1.1 1.3 1.1 1.2 1 1.3 1 1.2 1.1 1.3 1 1.2 .9 1.3 .9 1.2 .9 1.3 1 1.2 .9 1.3 .9 1.2 1 1.3 .9 1.2 .9 1.3 1 1.2 .9 1.3 .9 1.2 .9 1.3 .9 1.2 .9 1.3 .9 1.2 .9 1.3 .9 1.2 .9 1.3 .9 1.2 .8 1.3 .9 1.2 .8 1.3 .8 1.2 .8 1.3 .8 1.2 .8 1.3 .8 1.2 .8 1.3 .7 1.2 .8 1.3 .7 1.2 .8 1.3 .7 1.2 .7 1.3 .7 1.2 .7 1.3 .7 1.2 .7 1.3 .7 1.2 .6 1.3 .7 1.2 .6 1.3 .6 1.2 .6 1.3 .6 1.2 .6 1.3 .6 1.2 .6 1.3 .5 1.2 .4 1.3 .4 1.2 .4 1.3 .4 1.2 .3 1.3 .4 1.2 .2 1.3 .2 1.2 .1 1.3-.1 1.2-.3 1.3-.5 1.2-.6 1.3-.7 1.2-.9 1.3-1.2 1.2-1.3 1.3-1.1 1.2-.5 1.3 .3 1.2 .9 1.3 1.1 1.2 1 1.3 1.4 1.2 1.2 1.3 .3 1.2-.3 1.3-.6 1.2-.9 1.3-1.8 1.2-2.3 1.3-2.7 1.2-3.3 1.3-3.5 1.2-3.5 1.3-3.5 1.2-3.6 1.3-3.5 1.2-3.2 1.3-3 1.2-2.8 1.3-2.5 1.2-1.8 1.3-1.3 1.2-1.4 1.3-2.5 1.2-5.2 1.3-6.6 1.2-8.7 1.3-7.8 1.2-6.9 1.3-4.3 1.2-1.8 1.3 1.7 1.2 2.9 1.3 4.5 1.2 4.7 1.3 5.2 1.2 4.9 1.3 4.5 1.2 4.2 1.3 3.5 1.2 3.2 1.3 2.7 1.2 2.3 1.3 2 1.2 1.8 1.3 1.4 1.2 1.1 1.3 1.1 1.2 .8 1.3 .4 1.2-.1 1.3-.4 1.2-.6 1.3-.9 1.2-1.5 1.3-2.5 1.2-4.3 1.3-3 1.2-.9 1.3 2.3 1.2 3.6 1.3 5.3 1.2 6.5 1.3 6.8 1.2 6.1 1.3 5.3 1.2 4 1.3 3.2 1.2 2.3 1.3 1.9 1.2 1.8 1.3 1.6 1.2 1.4 1.3 1.2 1.2 .9 1.3 .9 1.2 .8 1.3 .8 1.2 .6 1.3 .7 1.2 .6 1.3 .6 1.2 .5 1.3 .4 1.2 .5 1.3 .4 1.2 .4 1.3 .3 1.2 .3 1.3 .2 1.2 .2 1.3 .2 1.2 .2 1.3 .2 1.2 .1 1.3 .2 1.2 .1 1.3 .1 1.2 .2 1.3 .1 1.2 .1 1.3 .1 1.2 .1 1.3 .1 1.2 .1 1.3 .1 1.2 .1 1.3 .1 1.2 .1 1.3 .1 1.2 .2 1.3 .1 1.2 .2 1.3 .1 1.2 .2 1.3 .2 1.2 .1 1.3 .2 1.2 .2 1.3 .2 1.2 .2 1.3 .2 1.2 .2 1.3 .2 1.2 .2 1.3 .2 1.2 .2 1.3 .2 1.2 .1 1.3 .2 1.2 .2 1.3 .2 1.2 .2 1.3 .2 1.2 .1 1.3 .2 1.2 .1 1.3 .2 1.2 .1 1.3 .2 1.2 .2 1.3 .1 1.2 .2 1.3 .2 1.2 .1 1.3 .2 1.2 .1 1.3 .2 1.2 .2 1.3 .1 1.2 .2 1.3 .1 1.2 .1 1.3 .2 1.2 .1 1.3 .1 1.2 .1 1.3 .1 1.2 .1 1.3 .1 1.2 .1 1.3 0 1.2 .1 1.3 0 1.2 .1 1.3 0 1.2 .1 1.3 0 1.2 0 1.3 .1 1.2 0 1.3 0 1.2 .1 1.3 0 1.2 0 1.3 0 1.2 .1 1.3 0 1.2 0 1.3 0 1.2 .1 1.3 0 1.2 0 1.3 0 1.2 0 1.3 0 1.2 .1 1.3 0 1.2 0 1.3 0 1.2 0 1.3 0 1.2 0 1.3 0 1.2 .1 1.3 0 1.2 0 1.3 0 1.2 0 1.3 0 1.2 0 1.3 .1 1.2 0 1.3 0 1.2 .1 1.3 0 1.2 .1 1.3 .1 1.2 .1 1.3 .1 1.2 .1 1.3 .1 1.2 .2 1.3 .1 1.2 .1 1.3 .2 1.2 .1 1.3 .2 1.2 .1 1.3 .1 1.2 .2 1.3 .1 1.2 .1 1.3 .2 1.2 .1 1.3 .1 1.2 .1 1.3 .1 1.2 .1 1.3 .1 1.2 0 1.3 .1 1.2 .1 1.3 .1 1.2 .1 1.3 0 1.2 .1 1.3 .1 1.2 0 1.3 .1 1.2 0 1.3 .1 1.2 0 1.3 0 1.2-.1 1.3-.1 1.2-.1 1.3-.4 1.2-1.5 1.3-1.9 1.2-1.5 1.3-1.2 1.2-1 1.3-.4 1.2 .8 1.3 1.7 1.2 2.3 1.3 2.9 1.2 1.9 1.3 .7 1.2-.3 1.3-.6 1.2-1 1.3-1.6 1.2-.7 1.3-.3 1.2 .2 1.3 .9 1.2 1 1.3 .6 1.2 .7 1.3 .6 1.2 .5 1.3 .3 1.2 0 1.3 0 1.2-.1 1.3 0 1.2-.1 1.3-.1 1.2-.1 1.3 0 1.2-.1 1.3-.1 1.2-.1 1.3-.1 1.2-.1 1.3-.1 1.2 0 1.3-.1 1.2-.1 1.3-.1 1.2-.1 1.3-.1 1.2 0 1.3-.1 1.2-.1 1.3-.1 1.2-.1 1.3-.1 1.2-.1 1.3 0 1.2-.1 1.3-.1 1.2-.1 1.3-.1 1.2 0 1.3-.1 1.2-.1 1.3 0 1.2-.1 1.3-.1 1.2 0 1.3-.1 1.2-.1 1.3 0 1.2-.1 1.3-.1 1.2 0 1.3-.1 1.2-.1 1.3 0 1.2-.1 1.3-.1 1.2 0 1.3-.1 1.2-.1 1.3 0 1.2-.1 1.3 0 1.2-.1 1.3 0 1.2-.1 1.3-.1 1.2 0 1.3 0 1.2-.1 1.3 0 1.2-.1 1.3 0 1.2-.1 1.3 0 1.2 0 1.3 0 1.2-.1 1.3 0 1.2 0 1.3 0 1.2 0 1.3 0 1.2 0 1.3 0 1.2 0 1.3 0 1.2 0 1.3 0 1.2 0 1.3 .1 1.2 0 1.3 0 1.2 0 1.3 0 1.2 0 1.3 0 1.2 0 1.3 .1 1.2 0 1.3 0 1.2 0 1.3 0 1.2 0 1.3 .1 1.2 0 1.3 0 1.2 0 1.3 0 1.2 .1 1.3 0 1.2 0 1.3 0 1.2 0 1.3 .1 1.2 0 1.3 0 1.2 .1 1.3 0 1.2 0 1.3 .1 1.2 .1 1.3 0 1.2 .1 1.3 .1 1.2 .1 1.3 .1 1.2 .1 1.3 .2 1.2 .1 1.3 .1 1.2 .1 1.3 .2 1.2 .1 1.3 .2 1.2 .1 1.3 .2 1.2 .1 1.3 .1 1.2 .2 1.3 .1 1.2 .2 1.3 .1 1.2 .1 1.3 .1 1.2 .2 1.3 .1 1.2 .1 1.3 .1 1.2 .2 1.3 .1 1.2 .1 1.3 .2 1.2 .1 1.3 .1 1.2 .2 1.3 .1 1.2 .1 1.3 .2 1.2 .1 1.3 .1 1.2 .2 1.3 .1 1.2 .1 1.3 .2 1.2 .1 1.3 .1 1.2 .1 1.3 .2 1.2 .1 1.3 .1 1.2 .1 1.3 .1 1.2 .1 1.3 .2 1.2 .1 1.3 .1 1.2 .2 1.3 .1 1.2 .1 1.3 .2 1.2 0 1.3 .2 1.2 .2 1.3-.1 1.2 .2 1.3 .3 1.2 0 1.3 0 1.2-.3 1.3 .1 1.2 .5 1.3-.2 1.2-.3 1.3 .4 1.2-.1 1.3-.4 1.2 .1 1.3 .1 1.2 .1 1.3 0 1.2-.5 1.3-.1 1.2 .4 1.3-.3 1.2-.3 1.3 .4 1.2-.2 1.3-.3 1.2-.2 1.3-.2 1.2 .3 1.3 .1 1.2-.5 1.3-.2 1.2 .2 1.3-.5 1.2-.3 1.3 0 1.2-.2 1.3-.3 1.2-.5 1.3-.5 1.2-.3 1.3-.4 1.2-.9 1.3-1 1.2-1.1 1.3-1.8 1.2-3 1.3-5.4 1.2-6.9 1.3-8.6 1.2-7.7 1.3-7.4 1.2-6.3 1.3-5.1 1.2-3.1 1.3-.8 1.2 2.7 1.3 5.6 1.2 7.5 1.3 8.2 1.2 6.8 1.3 5.2 1.2 3.4 1.3 2.3 1.2 2.2 1.3 1.7 1.2 .8 1.3 1.3 1.2 1.5 1.3 1.2 1.2 1 1.3 .1 1.2 .2 1.3 1.3 1.2 .3 1.3-.3 1.2 .9 1.3 0 1.2-1.4 1.3-1 1.2-.9 1.3-.6 1.2-.5 1.3-1.7 1.2-1.5 1.3-.7 1.2-1.9 1.3-2.4 1.2-1.1 1.3-.9 1.2-1.2 1.3-1 1.2-.8 1.3-.2 1.2 0 1.3-.5 1.2 0 1.3 .6 1.2-.1 1.3 0 1.2 .4 1.3 .7 1.2 .9 1.3 1 1.2 .8 1.3 1.3 1.2 1.3 1.3 .7 1.2 1.1 1.3 1.6 1.2 1.1 1.3 1 1.2 1.2 1.3 1.1 1.2 1.4 1.3 1.1 1.2 .6 1.3 1 1.2 1.1 1.3 0 1.2 .6 1.3 1.2 1.2 .6 1.3 .5 1.2 .2 1.3 .1 1.2 .9 1.3 .4 1.2-.3 1.3 .9 1.2 .8 1.3-.5 1.2-.1 1.3 .5 1.2 .4 1.3 .7 1.2-.1 1.3-.2 1.2 .8 1.3-.1 1.2-.8 1.3 .5 1.2 .5 1.3-.7 1.2-.5 1.3-.6 1.2-.3 1.3 .2 1.2-.9 1.3-.9 1.2 .1 1.3-.9 1.2-1.5 1.3-.7 1.2-.9 1.3-1.2 1.2-1.5 1.3-1.9 1.2-2.1 1.3-2.2 1.2-3.1 1.3-4 1.2-4.2 1.3-4.3 1.2-4.3 1.3-4.1 1.2-3.4 1.3-2.5 1.2-1.9 1.3-1.1 1.2-.6 1.3 .6 1.2 1.1 1.3 .2 1.2 0 1.3-.5 1.2-1.2 1.3-.7 1.2-.5 1.3-.3 1.2 .2 1.3 1.2 1.2 1.5 1.3 1.7 1.2 1.8 1.3 1.8 1.2 1.6 1.3 1.3 1.2 1.4 1.3 1 1.2 .5 1.3-.2 1.2-.5 1.3-.6 1.2-.9 1.3-1.4 1.2-1.9 1.3-3.1 1.2-3.2 1.3-3.6 1.2-3.6 1.3-2.9 1.2-2.4 1.3-1.3 1.2-.8 1.3 0 1.2 1.3 1.3 1.8 1.2 2.7 1.3 2.5 1.2 2.2 1.3 1.5 1.2 1.1 1.3 .3 1.2-.1 1.3-.1 1.2-.2 1.3-.2 1.2-.3 1.3-.5 1.2-.5 1.3-.8 1.2-.8 1.3-.8 1.2-.8 1.3-.8 1.2-.1 1.3 1.3 1.2 2.3 1.3 3.7 1.2 3.7 1.3 2.9 1.2 2.4 1.3 1.7 1.2 1.5 1.3 .7 1.2-.2 1.3-.5 1.2-.8 1.3-.9 1.2-.7 1.3-.7 1.2-.7 1.3-.7 1.2-.7 1.3-.7 1.2-.7 1.3-.7 1.2-.8 1.3-.9 1.2-.9 1.3-.8 1.2-.7 1.3-.5 1.2-.6 1.3-.4 1.2-.3 1.3 .1 1.2 .6 1.3 .9 1.2 1 1.3 1.5 1.2 1.5 1.3 1.1 1.2 1.1 1.3 .7 1.2 .1 1.3-1.5 1.2-2.1 1.3-2.4 1.2-3 1.3-2.9 1.2-2 1.3-1.7 1.2-1.5 1.3-1.4 1.2-1.2 1.3-1.9 1.2-3.5 1.3-4.7 1.2-6.1 1.3-7.7 1.2-9.7 1.3-9.1 1.2-7.3 1.3-4.1 1.2-2.1 1.3-.7 1.2 .3 1.3 1.7 1.2 2.4 1.3 3.4 1.2 3.7 1.3 4.2 1.2 3.6 1.3 3.5 1.2 2.1 1.3-.7 1.2-2.4 1.3-3.5 1.2-4.7 1.3-4.5 1.2-3.9 1.3-2.6 1.2-2 1.3-1.5 1.2-1.2 1.3-1.1 1.2-.7 1.3-.1 1.2 .4 1.3 .7 1.2 1.1 1.3 2.1 1.2 1.6 1.3 1.1 1.2 .8 1.3 0 1.2-.9 1.3-1.2 1.2-1.6 1.3-1.9 1.2-1.5 1.3-1.1 1.2-1 1.3-1.3 1.2-1.8 1.3-1.7 1.2-1.1 1.3-.8 1.2-.6 1.3 0 1.2 .6 1.3 .9 1.2 1 1.3 1.4 1.2 1.1 1.3 .5 1.2 .2 1.3 .2 1.2 .4 1.3 .6 1.2 .8 1.3 1.7 1.2 2.1 1.3 2.4 1.2 2.7 1.3 2.7 1.2 2.5 1.3 2.4 1.2 2.2 1.3 2 1.2 1.7 1.3 1.4 1.2 1.1 1.3 1.1 1.2 1 1.3 .8 1.2 1.1 1.3 2.3 1.2 4 1.3 4.6 1.2 5.8 1.3 5.6 1.2 4.5 1.3 4.1 1.2 3.9 1.3 3.9 1.2 3.9 1.3 4.3 1.2 4.6 1.3 4.6 1.2 4.4 1.3 4 1.2 3.4 1.3 3.1 1.2 2.7 1.3 2.7 1.2 2.5 1.3 2.5 1.2 2.2 1.3 1.9 1.2 1.9 1.3 1.6 1.2 1.4 1.3 1.3 1.2 1.3 1.3 1.1 1.2 .5 1.3-.1 1.2-.4 1.3-.7 1.2-1.8 1.3-1.7 1.2-1.2 1.3-.8 1.2 .4 1.3 2.2 1.2 2.6 1.3 3.2 1.2 3 1.3 1.9 1.2 1.7 1.3 1.3 1.2 1.2 1.3 1 1.2 .9 1.3 .8 1.2 .7 1.3 .7 1.2 .6 1.3 .5 1.2 .5 1.3 .3 1.2 .3 1.3 .3 1.2 .2 1.3 .2 1.2 .1 1.3 0 1.2-.1 1.3-.1 1.2-.2 1.3-.2 1.2-.2 1.3-.3 1.2-.3 1.3-.2 1.2-.3 1.3-.3 1.2-.3 1.3-.3 1.2-.4 1.3-.3 1.2-.3 1.3-.3 1.2-.3 1.3-.3 1.2-.2 1.3-.3 1.2-.3 1.3-.2 1.2-.4 1.3-.3 1.2-.3 1.3-.3 1.2-.3 1.3-.5 1.2-.5 1.3-.6 1.2-.8 1.3-1 1.2-1.1 1.3-1.2 1.2-1.3 1.3-1.6 1.2-1.6 1.3-1.9 1.2-2 1.3-2 1.2-1.8 1.3-1.5 1.2-1.5 1.3-1.4 1.2-1.2 1.3-.7 1.2-.4 1.3-.3 1.2-.3 1.3-.3 1.2-.1 1.3-.2 1.2-.1 1.3-.1 1.2 0 1.3-.1 1.2-.1 1.3-.1 1.2-.1 1.3-.4 1.2-.8 1.3-1.3 1.2-1.4 1.3-2.4 1.2-2.6 1.3-1.7 1.2-1.4 1.3-1 1.2-.2 1.3 .5 1.2 .8 1.3 1.1 1.2 1.6 1.3 1.3 1.2 1 1.3 .7 1.2 0 1.3-.6 1.2-1 1.3-1.1 1.2-1.6 1.3-1.9 1.2-1.8 1.3-1.5 1.2-1.5 1.3-1.3 1.2-.9 1.3-.7 1.2-.5 1.3-.2 1.2 .2 1.3 .4 1.2 .4 1.3 .4 1.2 .4 1.3 .5 1.2 .6 1.3 .5 1.2 .4 1.3 .3 1.2 .2 1.3 .2 1.2 .1 1.3 .2 1.2 .1 1.3 .1 1.2 0 1.3 0 1.2-.1 1.3 0 1.2-.1 1.3-.1 1.2 .2 1.3 1.2 1.2 1.6 1.3 1.6 1.2 2.3 1.3 2.2 1.2 1.2 1.3 .2 1.2 .1 1.3 .1 1.2 0 1.3-.1 1.2-.1 1.3-.1 1.2-.1 1.3 .3 1.2 .5 1.3 .7 1.2 .6 1.3 .5 1.2 .6 1.3 .5 1.2 .6 1.3 .6 .1 0"/>
<path id="c1" class="c" d="M128.5 2733l.8 0 .7 0 .8 0 .7 0 .8 0 .7 0 .8 0 .7 0 .8 0 .7 0 .8 0 .7 0 .8 0 .7 0 .8 0 .7 0 .8 0 .7 0 .8 0 .7 0 .8 0 .7 0 .8 0 .7 0 .8 0 .7 0 .8 0 .7 0 .8 0 .7 0 .8 0 .7 .2 .8 .1 .7 .1 .8 .1 .7 .2 .8 .1 .7 .1 .8 .2 .7 .1 .8 .1 .7 0 .8-.4 .7-.3 .8-.4 .7-.4 .8-.4 .7-.3 .8-.4 .7-.1 .8 .5 .7 .6 .8 .6 .7 .6 .8 .5 .7-.9 .8-.8 .7-.8 .8-.8 .7-.8 .8-.2 .7 .2 .8 .2 .7 .1 .8 .2 .7 .1 .8 .2 .7 .8 .8 .7 .7 .8 .8 .8 .7 .7 .8 0 .7-.2 .8-.2 .7-.3 .8-.2 .7-.3 .8-.2 .7-.3 .8-.3 .7-.2 .8-.3 .7-.3 .8-.3 .7 .2 .8 .6 .7 .6 .8 .6 .7-.1 .8-.9 .7-.8 .8-.9 .7-.2 .8 .3 .7 .3 .8 .4 .7 .3 .8 .3 .7 .3 .8 .3 .7 .3 .8 .4 .7 .3 .8 .3 .7 .3 .8-.1 .7-.7 .8-.7 .7-.8 .8-.3 .7 .6 .8 .6 .7 .5 .8 .6 .7 .6 .8-.9 .7-.8 .8-.9 .7-.8 .8 .4 .7 .5 .8 .4 .7 .4 .8 .5 .7 .4 .8 0 .7-.4 .8-.4 .7-.4 .8-.4 .7-.4 .8-.5 .7 .8 .8 1 .7 1 .8 1 .7 1 .8 .1 .7-.9 .8-.9 .7-.9 .8-.9 .7-.9 .8-.9 .7-.3 .8-.2 .7-.3 .8-.2 .7-.2 .8 .2 .7 .5 .8 .4 .7 .4 .8 .5 .7 .2 .8-.2 .7-.3 .8-.3 .7-.2 .8-.3 .7-.7 .8-1 .7-1.1 .8-1 .7-.8 .8 .6 .7 .7 .8 .6 .7 .6 .8 .6 .7 .6 .8 .4 .7 .4 .8 .4 .7 .4 .8 .3 .7 .4 .8 .3 .7 .1 .8 .2 .7 .2 .8 .2 .7 .1 .8 .1 .7-1 .8-1.1 .7-1 .8-1.1 .7-1 .8-.1 .7 .4 .8 .3 .7 .4 .8 .3 .7 .3 .8 .3 .7 .3 .8-.4 .7-.7 .8-.7 .7-.7 .8-.7 .7-.8 .8-.7 .7-.7 .8 .3 .7 .4 .8 .4 .7 .5 .8-.9 .7-1 .8-1 .7-1.1 .8-.1 .7-.1 .8-.1 .7-.2 .8-.2 .7-.2 .8 0 .7 1.2 .8 1.2 .7 1.1 .8 1.1 .7 1.1 .8-2.9 .7-3 .8-3 .7-3 .8-3 .7-1 .8-.1 .7-.2 .8-.1 .7 .7 .8 1.2 .7 1 .8 1 .7-.2 .8-.8 .7-.8 .8-.7 .7-1.5 .8-1.8 .7-1.7 .8-1.7 .7-1.5 .8-1.6 .7-1.3 .8 0 .7 0 .8 0 .7 0 .8 .1 .7 0 .8-.8 .7-1.8 .8-1.8 .7-.6 .8-.2 .7-.3 .8-.3 .7-.4 .8-.8 .7-1.3 .8-1.3 .7-1.4 .8-1.5 .7-1.4 .8-1.5 .7-.7 .8-.5 .7-.5 .8-.5 .7-.5 .8-.5 .7-.5 .8-.5 .7-.5 .8-1.1 .7-1.4 .8-1.3 .7-1.4 .8-1.3 .7-1.2 .8-1.3 .7-1.2 .8-.8 .7-.6 .8-.5 .7-.5 .8-.5 .7-.5 .8-.4 .7-.5 .8-1 .7-1 .8-1 .7-1 .8-.9 .7-1 .8-.9 .7-1 .8-.4 .7-.4 .8-.4 .7-.4 .8-.4 .7-.4 .8-.4 .7-.4 .8-.4 .7-.6 .5-.6 1.2-1.4 1.3-1.3 1.2-1.4 1.3-1.4 1.2-1.2 1.3-.7 1.2-.7 1.3-.7 1.2-.6 1.3-.7 1.2-.9 1.3-1.2 1.2-1.1 1.3-1.2 1.2-1.1 1.3-1 1.2-1 1.3-.6 1.2-.6 1.3-.5 1.2-.5 1.3-.6 1.2-.5 1.3-.8 1.2-.9 1.3-.8 1.2-.8 1.3-.8 1.2-.8 1.3-.7 1.2-.4 1.3-.3 1.2-.2 1.3-.2 1.2-.2 1.3-.1 1.2-.1 1.3-.3 1.2-.3 1.3-.4 1.2-.3 1.3-.3 1.2-.2 1.3-.3 1.2-.2 1.3-.1 1.2 .1 1.3 .1 1.2 .2 1.3 .1 1.2 .2 1.3 .2 1.2 .2 1.3 .2 1.2 .1 1.3 .1 1.2 .1 1.3 .1 1.2 .1 1.3 .1 1.2 .1 1.3 .2 1.2 .1 1.3 .2 1.2 .3 1.3 .3 1.2 .2 1.3 .3 1.2 .3 1.3 .4 1.2 .3 1.3 .3 1.2 .4 1.3 .4 1.2 .4 1.3 .3 1.2 .4 1.3 .4 1.2 .5 1.3 .4 1.2 .5 1.3 .4 1.2 .5 1.3 .5 1.2 .5 1.3 .4 1.2 .5 1.3 .5 1.2 .6 1.3 .5 1.2 .6 1.3 .4 1.2 .5 1.3 .3 1.2 .3 1.3 .3 1.2 .3 1.3 .3 1.2 .4 1.3 .4 1.2 .4 1.3 .6 1.2 .5 1.3 .6 1.2 .7 1.3 .6 1.2 .8 1.3 .7 1.2 .8 1.3 .9 1.2 .8 1.3 .9 1.2 .8 1.3 .9 1.2 .8 1.3 .8 1.2 .9 1.3 .8 1.2 .9 1.3 .9 1.2 .8 1.3 .9 1.2 .9 1.3 .8 1.2 .9 1.3 .9 1.2 .9 1.3 .9 1.2 .8 1.3 .9 1.2 .9 1.3 .9 1.2 .8 1.3 .9 1.2 .9 1.3 .8 1.2 .9 1.3 .8 1.2 .9 1.3 .8 1.2 .9 1.3 .8 1.2 .9 1.3 .8 1.2 .9 1.3 .8 1.2 .9 1.3 .8 1.2 .9 1.3 .8 1.2 .9 1.3 .8 1.2 .9 1.3 .8 1.2 .8 1.3 .9 1.2 .8 1.3 .8 1.2 .8 1.3 .8 1.2 .8 1.3 .8 1.2 .7 1.3 .8 1.2 .7 1.3 .7 1.2 .7 1.3 .8 1.2 .7 1.3 .7 1.2 .7 1.3 .6 1.2 .7 1.3 .7 1.2 .7 1.3 .6 1.2 .6 1.3 .7 1.2 .6 1.3 .6 1.2 .6 1.3 .6 1.2 .6 1.3 .5 1.2 .6 1.3 .5 1.2 .6 1.3 .5 1.2 .5 1.3 .5 1.2 .4 1.3 .4 1.2 .4 1.3 .3 1.2 .3 1.3 .3 1.2 .3 1.3 .2 1.2 .3 1.3 .1 1.2 .2 1.3 .1 1.2 .2 1.3 .1 1.2 0 1.3 0 1.2 0 1.3 0 1.2 0 1.3-.1 1.2 0 1.3-.1 1.2-.3 1.3-.3 1.2-.4 1.3-.5 1.2-.6 1.3-.7 1.2-.9 1.3-1.1 1.2-1.3 1.3-1.8 1.2-2.7 1.3-2.8 1.2-2.5 1.3-2.2 1.2-2.1 1.3-2 1.2-2 1.3-2 1.2-2.2 1.3-2.2 1.2-2 1.3-1.6 1.2-1 1.3-1 1.2-1.6 1.3-3.6 1.2-4.9 1.3-6.4 1.2-6.3 1.3-5.5 1.2-3.6 1.3-2 1.2 .8 1.3 1.9 1.2 2.9 1.3 3.3 1.2 3.5 1.3 3.5 1.2 3 1.3 2.8 1.2 3 1.3 3.5 1.2 2.5 1.3 1.5 1.2 1.2 1.3 .9 1.2 .7 1.3 .7 1.2 .6 1.3 .3 1.2-.1 1.3-.3 1.2-.4 1.3-.6 1.2-1 1.3-1.7 1.2-3.1 1.3-2.1 1.2-.6 1.3 1.8 1.2 2.9 1.3 4.2 1.2 5.1 1.3 5.4 1.2 4.8 1.3 4.2 1.2 3.2 1.3 2.5 1.2 1.8 1.3 1.5 1.2 1.4 1.3 1.2 1.2 1.2 1.3 .9 1.2 .8 1.3 .7 1.2 .6 1.3 .6 1.2 .5 1.3 .5 1.2 .5 1.3 .4 1.2 .4 1.3 .4 1.2 .4 1.3 .3 1.2 .3 1.3 .3 1.2 .2 1.3 .2 1.2 .2 1.3 .2 1.2 .1 1.3 .2 1.2 .2 1.3 .1 1.2 .1 1.3 .2 1.2 .1 1.3 .1 1.2 .1 1.3 .1 1.2 .1 1.3 .1 1.2 .1 1.3 .1 1.2 .1 1.3 .1 1.2 .1 1.3 .1 1.2 .1 1.3 .2 1.2 .1 1.3 .2 1.2 .1 1.3 .2 1.2 .1 1.3 .2 1.2 .2 1.3 .2 1.2 .1 1.3 .2 1.2 .2 1.3 .2 1.2 .2 1.3 .2 1.2 .2 1.3 .1 1.2 .2 1.3 .2 1.2 .2 1.3 .2 1.2 .1 1.3 .2 1.2 .1 1.3 .2 1.2 .1 1.3 .2 1.2 .1 1.3 .2 1.2 .1 1.3 .2 1.2 .2 1.3 .1 1.2 .2 1.3 .1 1.2 .2 1.3 .1 1.2 .2 1.3 .1 1.2 .2 1.3 .1 1.2 .1 1.3 .2 1.2 .1 1.3 .1 1.2 .1 1.3 .1 1.2 .1 1.3 .1 1.2 0 1.3 .1 1.2 0 1.3 .1 1.2 0 1.3 .1 1.2 0 1.3 0 1.2 .1 1.3 0 1.2 0 1.3 .1 1.2 0 1.3 0 1.2 0 1.3 .1 1.2 0 1.3 0 1.2 0 1.3 0 1.2 .1 1.3 0 1.2 0 1.3 0 1.2 0 1.3 .1 1.2 0 1.3 0 1.2 0 1.3 0 1.2 0 1.3 0 1.2 0 1.3 0 1.2 .1 1.3 0 1.2 0 1.3 0 1.2 0 1.3 0 1.2 0 1.3 .1 1.2 0 1.3 0 1.2 .1 1.3 0 1.2 .1 1.3 .1 1.2 .1 1.3 .1 1.2 .1 1.3 .1 1.2 .1 1.3 .1 1.2 .2 1.3 .1 1.2 .1 1.3 .2 1.2 .1 1.3 .1 1.2 .2 1.3 .1 1.2 .1 1.3 .1 1.2 .2 1.3 .1 1.2 .1 1.3 .1 1.2 0 1.3 .1 1.2 .1 1.3 .1 1.2 0 1.3 .1 1.2 .1 1.3 .1 1.2 0 1.3 .1 1.2 .1 1.3 0 1.2 0 1.3 .1 1.2 0 1.3 0 1.2 0 1.3-.2 1.2-.1 1.3-.4 1.2-1.4 1.3-2 1.2-1.4 1.3-1.3 1.2-1 1.3-.3 1.2 .8 1.3 1.7 1.2 2.2 1.3 3 1.2 1.9 1.3 .7 1.2-.3 1.3-.6 1.2-1 1.3-1.6 1.2-.7 1.3-.3 1.2 .2 1.3 .9 1.2 1 1.3 .7 1.2 .7 1.3 .6 1.2 .5 1.3 .2 1.2 0 1.3 0 1.2 0 1.3-.1 1.2 0 1.3-.1 1.2-.1 1.3-.1 1.2 0 1.3-.1 1.2-.1 1.3-.1 1.2-.1 1.3 0 1.2-.1 1.3-.1 1.2-.1 1.3 0 1.2-.1 1.3-.1 1.2-.1 1.3-.1 1.2-.1 1.3 0 1.2-.1 1.3-.1 1.2-.1 1.3-.1 1.2 0 1.3-.1 1.2-.1 1.3-.1 1.2 0 1.3-.1 1.2-.1 1.3 0 1.2-.1 1.3 0 1.2-.1 1.3-.1 1.2 0 1.3-.1 1.2-.1 1.3 0 1.2-.1 1.3 0 1.2-.1 1.3-.1 1.2 0 1.3-.1 1.2 0 1.3-.1 1.2-.1 1.3 0 1.2-.1 1.3 0 1.2-.1 1.3 0 1.2-.1 1.3 0 1.2-.1 1.3 0 1.2 0 1.3-.1 1.2 0 1.3 0 1.2-.1 1.3 0 1.2 0 1.3-.1 1.2 0 1.3 0 1.2 0 1.3 0 1.2 0 1.3 0 1.2 0 1.3 0 1.2 0 1.3 0 1.2 0 1.3 0 1.2 0 1.3 .1 1.2 0 1.3 0 1.2 0 1.3 0 1.2 0 1.3 0 1.2 0 1.3 0 1.2 .1 1.3 0 1.2 0 1.3 0 1.2 0 1.3 0 1.2 .1 1.3 0 1.2 0 1.3 0 1.2 0 1.3 .1 1.2 0 1.3 0 1.2 0 1.3 .1 1.2 0 1.3 0 1.2 0 1.3 .1 1.2 0 1.3 .1 1.2 0 1.3 .1 1.2 .1 1.3 .1 1.2 .1 1.3 .1 1.2 .1 1.3 .1 1.2 .1 1.3 .2 1.2 .1 1.3 .1 1.2 .2 1.3 .1 1.2 .1 1.3 .2 1.2 .1 1.3 .1 1.2 .2 1.3 .1 1.2 .1 1.3 .2 1.2 .1 1.3 .1 1.2 .1 1.3 .2 1.2 .1 1.3 .1 1.2 .1 1.3 .2 1.2 .1 1.3 .1 1.2 .1 1.3 .2 1.2 .1 1.3 .1 1.2 .2 1.3 .1 1.2 .1 1.3 .2 1.2 .1 1.3 .1 1.2 .1 1.3 .2 1.2 .1 1.3 .1 1.2 .1 1.3 .1 1.2 .1 1.3 .2 1.2 .1 1.3 .1 1.2 .1 1.3 .1 1.2 .2 1.3 .1 1.2 .1 1.3 .1 1.2 .2 1.3 .1 1.2 0 1.3 .3 1.2 .1 1.3-.1 1.2 .2 1.3 .3 1.2 0 1.3 0 1.2-.3 1.3 .1 1.2 .5 1.3-.2 1.2-.3 1.3 .4 1.2-.1 1.3-.4 1.2 .1 1.3 .1 1.2 .1 1.3 0 1.2-.5 1.3-.1 1.2 .4 1.3-.3 1.2-.2 1.3 .3 1.2-.1 1.3-.3 1.2-.2 1.3-.1 1.2 .2 1.3 .1 1.2-.5 1.3-.1 1.2 .1 1.3-.4 1.2-.3 1.3 .1 1.2-.2 1.3-.3 1.2-.4 1.3-.5 1.2-.2 1.3-.4 1.2-.8 1.3-.9 1.2-1 1.3-1.6 1.2-2.7 1.3-4.8 1.2-6.1 1.3-7.6 1.2-6.9 1.3-6.5 1.2-5.6 1.3-4.5 1.2-2.8 1.3-.8 1.2 2.4 1.3 4.9 1.2 6.5 1.3 7 1.2 5.9 1.3 4.5 1.2 2.9 1.3 2 1.2 1.9 1.3 1.5 1.2 .6 1.3 1.1 1.2 1.4 1.3 1 1.2 .9 1.3 0 1.2 .2 1.3 1.3 1.2 .1 1.3-.3 1.2 .9 1.3 0 1.2-1.3 1.3-.9 1.2-.9 1.3-.5 1.2-.4 1.3-1.7 1.2-1.4 1.3-.6 1.2-1.8 1.3-2.2 1.2-1 1.3-.8 1.2-1.2 1.3-.9 1.2-.8 1.3-.2 1.2 .1 1.3-.5 1.2 0 1.3 .5 1.2 0 1.3-.1 1.2 .4 1.3 .6 1.2 .8 1.3 .9 1.2 .6 1.3 1.1 1.2 1.1 1.3 .6 1.2 .9 1.3 1.4 1.2 .9 1.3 .9 1.2 1 1.3 .9 1.2 1.2 1.3 1 1.2 .4 1.3 1 1.2 .9 1.3 0 1.2 .4 1.3 1.1 1.2 .5 1.3 .5 1.2 .1 1.3 0 1.2 .9 1.3 .4 1.2-.4 1.3 .8 1.2 .8 1.3-.6 1.2-.1 1.3 .5 1.2 .3 1.3 .7 1.2-.1 1.3-.3 1.2 .8 1.3-.1 1.2-.8 1.3 .6 1.2 .4 1.3-.6 1.2-.4 1.3-.6 1.2-.2 1.3 .2 1.2-.7 1.3-.8 1.2 .2 1.3-.8 1.2-1.4 1.3-.5 1.2-.7 1.3-1 1.2-1.2 1.3-1.6 1.2-1.7 1.3-1.8 1.2-2.6 1.3-3.3 1.2-3.4 1.3-3.5 1.2-3.6 1.3-3.4 1.2-2.8 1.3-2 1.2-1.6 1.3-.9 1.2-.5 1.3 .4 1.2 .6 1.3 .2 1.2 0 1.3-.3 1.2-.8 1.3-.4 1.2-.3 1.3-.2 1.2 .1 1.3 .8 1.2 .9 1.3 1.1 1.2 1.1 1.3 1.1 1.2 1 1.3 .8 1.2 .8 1.3 .7 1.2 .3 1.3-.2 1.2-.4 1.3-.5 1.2-.8 1.3-1.1 1.2-1.7 1.3-2.6 1.2-2.8 1.3-3.1 1.2-3 1.3-2.5 1.2-2 1.3-1.1 1.2-.8 1.3 0 1.2 1.1 1.3 1.5 1.2 2.2 1.3 2 1.2 1.8 1.3 1.3 1.2 .9 1.3 .2 1.2-.1 1.3-.1 1.2-.1 1.3-.2 1.2-.3 1.3-.3 1.2-.5 1.3-.6 1.2-.7 1.3-.6 1.2-.7 1.3-.6 1.2-.1 1.3 1.1 1.2 1.8 1.3 3.1 1.2 3 1.3 2.4 1.2 1.9 1.3 1.4 1.2 1.2 1.3 .6 1.2-.2 1.3-.4 1.2-.6 1.3-.7 1.2-.6 1.3-.5 1.2-.6 1.3-.5 1.2-.6 1.3-.6 1.2-.5 1.3-.6 1.2-.7 1.3-.7 1.2-.6 1.3-.7 1.2-.5 1.3-.5 1.2-.4 1.3-.4 1.2-.2 1.3 .1 1.2 .6 1.3 .7 1.2 .9 1.3 1.4 1.2 1.4 1.3 1 1.2 .9 1.3 .7 1.2 .1 1.3-1.2 1.2-1.8 1.3-1.9 1.2-2.5 1.3-2.4 1.2-1.7 1.3-1.4 1.2-1.3 1.3-1.1 1.2-1 1.3-1.6 1.2-2.9 1.3-3.9 1.2-5 1.3-6.4 1.2-8 1.3-7.6 1.2-6 1.3-3.4 1.2-1.7 1.3-.6 1.2 .2 1.3 1.5 1.2 2.1 1.3 3 1.2 3.2 1.3 3.7 1.2 3.1 1.3 3 1.2 1.9 1.3-.7 1.2-2.3 1.3-3.4 1.2-4.6 1.3-4.4 1.2-3.8 1.3-2.5 1.2-2 1.3-1.5 1.2-1.2 1.3-1 1.2-.7 1.3-.1 1.2 .5 1.3 .8 1.2 1.3 1.3 2.4 1.2 1.8 1.3 1.3 1.2 1 1.3 0 1.2-.8 1.3-1.1 1.2-1.3 1.3-1.7 1.2-1.3 1.3-1 1.2-.9 1.3-1.1 1.2-1.6 1.3-1.5 1.2-.9 1.3-.8 1.2-.5 1.3 0 1.2 .4 1.3 .8 1.2 .7 1.3 1.1 1.2 .8 1.3 .4 1.2 .2 1.3 .2 1.2 .3 1.3 .4 1.2 .6 1.3 1.3 1.2 1.7 1.3 1.8 1.2 2.1 1.3 2.1 1.2 1.9 1.3 1.9 1.2 1.7 1.3 1.5 1.2 1.3 1.3 1.1 1.2 .9 1.3 .8 1.2 .8 1.3 .6 1.2 .9 1.3 1.9 1.2 3.5 1.3 4 1.2 5 1.3 4.8 1.2 3.9 1.3 3.6 1.2 3.4 1.3 3.3 1.2 3.4 1.3 3.8 1.2 3.9 1.3 3.9 1.2 3.9 1.3 3.4 1.2 3 1.3 2.6 1.2 2.4 1.3 2.3 1.2 2.2 1.3 2.2 1.2 1.9 1.3 1.7 1.2 1.5 1.3 1.5 1.2 1.2 1.3 1.1 1.2 1.1 1.3 .9 1.2 .5 1.3-.1 1.2-.5 1.3-.8 1.2-2.1 1.3-2.1 1.2-1.3 1.3-1 1.2 .4 1.3 2 1.2 2.4 1.3 3.1 1.2 2.7 1.3 1.8 1.2 1.6 1.3 1.3 1.2 1.1 1.3 .9 1.2 .9 1.3 .7 1.2 .7 1.3 .6 1.2 .5 1.3 .5 1.2 .4 1.3 .4 1.2 .2 1.3 .3 1.2 .2 1.3 .2 1.2 .1 1.3 0 1.2-.1 1.3-.1 1.2-.1 1.3-.2 1.2-.2 1.3-.2 1.2-.2 1.3-.2 1.2-.2 1.3-.3 1.2-.2 1.3-.3 1.2-.3 1.3-.2 1.2-.3 1.3-.2 1.2-.3 1.3-.2 1.2-.2 1.3-.2 1.2-.2 1.3-.3 1.2-.2 1.3-.3 1.2-.2 1.3-.3 1.2-.3 1.3-.3 1.2-.4 1.3-.6 1.2-.6 1.3-.8 1.2-.9 1.3-.9 1.2-1.2 1.3-1.2 1.2-1.4 1.3-1.5 1.2-1.6 1.3-1.7 1.2-1.4 1.3-1.2 1.2-1.3 1.3-1.1 1.2-1 1.3-.5 1.2-.4 1.3-.3 1.2-.3 1.3-.2 1.2-.1 1.3-.2 1.2-.1 1.3 0 1.2-.1 1.3 0 1.2-.1 1.3-.1 1.2-.1 1.3-.3 1.2-.8 1.3-1.1 1.2-1.3 1.3-2.1 1.2-2.3 1.3-1.6 1.2-1.2 1.3-.9 1.2-.2 1.3 .4 1.2 .6 1.3 .9 1.2 1.3 1.3 1 1.2 .8 1.3 .5 1.2 0 1.3-.5 1.2-.9 1.3-1 1.2-1.3 1.3-1.7 1.2-1.5 1.3-1.4 1.2-1.3 1.3-1.1 1.2-.8 1.3-.6 1.2-.5 1.3-.1 1.2 .2 1.3 .3 1.2 .4 1.3 .3 1.2 .4 1.3 .5 1.2 .5 1.3 .4 1.2 .4 1.3 .3 1.2 .2 1.3 .1 1.2 .1 1.3 .1 1.2 .1 1.3 0 1.2 .1 1.3-.1 1.2-.1 1.3-.1 1.2-.1 1.3-.1 1.2 .2 1.3 .9 1.2 1.3 1.3 1.3 1.2 1.8 1.3 1.7 1.2 .9 1.3 .2 1.2 .1 1.3 .1 1.2 0 1.3-.1 1.2-.1 1.3-.1 1.2-.1 1.3 .2 1.2 .5 1.3 .5 1.2 .5 1.3 .4 1.2 .4 1.3 .5 1.2 .4 1.3 .5 .1 0"/>
<path id="c2" class="c" d="M128.5 2920.6l.8 0 .7 0 .8 0 .7 0 .8 0 .7 0 .8 0 .7 0 .8 0 .7 0 .8 0 .7 0 .8 0 .7 0 .8 0 .7 0 .8 0 .7 0 .8 0 .7 0 .8 0 .7 0 .8 0 .7 0 .8 0 .7 0 .8 0 .7 0 .8 0 .7 0 .8 0 .7 .2 .8 .1 .7 .1 .8 .1 .7 .2 .8 .1 .7 .1 .8 .2 .7 .1 .8 .1 .7 0 .8-.4 .7-.3 .8-.4 .7-.4 .8-.4 .7-.3 .8-.4 .7-.1 .8 .5 .7 .6 .8 .6 .7 .6 .8 .5 .7-.9 .8-.8 .7-.8 .8-.8 .7-.8 .8-.1 .7 .1 .8 .2 .7 .1 .8 .2 .7 .1 .8 .2 .7 .8 .8 .8 .7 .7 .8 .8 .7 .7 .8 .1 .7-.3 .8-.2 .7-.3 .8-.2 .7-.3 .8-.2 .7-.2 .8-.3 .7-.3 .8-.3 .7-.3 .8-.3 .7 .2 .8 .6 .7 .6 .8 .7 .7-.2 .8-.8 .7-.9 .8-.8 .7-.2 .8 .3 .7 .3 .8 .3 .7 .3 .8 .3 .7 .4 .8 .3 .7 .3 .8 .3 .7 .3 .8 .3 .7 .3 .8 0 .7-.7 .8-.8 .7-.7 .8-.3 .7 .6 .8 .5 .7 .6 .8 .6 .7 .5 .8-.8 .7-.8 .8-.9 .7-.8 .8 .4 .7 .4 .8 .5 .7 .4 .8 .4 .7 .5 .8 0 .7-.4 .8-.4 .7-.4 .8-.4 .7-.5 .8-.4 .7 .7 .8 1.1 .7 1 .8 1 .7 1 .8 .1 .7-.9 .8-.9 .7-.9 .8-.9 .7-.9 .8-.9 .7-.4 .8-.2 .7-.2 .8-.2 .7-.2 .8 .2 .7 .4 .8 .5 .7 .4 .8 .4 .7 .3 .8-.3 .7-.2 .8-.3 .7-.3 .8-.2 .7-.8 .8-1 .7-1 .8-1 .7-.8 .8 .6 .7 .6 .8 .6 .7 .6 .8 .6 .7 .6 .8 .4 .7 .4 .8 .4 .7 .3 .8 .4 .7 .4 .8 .2 .7 .2 .8 .2 .7 .2 .8 .1 .7 .2 .8 .1 .7-1.1 .8-1 .7-1.1 .8-1.1 .7-1 .8-.1 .7 .4 .8 .3 .7 .3 .8 .3 .7 .3 .8 .3 .7 .3 .8-.4 .7-.8 .8-.7 .7-.7 .8-.8 .7-.7 .8-.8 .7-.7 .8 .2 .7 .4 .8 .4 .7 .4 .8-.8 .7-1.1 .8-1 .7-1.1 .8-.2 .7-.1 .8-.2 .7-.2 .8-.3 .7-.2 .8-.1 .7 1.2 .8 1.1 .7 1 .8 1.1 .7 1 .8-3 .7-3 .8-3.1 .7-3.1 .8-3.1 .7-1.1 .8-.2 .7-.2 .8-.2 .7 .6 .8 1 .7 .9 .8 .9 .7-.3 .8-.9 .7-.9 .8-.9 .7-1.6 .8-1.9 .7-1.8 .8-1.8 .7-1.6 .8-1.6 .7-1.4 .8-.1 .7-.1 .8 0 .7-.1 .8 0 .7 0 .8-.9 .7-1.9 .8-1.9 .7-.6 .8-.3 .7-.3 .8-.4 .7-.5 .8-.9 .7-1.4 .8-1.4 .7-1.5 .8-1.6 .7-1.6 .8-1.6 .7-.8 .8-.6 .7-.6 .8-.7 .7-.6 .8-.6 .7-.7 .8-.6 .7-.6 .8-1.1 .7-1.6 .8-1.5 .7-1.4 .8-1.4 .7-1.4 .8-1.3 .7-1.4 .8-.9 .7-.6 .8-.7 .7-.6 .8-.6 .7-.6 .8-.5 .7-.6 .8-1.1 .7-1.1 .8-1.1 .7-1 .8-1.1 .7-1.1 .8-1 .7-1.1 .8-.5 .7-.4 .8-.5 .7-.5 .8-.5 .7-.5 .8-.5 .7-.4 .8-.5 .7-.8 .5-.6 1.2-1.5 1.3-1.5 1.2-1.5 1.3-1.5 1.2-1.4 1.3-.8 1.2-.9 1.3-.8 1.2-.8 1.3-.8 1.2-1.1 1.3-1.3 1.2-1.2 1.3-1.3 1.2-1.2 1.3-1.2 1.2-1.1 1.3-.7 1.2-.7 1.3-.6 1.2-.6 1.3-.7 1.2-.6 1.3-.9 1.2-1 1.3-.9 1.2-.9 1.3-.9 1.2-.8 1.3-.8 1.2-.5 1.3-.4 1.2-.3 1.3-.2 1.2-.2 1.3-.1 1.2-.2 1.3-.3 1.2-.4 1.3-.3 1.2-.4 1.3-.3 1.2-.3 1.3-.3 1.2-.2 1.3-.1 1.2 .1 1.3 .1 1.2 .2 1.3 .1 1.2 .2 1.3 .2 1.2 .2 1.3 .2 1.2 .1 1.3 .1 1.2 .1 1.3 .1 1.2 .1 1.3 .1 1.2 .2 1.3 .1 1.2 .1 1.3 .2 1.2 .3 1.3 .3 1.2 .3 1.3 .3 1.2 .3 1.3 .3 1.2 .3 1.3 .4 1.2 .3 1.3 .4 1.2 .4 1.3 .4 1.2 .4 1.3 .4 1.2 .4 1.3 .5 1.2 .5 1.3 .4 1.2 .5 1.3 .5 1.2 .5 1.3 .5 1.2 .6 1.3 .6 1.2 .7 1.3 .6 1.2 .6 1.3 .6 1.2 .5 1.3 .4 1.2 .4 1.3 .3 1.2 .3 1.3 .4 1.2 .4 1.3 .5 1.2 .5 1.3 .6 1.2 .7 1.3 .7 1.2 .8 1.3 .7 1.2 .9 1.3 .9 1.2 .9 1.3 1 1.2 1 1.3 1 1.2 1 1.3 1 1.2 1 1.3 1 1.2 1 1.3 1 1.2 1 1.3 1 1.2 1 1.3 1 1.2 1.1 1.3 1 1.2 1 1.3 1 1.2 1.1 1.3 1 1.2 1 1.3 1.1 1.2 1 1.3 1 1.2 1 1.3 1.1 1.2 1 1.3 1 1.2 1 1.3 1 1.2 1 1.3 1 1.2 .9 1.3 1 1.2 1 1.3 .9 1.2 1 1.3 1 1.2 .9 1.3 1 1.2 1 1.3 .9 1.2 1 1.3 .9 1.2 1 1.3 .9 1.2 1 1.3 .9 1.2 .9 1.3 .9 1.2 .9 1.3 .9 1.2 .9 1.3 .9 1.2 .9 1.3 .8 1.2 .9 1.3 .8 1.2 .8 1.3 .8 1.2 .8 1.3 .8 1.2 .8 1.3 .8 1.2 .7 1.3 .8 1.2 .7 1.3 .8 1.2 .7 1.3 .7 1.2 .7 1.3 .7 1.2 .7 1.3 .6 1.2 .7 1.3 .6 1.2 .7 1.3 .6 1.2 .6 1.3 .6 1.2 .6 1.3 .5 1.2 .5 1.3 .4 1.2 .4 1.3 .4 1.2 .4 1.3 .3 1.2 .3 1.3 .3 1.2 .3 1.3 .1 1.2 .2 1.3 .2 1.2 .1 1.3 .1 1.2 .1 1.3 0 1.2 0 1.3 0 1.2 0 1.3-.1 1.2 0 1.3-.1 1.2-.3 1.3-.4 1.2-.5 1.3-.6 1.2-.6 1.3-.8 1.2-1.1 1.3-1.2 1.2-1.4 1.3-2.1 1.2-3 1.3-3.2 1.2-2.9 1.3-2.4 1.2-2.4 1.3-2.3 1.2-2.2 1.3-2.3 1.2-2.4 1.3-2.6 1.2-2.3 1.3-1.7 1.2-1.2 1.3-1.1 1.2-1.8 1.3-4.1 1.2-5.5 1.3-7.3 1.2-7.1 1.3-6.2 1.2-4.2 1.3-2.2 1.2 .9 1.3 2.1 1.2 3.3 1.3 3.7 1.2 3.9 1.3 3.9 1.2 3.3 1.3 3.2 1.2 3.4 1.3 3.9 1.2 2.8 1.3 1.7 1.2 1.3 1.3 1 1.2 .8 1.3 .8 1.2 .7 1.3 .3 1.2-.1 1.3-.3 1.2-.4 1.3-.6 1.2-1 1.3-1.7 1.2-3 1.3-2.1 1.2-.6 1.3 2 1.2 3.2 1.3 4.6 1.2 5.6 1.3 6 1.2 5.3 1.3 4.6 1.2 3.5 1.3 2.7 1.2 2.1 1.3 1.6 1.2 1.5 1.3 1.4 1.2 1.3 1.3 1 1.2 .8 1.3 .8 1.2 .7 1.3 .6 1.2 .6 1.3 .6 1.2 .5 1.3 .5 1.2 .5 1.3 .4 1.2 .4 1.3 .3 1.2 .4 1.3 .2 1.2 .3 1.3 .2 1.2 .2 1.3 .2 1.2 .2 1.3 .2 1.2 .1 1.3 .2 1.2 .1 1.3 .2 1.2 .1 1.3 .1 1.2 .1 1.3 .2 1.2 .1 1.3 .1 1.2 .1 1.3 .1 1.2 .1 1.3 .1 1.2 .1 1.3 .1 1.2 .2 1.3 .1 1.2 .2 1.3 .1 1.2 .2 1.3 .2 1.2 .1 1.3 .2 1.2 .2 1.3 .2 1.2 .2 1.3 .2 1.2 .2 1.3 .2 1.2 .2 1.3 .2 1.2 .2 1.3 .2 1.2 .2 1.3 .2 1.2 .2 1.3 .2 1.2 .2 1.3 .1 1.2 .2 1.3 .2 1.2 .1 1.3 .2 1.2 .1 1.3 .2 1.2 .2 1.3 .1 1.2 .2 1.3 .2 1.2 .2 1.3 .1 1.2 .2 1.3 .1 1.2 .2 1.3 .2 1.2 .1 1.3 .2 1.2 .1 1.3 .1 1.2 .2 1.3 .1 1.2 .1 1.3 .1 1.2 .1 1.3 .1 1.2 .1 1.3 0 1.2 .1 1.3 0 1.2 .1 1.3 0 1.2 .1 1.3 0 1.2 0 1.3 .1 1.2 0 1.3 0 1.2 .1 1.3 0 1.2 0 1.3 0 1.2 .1 1.3 0 1.2 0 1.3 0 1.2 .1 1.3 0 1.2 0 1.3 0 1.2 0 1.3 0 1.2 .1 1.3 0 1.2 0 1.3 0 1.2 0 1.3 0 1.2 0 1.3 0 1.2 .1 1.3 0 1.2 0 1.3 0 1.2 0 1.3 0 1.2 0 1.3 .1 1.2 0 1.3 0 1.2 .1 1.3 0 1.2 .1 1.3 .1 1.2 .1 1.3 .1 1.2 .1 1.3 .2 1.2 .1 1.3 .1 1.2 .2 1.3 .1 1.2 .2 1.3 .1 1.2 .1 1.3 .2 1.2 .1 1.3 .2 1.2 .1 1.3 .1 1.2 .2 1.3 .1 1.2 .1 1.3 .1 1.2 .1 1.3 0 1.2 .1 1.3 .1 1.2 .1 1.3 .1 1.2 .1 1.3 0 1.2 .1 1.3 .1 1.2 0 1.3 .1 1.2 0 1.3 .1 1.2 0 1.3 0 1.2 0 1.3-.1 1.2-.2 1.3-.4 1.2-1.4 1.3-1.9 1.2-1.5 1.3-1.2 1.2-1 1.3-.4 1.2 .8 1.3 1.7 1.2 2.3 1.3 3 1.2 1.8 1.3 .7 1.2-.3 1.3-.5 1.2-1 1.3-1.6 1.2-.7 1.3-.3 1.2 .2 1.3 .9 1.2 1 1.3 .7 1.2 .7 1.3 .6 1.2 .5 1.3 .3 1.2 0 1.3 0 1.2-.1 1.3 0 1.2-.1 1.3 0 1.2-.1 1.3-.1 1.2-.1 1.3 0 1.2-.1 1.3-.1 1.2-.1 1.3 0 1.2-.1 1.3-.1 1.2 0 1.3-.1 1.2-.1 1.3-.1 1.2 0 1.3-.1 1.2-.1 1.3-.1 1.2-.1 1.3 0 1.2-.1 1.3-.1 1.2-.1 1.3 0 1.2-.1 1.3-.1 1.2 0 1.3-.1 1.2 0 1.3-.1 1.2-.1 1.3 0 1.2-.1 1.3 0 1.2-.1 1.3 0 1.2-.1 1.3-.1 1.2 0 1.3-.1 1.2 0 1.3-.1 1.2 0 1.3-.1 1.2 0 1.3-.1 1.2-.1 1.3 0 1.2-.1 1.3 0 1.2 0 1.3-.1 1.2 0 1.3-.1 1.2 0 1.3-.1 1.2 0 1.3 0 1.2-.1 1.3 0 1.2 0 1.3 0 1.2 0 1.3-.1 1.2 0 1.3 0 1.2 0 1.3 0 1.2 0 1.3 0 1.2 0 1.3 0 1.2 0 1.3 0 1.2 0 1.3 0 1.2 0 1.3 0 1.2 .1 1.3 0 1.2 0 1.3 0 1.2 0 1.3 0 1.2 0 1.3 0 1.2 0 1.3 .1 1.2 0 1.3 0 1.2 0 1.3 0 1.2 0 1.3 .1 1.2 0 1.3 0 1.2 0 1.3 0 1.2 .1 1.3 0 1.2 0 1.3 0 1.2 0 1.3 .1 1.2 0 1.3 0 1.2 .1 1.3 0 1.2 .1 1.3 0 1.2 .1 1.3 .1 1.2 .1 1.3 .1 1.2 .1 1.3 .1 1.2 .1 1.3 .1 1.2 .1 1.3 .1 1.2 .2 1.3 .1 1.2 .1 1.3 .1 1.2 .2 1.3 .1 1.2 .1 1.3 .1 1.2 .2 1.3 .1 1.2 .1 1.3 .1 1.2 .1 1.3 .1 1.2 .1 1.3 .1 1.2 .2 1.3 .1 1.2 .1 1.3 .1 1.2 .1 1.3 .1 1.2 .2 1.3 .1 1.2 .1 1.3 .1 1.2 .1 1.3 .1 1.2 .2 1.3 .1 1.2 .1 1.3 .1 1.2 .1 1.3 .1 1.2 .1 1.3 .1 1.2 .1 1.3 .1 1.2 .1 1.3 .1 1.2 .2 1.3 .1 1.2 .1 1.3 .1 1.2 .1 1.3 .1 1.2 .2 1.3 .1 1.2 0 1.3 .2 1.2 .1 1.3-.1 1.2 .2 1.3 .3 1.2 0 1.3 0 1.2-.3 1.3 .1 1.2 .5 1.3-.2 1.2-.3 1.3 .4 1.2-.1 1.3-.4 1.2 .1 1.3 .1 1.2 .1 1.3 0 1.2-.5 1.3-.1 1.2 .4 1.3-.3 1.2-.3 1.3 .4 1.2-.1 1.3-.4 1.2-.1 1.3-.2 1.2 .2 1.3 .1 1.2-.5 1.3-.1 1.2 .1 1.3-.4 1.2-.4 1.3 .1 1.2-.3 1.3-.3 1.2-.4 1.3-.5 1.2-.3 1.3-.4 1.2-.9 1.3-.9 1.2-1.1 1.3-1.8 1.2-2.9 1.3-5.3 1.2-6.6 1.3-8.4 1.2-7.5 1.3-7.2 1.2-6.1 1.3-5 1.2-3 1.3-.8 1.2 2.6 1.3 5.3 1.2 7.1 1.3 7.7 1.2 6.4 1.3 5 1.2 3.1 1.3 2.2 1.2 2.1 1.3 1.6 1.2 .8 1.3 1.2 1.2 1.4 1.3 1.1 1.2 1 1.3 .1 1.2 .2 1.3 1.3 1.2 .2 1.3-.3 1.2 .9 1.3 0 1.2-1.3 1.3-.9 1.2-.8 1.3-.5 1.2-.4 1.3-1.6 1.2-1.4 1.3-.6 1.2-1.8 1.3-2.2 1.2-.9 1.3-.8 1.2-1.1 1.3-.9 1.2-.8 1.3-.2 1.2 .1 1.3-.5 1.2 0 1.3 .5 1.2 0 1.3-.2 1.2 .5 1.3 .5 1.2 .8 1.3 .8 1.2 .6 1.3 1 1.2 1.2 1.3 .5 1.2 .9 1.3 1.3 1.2 .9 1.3 .8 1.2 .9 1.3 .9 1.2 1.2 1.3 .9 1.2 .4 1.3 .9 1.2 .9 1.3-.1 1.2 .5 1.3 1 1.2 .5 1.3 .5 1.2 .1 1.3-.1 1.2 .9 1.3 .4 1.2-.4 1.3 .8 1.2 .8 1.3-.6 1.2-.1 1.3 .4 1.2 .4 1.3 .6 1.2-.1 1.3-.3 1.2 .8 1.3-.1 1.2-.8 1.3 .5 1.2 .5 1.3-.6 1.2-.5 1.3-.6 1.2-.3 1.3 .2 1.2-.8 1.3-.8 1.2 .1 1.3-.9 1.2-1.4 1.3-.6 1.2-.8 1.3-1.2 1.2-1.3 1.3-1.8 1.2-1.9 1.3-2 1.2-2.9 1.3-3.6 1.2-3.9 1.3-4 1.2-3.9 1.3-3.8 1.2-3.2 1.3-2.3 1.2-1.7 1.3-1 1.2-.6 1.3 .4 1.2 .7 1.3 .2 1.2 0 1.3-.3 1.2-.8 1.3-.5 1.2-.4 1.3-.2 1.2 .2 1.3 .8 1.2 1 1.3 1.2 1.2 1.2 1.3 1.3 1.2 1.1 1.3 .9 1.2 .9 1.3 .8 1.2 .3 1.3-.2 1.2-.5 1.3-.5 1.2-1 1.3-1.3 1.2-1.9 1.3-2.9 1.2-3.2 1.3-3.5 1.2-3.5 1.3-2.8 1.2-2.3 1.3-1.3 1.2-.8 1.3-.1 1.2 1.3 1.3 1.7 1.2 2.5 1.3 2.3 1.2 2.1 1.3 1.4 1.2 1 1.3 .3 1.2-.1 1.3-.1 1.2-.2 1.3-.2 1.2-.3 1.3-.4 1.2-.5 1.3-.7 1.2-.8 1.3-.7 1.2-.8 1.3-.7 1.2-.1 1.3 1.2 1.2 2.1 1.3 3.5 1.2 3.4 1.3 2.8 1.2 2.2 1.3 1.6 1.2 1.4 1.3 .6 1.2-.2 1.3-.5 1.2-.7 1.3-.8 1.2-.8 1.3-.6 1.2-.6 1.3-.7 1.2-.6 1.3-.7 1.2-.7 1.3-.7 1.2-.7 1.3-.8 1.2-.9 1.3-.7 1.2-.7 1.3-.5 1.2-.5 1.3-.4 1.2-.3 1.3 .1 1.2 .6 1.3 .7 1.2 .9 1.3 1.4 1.2 1.4 1.3 1 1.2 .9 1.3 .7 1.2 .1 1.3-1.4 1.2-2 1.3-2.2 1.2-2.8 1.3-2.7 1.2-1.9 1.3-1.5 1.2-1.5 1.3-1.2 1.2-1.2 1.3-1.7 1.2-3.3 1.3-4.4 1.2-5.6 1.3-7.2 1.2-9.1 1.3-8.5 1.2-6.8 1.3-3.8 1.2-1.9 1.3-.7 1.2 .3 1.3 1.6 1.2 2.3 1.3 3.3 1.2 3.6 1.3 4.1 1.2 3.5 1.3 3.3 1.2 2.1 1.3-.8 1.2-2.7 1.3-3.9 1.2-5.2 1.3-5 1.2-4.3 1.3-2.9 1.2-2.3 1.3-1.7 1.2-1.3 1.3-1.2 1.2-.8 1.3 0 1.2 .5 1.3 .9 1.2 1.4 1.3 2.7 1.2 2.1 1.3 1.5 1.2 1 1.3 .1 1.2-1 1.3-1.3 1.2-1.7 1.3-2.1 1.2-1.7 1.3-1.2 1.2-1 1.3-1.5 1.2-2 1.3-1.9 1.2-1.1 1.3-1 1.2-.6 1.3 0 1.2 .5 1.3 .9 1.2 .9 1.3 1.3 1.2 1 1.3 .4 1.2 .2 1.3 .3 1.2 .4 1.3 .5 1.2 .7 1.3 1.5 1.2 2.1 1.3 2.1 1.2 2.5 1.3 2.5 1.2 2.3 1.3 2.2 1.2 2.1 1.3 1.8 1.2 1.6 1.3 1.3 1.2 1.1 1.3 .9 1.2 .9 1.3 .8 1.2 1 1.3 2.2 1.2 3.9 1.3 4.4 1.2 5.5 1.3 5.3 1.2 4.4 1.3 3.9 1.2 3.7 1.3 3.7 1.2 3.8 1.3 4.2 1.2 4.3 1.3 4.4 1.2 4.2 1.3 3.9 1.2 3.3 1.3 2.9 1.2 2.6 1.3 2.5 1.2 2.5 1.3 2.3 1.2 2.2 1.3 1.8 1.2 1.8 1.3 1.5 1.2 1.4 1.3 1.2 1.2 1.3 1.3 1 1.2 .5 1.3-.1 1.2-.5 1.3-.8 1.2-2.1 1.3-2 1.2-1.3 1.3-1 1.2 .4 1.3 2.3 1.2 2.7 1.3 3.4 1.2 3.1 1.3 2 1.2 1.7 1.3 1.5 1.2 1.2 1.3 1.1 1.2 .9 1.3 .8 1.2 .8 1.3 .6 1.2 .6 1.3 .6 1.2 .5 1.3 .4 1.2 .3 1.3 .2 1.2 .3 1.3 .2 1.2 .1 1.3 0 1.2-.1 1.3-.1 1.2-.1 1.3-.2 1.2-.2 1.3-.2 1.2-.2 1.3-.3 1.2-.2 1.3-.2 1.2-.3 1.3-.3 1.2-.3 1.3-.3 1.2-.2 1.3-.3 1.2-.2 1.3-.3 1.2-.2 1.3-.2 1.2-.2 1.3-.3 1.2-.2 1.3-.3 1.2-.3 1.3-.2 1.2-.3 1.3-.4 1.2-.4 1.3-.6 1.2-.7 1.3-.8 1.2-.9 1.3-1 1.2-1.2 1.3-1.3 1.2-1.4 1.3-1.5 1.2-1.8 1.3-1.7 1.2-1.5 1.3-1.3 1.2-1.3 1.3-1.2 1.2-.9 1.3-.6 1.2-.4 1.3-.4 1.2-.3 1.3-.3 1.2-.2 1.3-.2 1.2-.1 1.3-.1 1.2-.1 1.3-.1 1.2 0 1.3-.2 1.2-.1 1.3-.4 1.2-1 1.3-1.5 1.2-1.7 1.3-2.7 1.2-3 1.3-2 1.2-1.6 1.3-1.2 1.2-.2 1.3 .5 1.2 .7 1.3 1.1 1.2 1.5 1.3 1.2 1.2 .9 1.3 .7 1.2 0 1.3-.6 1.2-.9 1.3-1.1 1.2-1.5 1.3-1.7 1.2-1.8 1.3-1.4 1.2-1.4 1.3-1.2 1.2-.9 1.3-.6 1.2-.5 1.3-.2 1.2 .2 1.3 .3 1.2 .4 1.3 .3 1.2 .4 1.3 .5 1.2 .5 1.3 .4 1.2 .4 1.3 .3 1.2 .2 1.3 .1 1.2 .1 1.3 .1 1.2 .1 1.3 0 1.2 .1 1.3-.1 1.2-.1 1.3-.1 1.2-.1 1.3-.1 1.2 .2 1.3 1.2 1.2 1.5 1.3 1.6 1.2 2.2 1.3 2.2 1.2 1.1 1.3 .2 1.2 .1 1.3 .1 1.2 0 1.3 0 1.2-.2 1.3-.1 1.2-.1 1.3 .3 1.2 .5 1.3 .7 1.2 .6 1.3 .5 1.2 .5 1.3 .6 1.2 .5 1.3 .6 .1 0"/>
<path id="c3" class="c" d="M128.5 3144.6l.8 0 .7 0 .8 0 .7 0 .8 0 .7 0 .8 0 .7 0 .8 0 .7 0 .8 0 .7 0 .8 0 .7 0 .8 0 .7 0 .8 0 .7 0 .8 0 .7 0 .8 0 .7 0 .8 0 .7 0 .8 0 .7 0 .8 0 .7 0 .8 0 .7 0 .8 0 .7 .2 .8 .1 .7 .1 .8 .1 .7 .2 .8 .1 .7 .1 .8 .2 .7 .1 .8 .1 .7 0 .8-.4 .7-.3 .8-.4 .7-.4 .8-.4 .7-.3 .8-.4 .7-.1 .8 .5 .7 .6 .8 .6 .7 .6 .8 .5 .7-.9 .8-.8 .7-.8 .8-.8 .7-.8 .8-.1 .7 .1 .8 .2 .7 .2 .8 .1 .7 .2 .8 .2 .7 .7 .8 .8 .7 .8 .8 .7 .7 .8 .8 0 .7-.2 .8-.3 .7-.2 .8-.2 .7-.3 .8-.2 .7-.2 .8-.3 .7-.3 .8-.3 .7-.3 .8-.3 .7 .2 .8 .7 .7 .6 .8 .6 .7-.2 .8-.8 .7-.8 .8-.9 .7-.2 .8 .4 .7 .3 .8 .3 .7 .3 .8 .3 .7 .4 .8 .3 .7 .3 .8 .3 .7 .3 .8 .4 .7 .3 .8-.1 .7-.7 .8-.7 .7-.8 .8-.3 .7 .6 .8 .6 .7 .6 .8 .5 .7 .6 .8-.8 .7-.9 .8-.8 .7-.8 .8 .4 .7 .4 .8 .5 .7 .4 .8 .5 .7 .4 .8 0 .7-.4 .8-.4 .7-.4 .8-.4 .7-.4 .8-.5 .7 .8 .8 1 .7 1 .8 1 .7 1 .8 .1 .7-.9 .8-.9 .7-.9 .8-.9 .7-.9 .8-.9 .7-.4 .8-.2 .7-.2 .8-.2 .7-.2 .8 .1 .7 .5 .8 .4 .7 .4 .8 .4 .7 .3 .8-.3 .7-.2 .8-.3 .7-.3 .8-.2 .7-.8 .8-1.1 .7-1 .8-1 .7-.8 .8 .6 .7 .6 .8 .6 .7 .6 .8 .6 .7 .5 .8 .4 .7 .4 .8 .3 .7 .4 .8 .4 .7 .4 .8 .2 .7 .1 .8 .2 .7 .1 .8 .2 .7 .1 .8 .1 .7-1.1 .8-1.1 .7-1.1 .8-1.1 .7-1.1 .8-.1 .7 .3 .8 .3 .7 .2 .8 .3 .7 .2 .8 .2 .7 .2 .8-.5 .7-.8 .8-.8 .7-.9 .8-.8 .7-.9 .8-.8 .7-.9 .8 .2 .7 .3 .8 .3 .7 .2 .8-.9 .7-1.2 .8-1.2 .7-1.2 .8-.3 .7-.3 .8-.3 .7-.4 .8-.5 .7-.5 .8-.2 .7 .8 .8 .9 .7 .8 .8 .7 .7 .8 .8-3.4 .7-3.3 .8-3.4 .7-3.4 .8-3.4 .7-1.5 .8-.6 .7-.5 .8-.6 .7 .3 .8 .6 .7 .4 .8 .4 .7-.8 .8-1.4 .7-1.4 .8-1.4 .7-2.1 .8-2.3 .7-2.3 .8-2.1 .7-1.9 .8-2 .7-1.7 .8-.3 .7-.4 .8-.3 .7-.3 .8-.3 .7-.3 .8-1.1 .7-2.1 .8-2.2 .7-.9 .8-.6 .7-.6 .8-.8 .7-.7 .8-1.3 .7-1.8 .8-1.9 .7-1.9 .8-2 .7-2 .8-2.1 .7-1.3 .8-1.1 .7-1.1 .8-1.2 .7-1.1 .8-1.2 .7-1.1 .8-1.1 .7-1.1 .8-1.7 .7-2 .8-1.9 .7-1.9 .8-1.9 .7-1.7 .8-1.8 .7-1.8 .8-1.3 .7-1.1 .8-1 .7-1.1 .8-1 .7-1 .8-.9 .7-1 .8-1.5 .7-1.4 .8-1.5 .7-1.4 .8-1.5 .7-1.4 .8-1.4 .7-1.4 .8-.9 .7-.8 .8-.8 .7-.9 .8-.8 .7-.8 .8-.8 .7-.9 .8-.8 .7-1.1 .5-.8 1.2-2.1 1.3-2.1 1.2-2.1 1.3-2 1.2-1.9 1.3-1.4 1.2-1.4 1.3-1.4 1.2-1.3 1.3-1.3 1.2-1.6 1.3-1.8 1.2-1.8 1.3-1.7 1.2-1.7 1.3-1.7 1.2-1.5 1.3-1.2 1.2-1.1 1.3-1 1.2-1 1.3-1.1 1.2-1 1.3-1.3 1.2-1.4 1.3-1.3 1.2-1.3 1.3-1.2 1.2-1.1 1.3-1.1 1.2-.8 1.3-.6 1.2-.5 1.3-.3 1.2-.4 1.3-.3 1.2-.4 1.3-.4 1.2-.5 1.3-.5 1.2-.5 1.3-.4 1.2-.3 1.3-.4 1.2-.2 1.3-.1 1.2 0 1.3 .1 1.2 .2 1.3 .2 1.2 .2 1.3 .2 1.2 .3 1.3 .2 1.2 .1 1.3 .2 1.2 .1 1.3 .2 1.2 .1 1.3 .2 1.2 .1 1.3 .2 1.2 .2 1.3 .3 1.2 .3 1.3 .3 1.2 .4 1.3 .4 1.2 .3 1.3 .4 1.2 .5 1.3 .4 1.2 .4 1.3 .5 1.2 .5 1.3 .5 1.2 .5 1.3 .5 1.2 .6 1.3 .5 1.2 .6 1.3 .6 1.2 .7 1.3 .6 1.2 .6 1.3 .8 1.2 .9 1.3 .9 1.2 1 1.3 .9 1.2 .9 1.3 .8 1.2 .7 1.3 .6 1.2 .6 1.3 .5 1.2 .5 1.3 .5 1.2 .6 1.3 .6 1.2 .8 1.3 .9 1.2 1 1.3 1.1 1.2 1.1 1.3 1.1 1.2 1.3 1.3 1.3 1.2 1.4 1.3 1.4 1.2 1.5 1.3 1.5 1.2 1.4 1.3 1.5 1.2 1.4 1.3 1.5 1.2 1.4 1.3 1.5 1.2 1.5 1.3 1.5 1.2 1.5 1.3 1.5 1.2 1.5 1.3 1.5 1.2 1.5 1.3 1.5 1.2 1.5 1.3 1.6 1.2 1.5 1.3 1.5 1.2 1.5 1.3 1.5 1.2 1.5 1.3 1.5 1.2 1.5 1.3 1.5 1.2 1.5 1.3 1.5 1.2 1.4 1.3 1.5 1.2 1.4 1.3 1.5 1.2 1.5 1.3 1.4 1.2 1.5 1.3 1.5 1.2 1.5 1.3 1.4 1.2 1.5 1.3 1.5 1.2 1.4 1.3 1.5 1.2 1.4 1.3 1.5 1.2 1.4 1.3 1.4 1.2 1.4 1.3 1.4 1.2 1.4 1.3 1.4 1.2 1.4 1.3 1.3 1.2 1.3 1.3 1.3 1.2 1.3 1.3 1.2 1.2 1.3 1.3 1.2 1.2 1.2 1.3 1.2 1.2 1.2 1.3 1.2 1.2 1.2 1.3 1.1 1.2 1.2 1.3 1.1 1.2 1.1 1.3 1.1 1.2 1.1 1.3 1 1.2 1.1 1.3 1 1.2 1 1.3 .9 1.2 1 1.3 .9 1.2 1 1.3 .9 1.2 .9 1.3 .8 1.2 .7 1.3 .7 1.2 .6 1.3 .6 1.2 .5 1.3 .6 1.2 .4 1.3 .4 1.2 .4 1.3 .2 1.2 .2 1.3 .2 1.2 .1 1.3 .1 1.2 .1 1.3 0 1.2 0 1.3 0 1.2 0 1.3-.1 1.2 0 1.3-.1 1.2-.3 1.3-.4 1.2-.5 1.3-.6 1.2-.6 1.3-.8 1.2-1.1 1.3-1.2 1.2-1.4 1.3-2.1 1.2-3 1.3-3.2 1.2-2.9 1.3-2.4 1.2-2.4 1.3-2.3 1.2-2.2 1.3-2.3 1.2-2.4 1.3-2.6 1.2-2.3 1.3-1.7 1.2-1.2 1.3-1.1 1.2-1.8 1.3-4.1 1.2-5.5 1.3-7.3 1.2-7.1 1.3-6.2 1.2-4.2 1.3-2.2 1.2 .7 1.3 1.6 1.2 2.5 1.3 2.7 1.2 3 1.3 2.9 1.2 2.6 1.3 2.4 1.2 2.5 1.3 3 1.2 2.1 1.3 1.3 1.2 1 1.3 .7 1.2 .7 1.3 .6 1.2 .5 1.3 .2 1.2 0 1.3-.1 1.2-.1 1.3-.1 1.2-.2 1.3-.3 1.2-.6 1.3-.5 1.2 0 1.3 2.2 1.2 3.4 1.3 5 1.2 6 1.3 6.5 1.2 5.6 1.3 5 1.2 3.7 1.3 3 1.2 2.2 1.3 1.7 1.2 1.7 1.3 1.5 1.2 1.3 1.3 1.1 1.2 .9 1.3 .9 1.2 .7 1.3 .7 1.2 .6 1.3 .6 1.2 .6 1.3 .5 1.2 .5 1.3 .5 1.2 .4 1.3 .4 1.2 .3 1.3 .3 1.2 .3 1.3 .4 1.2 .3 1.3 .3 1.2 .2 1.3 .3 1.2 .2 1.3 .2 1.2 .2 1.3 .2 1.2 .2 1.3 .2 1.2 .1 1.3 .2 1.2 .1 1.3 .2 1.2 .1 1.3 .2 1.2 .1 1.3 .2 1.2 .1 1.3 .2 1.2 .2 1.3 .2 1.2 .3 1.3 .2 1.2 .2 1.3 .3 1.2 .3 1.3 .2 1.2 .3 1.3 .3 1.2 .2 1.3 .3 1.2 .3 1.3 .3 1.2 .3 1.3 .3 1.2 .3 1.3 .3 1.2 .2 1.3 .3 1.2 .3 1.3 .3 1.2 .2 1.3 .3 1.2 .2 1.3 .3 1.2 .2 1.3 .2 1.2 .2 1.3 .3 1.2 .2 1.3 .3 1.2 .2 1.3 .2 1.2 .3 1.3 .2 1.2 .3 1.3 .2 1.2 .2 1.3 .2 1.2 .3 1.3 .2 1.2 .2 1.3 .2 1.2 .1 1.3 .2 1.2 .2 1.3 .1 1.2 .2 1.3 .1 1.2 .1 1.3 .1 1.2 .1 1.3 0 1.2 .1 1.3 .1 1.2 0 1.3 .1 1.2 0 1.3 .1 1.2 0 1.3 .1 1.2 0 1.3 .1 1.2 0 1.3 0 1.2 .1 1.3 0 1.2 0 1.3 .1 1.2 0 1.3 0 1.2 .1 1.3 0 1.2 0 1.3 0 1.2 .1 1.3 0 1.2 0 1.3 0 1.2 0 1.3 0 1.2 .1 1.3 0 1.2 0 1.3 0 1.2 0 1.3 0 1.2 .1 1.3 0 1.2 0 1.3 .1 1.2 0 1.3 0 1.2 .1 1.3 .1 1.2 .1 1.3 .1 1.2 .2 1.3 .1 1.2 .2 1.3 .2 1.2 .2 1.3 .2 1.2 .2 1.3 .2 1.2 .2 1.3 .2 1.2 .2 1.3 .2 1.2 .2 1.3 .2 1.2 .2 1.3 .2 1.2 .2 1.3 .1 1.2 .2 1.3 .1 1.2 .2 1.3 .1 1.2 .1 1.3 .1 1.2 .1 1.3 .2 1.2 .1 1.3 .1 1.2 .1 1.3 .1 1.2 .1 1.3 .1 1.2 0 1.3 .1 1.2 0 1.3 0 1.2-.1 1.3-.1 1.2-.2 1.3-.3 1.2-1.5 1.3-2 1.2-1.4 1.3-1.3 1.2-1 1.3-.4 1.2 .8 1.3 1.7 1.2 2.2 1.3 2.9 1.2 1.9 1.3 .7 1.2-.3 1.3-.6 1.2-1 1.3-1.7 1.2-.6 1.3-.4 1.2 .2 1.3 .9 1.2 1 1.3 .6 1.2 .7 1.3 .6 1.2 .5 1.3 .2 1.2 0 1.3 0 1.2-.1 1.3 0 1.2-.1 1.3-.1 1.2-.1 1.3-.1 1.2-.1 1.3-.1 1.2-.1 1.3-.1 1.2-.1 1.3-.1 1.2-.1 1.3-.1 1.2 0 1.3-.1 1.2-.1 1.3-.1 1.2-.1 1.3-.1 1.2-.1 1.3-.1 1.2-.1 1.3-.1 1.2-.1 1.3-.1 1.2-.1 1.3-.1 1.2-.1 1.3-.1 1.2-.1 1.3-.1 1.2 0 1.3-.1 1.2-.1 1.3-.1 1.2-.1 1.3 0 1.2-.1 1.3-.1 1.2-.1 1.3 0 1.2-.1 1.3-.1 1.2-.1 1.3-.1 1.2 0 1.3-.1 1.2-.1 1.3-.1 1.2 0 1.3-.1 1.2-.1 1.3 0 1.2-.1 1.3-.1 1.2 0 1.3-.1 1.2-.1 1.3 0 1.2-.1 1.3 0 1.2-.1 1.3 0 1.2-.1 1.3 0 1.2-.1 1.3 0 1.2-.1 1.3 0 1.2 0 1.3 0 1.2 0 1.3 0 1.2 0 1.3 0 1.2 0 1.3 0 1.2 0 1.3 0 1.2 .1 1.3 0 1.2 0 1.3 0 1.2 0 1.3 0 1.2 0 1.3 .1 1.2 0 1.3 0 1.2 0 1.3 0 1.2 .1 1.3 0 1.2 0 1.3 0 1.2 .1 1.3 0 1.2 0 1.3 0 1.2 .1 1.3 0 1.2 0 1.3 .1 1.2 0 1.3 0 1.2 .1 1.3 0 1.2 0 1.3 .1 1.2 0 1.3 .1 1.2 .1 1.3 .1 1.2 .1 1.3 .1 1.2 .2 1.3 .1 1.2 .1 1.3 .2 1.2 .2 1.3 .1 1.2 .2 1.3 .2 1.2 .2 1.3 .2 1.2 .2 1.3 .1 1.2 .2 1.3 .2 1.2 .2 1.3 .2 1.2 .2 1.3 .1 1.2 .2 1.3 .2 1.2 .1 1.3 .2 1.2 .1 1.3 .2 1.2 .2 1.3 .2 1.2 .1 1.3 .2 1.2 .2 1.3 .2 1.2 .1 1.3 .2 1.2 .2 1.3 .2 1.2 .1 1.3 .2 1.2 .2 1.3 .2 1.2 .1 1.3 .2 1.2 .2 1.3 .1 1.2 .2 1.3 .1 1.2 .2 1.3 .1 1.2 .2 1.3 .1 1.2 .2 1.3 .2 1.2 .2 1.3 .1 1.2 .2 1.3 .2 1.2 .1 1.3 .2 1.2 .1 1.3 .3 1.2 .1 1.3-.1 1.2 .3 1.3 .3 1.2 0 1.3 0 1.2-.2 1.3 .1 1.2 .5 1.3-.2 1.2-.3 1.3 .4 1.2-.1 1.3-.4 1.2 .1 1.3 .1 1.2 .1 1.3 0 1.2-.5 1.3-.1 1.2 .4 1.3-.3 1.2-.2 1.3 .3 1.2-.1 1.3-.3 1.2-.2 1.3-.2 1.2 .2 1.3 .2 1.2-.5 1.3-.2 1.2 .2 1.3-.4 1.2-.3 1.3 0 1.2-.2 1.3-.3 1.2-.4 1.3-.5 1.2-.2 1.3-.4 1.2-.9 1.3-.9 1.2-1 1.3-1.7 1.2-2.7 1.3-5 1.2-6.2 1.3-7.9 1.2-7.1 1.3-6.7 1.2-5.8 1.3-4.7 1.2-2.9 1.3-.8 1.2 2.3 1.3 4.5 1.2 6 1.3 6.6 1.2 5.5 1.3 4.3 1.2 2.6 1.3 1.8 1.2 1.9 1.3 1.4 1.2 .5 1.3 1.1 1.2 1.3 1.3 .9 1.2 .9 1.3-.1 1.2 .2 1.3 1.2 1.2 .2 1.3-.4 1.2 .9 1.3-.1 1.2-1.6 1.3-1.2 1.2-1.1 1.3-.9 1.2-.8 1.3-2.1 1.2-1.8 1.3-1.1 1.2-2.4 1.3-2.9 1.2-1.6 1.3-1.2 1.2-1.6 1.3-1.2 1.2-1 1.3-.3 1.2 0 1.3-.6 1.2 0 1.3 .6 1.2 0 1.3 0 1.2 .5 1.3 .8 1.2 1 1.3 1.2 1.2 1 1.3 1.5 1.2 1.5 1.3 .9 1.2 1.3 1.3 1.7 1.2 1.4 1.3 1.2 1.2 1.4 1.3 1.3 1.2 1.6 1.3 1.3 1.2 .8 1.3 1.2 1.2 1.1 1.3 .2 1.2 .7 1.3 1.3 1.2 .7 1.3 .6 1.2 .3 1.3 .1 1.2 1 1.3 .5 1.2-.3 1.3 1 1.2 .8 1.3-.5 1.2 .1 1.3 .5 1.2 .4 1.3 .8 1.2 0 1.3-.3 1.2 .8 1.3 0 1.2-.8 1.3 .5 1.2 .4 1.3-.7 1.2-.6 1.3-.6 1.2-.5 1.3 .1 1.2-.9 1.3-1 1.2-.1 1.3-1.1 1.2-1.7 1.3-.9 1.2-1.1 1.3-1.6 1.2-1.7 1.3-2.4 1.2-2.5 1.3-2.8 1.2-3.7 1.3-4.9 1.2-5.2 1.3-5.3 1.2-5.2 1.3-5.1 1.2-4.1 1.3-3.1 1.2-2.3 1.3-1.3 1.2-.8 1.3 .4 1.2 .7 1.3 .1 1.2 .1 1.3-.4 1.2-.8 1.3-.4 1.2-.4 1.3-.2 1.2 .2 1.3 .8 1.2 .9 1.3 1.2 1.2 1.2 1.3 1.1 1.2 1.1 1.3 .9 1.2 .9 1.3 .7 1.2 .3 1.3-.3 1.2-.6 1.3-.8 1.2-1.2 1.3-1.8 1.2-2.6 1.3-4 1.2-4.2 1.3-4.8 1.2-4.7 1.3-3.8 1.2-3.1 1.3-1.8 1.2-1.1 1.3 0 1.2 1.8 1.3 2.4 1.2 3.6 1.3 3.3 1.2 3 1.3 2 1.2 1.5 1.3 .3 1.2-.1 1.3-.2 1.2-.2 1.3-.3 1.2-.5 1.3-.5 1.2-.8 1.3-1 1.2-1.1 1.3-1 1.2-1.1 1.3-1 1.2-.2 1.3 1.8 1.2 3 1.3 5 1.2 4.8 1.3 3.9 1.2 3.2 1.3 2.3 1.2 2 1.3 .9 1.2-.2 1.3-.7 1.2-1 1.3-1 1.2-1 1.3-.8 1.2-.8 1.3-.9 1.2-.8 1.3-.9 1.2-.9 1.3-.9 1.2-1 1.3-1 1.2-1.1 1.3-1 1.2-.8 1.3-.7 1.2-.7 1.3-.6 1.2-.3 1.3 .2 1.2 .9 1.3 1.2 1.2 1.5 1.3 2.1 1.2 2.2 1.3 1.7 1.2 1.5 1.3 1.2 1.2 0 1.3-1.7 1.2-2.7 1.3-2.9 1.2-3.8 1.3-3.5 1.2-2.6 1.3-2 1.2-1.9 1.3-1.7 1.2-1.5 1.3-2.4 1.2-4.3 1.3-5.8 1.2-7.5 1.3-9.6 1.2-12 1.3-11.3 1.2-9 1.3-5.2 1.2-2.5 1.3-.9 1.2 .3 1.3 2 1.2 2.8 1.3 4 1.2 4.4 1.3 4.9 1.2 4.2 1.3 4.1 1.2 2.5 1.3-1.2 1.2-3.6 1.3-5.4 1.2-7.2 1.3-6.9 1.2-6 1.3-3.9 1.2-3.2 1.3-2.3 1.2-1.9 1.3-1.6 1.2-1 1.3-.1 1.2 .5 1.3 .9 1.2 1.5 1.3 2.8 1.2 2.1 1.3 1.6 1.2 1 1.3 0 1.2-1.4 1.3-1.9 1.2-2.3 1.3-2.9 1.2-2.4 1.3-1.7 1.2-1.5 1.3-2.1 1.2-2.8 1.3-2.6 1.2-1.6 1.3-1.4 1.2-.8 1.3-.1 1.2 .8 1.3 1.3 1.2 1.3 1.3 1.7 1.2 1.5 1.3 .6 1.2 .3 1.3 .4 1.2 .5 1.3 .7 1.2 1.1 1.3 2.2 1.2 2.9 1.3 3.1 1.2 3.6 1.3 3.5 1.2 3.3 1.3 3.2 1.2 2.9 1.3 2.6 1.2 2.3 1.3 1.8 1.2 1.6 1.3 1.4 1.2 1.2 1.3 1.1 1.2 1.5 1.3 3.1 1.2 5.4 1.3 6.1 1.2 7.7 1.3 7.5 1.2 6 1.3 5.5 1.2 5.2 1.3 5.2 1.2 5.3 1.3 5.8 1.2 6 1.3 6.2 1.2 5.9 1.3 5.3 1.2 4.6 1.3 4.1 1.2 3.7 1.3 3.5 1.2 3.4 1.3 3.3 1.2 3 1.3 2.6 1.2 2.4 1.3 2.2 1.2 1.9 1.3 1.7 1.2 1.8 1.3 1.4 1.2 .7 1.3-.2 1.2-.7 1.3-1.2 1.2-3.2 1.3-3 1.2-2 1.3-1.4 1.2 .6 1.3 3.3 1.2 3.9 1.3 5 1.2 4.5 1.3 3 1.2 2.5 1.3 2.1 1.2 1.8 1.3 1.6 1.2 1.4 1.3 1.2 1.2 1.1 1.3 .9 1.2 1 1.3 .8 1.2 .7 1.3 .5 1.2 .5 1.3 .4 1.2 .3 1.3 .3 1.2 .2 1.3 0 1.2-.1 1.3-.1 1.2-.3 1.3-.2 1.2-.3 1.3-.3 1.2-.3 1.3-.3 1.2-.4 1.3-.3 1.2-.4 1.3-.4 1.2-.4 1.3-.4 1.2-.4 1.3-.4 1.2-.3 1.3-.4 1.2-.3 1.3-.3 1.2-.3 1.3-.4 1.2-.4 1.3-.3 1.2-.4 1.3-.4 1.2-.4 1.3-.5 1.2-.6 1.3-.8 1.2-1 1.3-1.2 1.2-1.3 1.3-1.4 1.2-1.7 1.3-1.9 1.2-2 1.3-2.2 1.2-2.5 1.3-2.4 1.2-2.1 1.3-1.9 1.2-1.9 1.3-1.7 1.2-1.3 1.3-.9 1.2-.5 1.3-.7 1.2-.4 1.3-.5 1.2-.3 1.3-.2 1.2-.2 1.3-.1 1.2-.1 1.3-.1 1.2-.2 1.3-.1 1.2-.3 1.3-.6 1.2-1.5 1.3-2.1 1.2-2.5 1.3-4 1.2-4.4 1.3-3 1.2-2.4 1.3-1.7 1.2-.3 1.3 .6 1.2 1 1.3 1.4 1.2 2.1 1.3 1.7 1.2 1.2 1.3 .9 1.2 .1 1.3-.9 1.2-1.3 1.3-1.5 1.2-2.2 1.3-2.5 1.2-2.5 1.3-2 1.2-2 1.3-1.8 1.2-1.2 1.3-1 1.2-.7 1.3-.2 1.2 .2 1.3 .4 1.2 .4 1.3 .4 1.2 .4 1.3 .5 1.2 .6 1.3 .5 1.2 .4 1.3 .3 1.2 .2 1.3 .2 1.2 .1 1.3 .2 1.2 .1 1.3 .1 1.2 0 1.3 0 1.2-.1 1.3 0 1.2-.1 1.3-.1 1.2 .3 1.3 1.8 1.2 2.4 1.3 2.6 1.2 3.4 1.3 3.4 1.2 1.8 1.3 .3 1.2 .2 1.3 .1 1.2 0 1.3-.1 1.2-.2 1.3-.2 1.2-.1 1.3 .4 1.2 .9 1.3 1 1.2 .9 1.3 .8 1.2 .9 1.3 .8 1.2 .9 1.3 .9 .1 0"/>
<path id="c4" class="c" d="M128.5 3443.9l.8 0 .7 0 .8 0 .7 0 .8 0 .7 0 .8 0 .7 0 .8 0 .7 0 .8 0 .7 0 .8 0 .7 0 .8 0 .7 0 .8 0 .7 0 .8 0 .7 0 .8 0 .7 0 .8 0 .7 0 .8 0 .7 0 .8 0 .7 0 .8 0 .7 0 .8 0 .7 .2 .8 .1 .7 .1 .8 .1 .7 .2 .8 .1 .7 .1 .8 .2 .7 .1 .8 .1 .7 0 .8-.4 .7-.3 .8-.4 .7-.4 .8-.4 .7-.3 .8-.4 .7-.1 .8 .5 .7 .6 .8 .6 .7 .6 .8 .5 .7-.8 .8-.9 .7-.8 .8-.8 .7-.8 .8-.1 .7 .2 .8 .1 .7 .2 .8 .1 .7 .2 .8 .2 .7 .8 .8 .8 .7 .7 .8 .8 .7 .8 .8 0 .7-.2 .8-.3 .7-.2 .8-.2 .7-.3 .8-.2 .7-.2 .8-.3 .7-.3 .8-.3 .7-.2 .8-.3 .7 .2 .8 .6 .7 .6 .8 .7 .7-.2 .8-.8 .7-.8 .8-.9 .7-.2 .8 .4 .7 .3 .8 .3 .7 .4 .8 .3 .7 .3 .8 .3 .7 .4 .8 .3 .7 .3 .8 .3 .7 .3 .8 0 .7-.7 .8-.7 .7-.8 .8-.3 .7 .6 .8 .6 .7 .6 .8 .6 .7 .5 .8-.8 .7-.8 .8-.9 .7-.8 .8 .5 .7 .4 .8 .4 .7 .5 .8 .4 .7 .5 .8 0 .7-.4 .8-.4 .7-.4 .8-.5 .7-.4 .8-.4 .7 .7 .8 1.1 .7 1 .8 1 .7 1 .8 .1 .7-.9 .8-.9 .7-.9 .8-.9 .7-1 .8-.9 .7-.3 .8-.2 .7-.3 .8-.2 .7-.2 .8 .2 .7 .4 .8 .4 .7 .4 .8 .4 .7 .3 .8-.3 .7-.3 .8-.3 .7-.3 .8-.2 .7-.8 .8-1.1 .7-1 .8-1.1 .7-.8 .8 .6 .7 .6 .8 .6 .7 .5 .8 .6 .7 .5 .8 .4 .7 .4 .8 .3 .7 .4 .8 .3 .7 .4 .8 .2 .7 .1 .8 .1 .7 .1 .8 .2 .7 .1 .8 0 .7-1.1 .8-1.1 .7-1.1 .8-1.2 .7-1.2 .8-.1 .7 .2 .8 .2 .7 .2 .8 .1 .7 .2 .8 .1 .7 .1 .8-.6 .7-.9 .8-.9 .7-1 .8-.9 .7-1 .8-1 .7-1 .8 .1 .7 .1 .8 .2 .7 .1 .8-1.1 .7-1.3 .8-1.3 .7-1.4 .8-.5 .7-.4 .8-.6 .7-.6 .8-.7 .7-.7 .8-.6 .7 .6 .8 .5 .7 .5 .8 .4 .7 .4 .8-3.7 .7-3.7 .8-3.8 .7-3.8 .8-3.8 .7-1.9 .8-1 .7-.9 .8-1 .7-.2 .8 .1 .7-.1 .8-.2 .7-1.4 .8-2 .7-2.1 .8-1.9 .7-2.7 .8-2.8 .7-2.8 .8-2.5 .7-2.4 .8-2.3 .7-2 .8-.8 .7-.6 .8-.7 .7-.6 .8-.6 .7-.6 .8-1.4 .7-2.5 .8-2.4 .7-1.3 .8-.9 .7-1 .8-1.1 .7-1.2 .8-1.7 .7-2.2 .8-2.4 .7-2.4 .8-2.6 .7-2.6 .8-2.6 .7-1.9 .8-1.7 .7-1.7 .8-1.8 .7-1.7 .8-1.8 .7-1.7 .8-1.7 .7-1.7 .8-2.2 .7-2.6 .8-2.5 .7-2.4 .8-2.4 .7-2.2 .8-2.3 .7-2.3 .8-1.9 .7-1.6 .8-1.6 .7-1.6 .8-1.5 .7-1.5 .8-1.5 .7-1.4 .8-2 .7-2 .8-1.9 .7-1.9 .8-1.9 .7-1.9 .8-1.9 .7-1.8 .8-1.4 .7-1.2 .8-1.3 .7-1.3 .8-1.3 .7-1.2 .8-1.3 .7-1.2 .8-1.3 .7-1.5 .5-1.1 1.2-2.9 1.3-2.8 1.2-2.7 1.3-2.8 1.2-2.7 1.3-2.1 1.2-2 1.3-2.1 1.2-2 1.3-2 1.2-2.2 1.3-2.5 1.2-2.4 1.3-2.3 1.2-2.4 1.3-2.2 1.2-2.1 1.3-1.7 1.2-1.6 1.3-1.6 1.2-1.5 1.3-1.6 1.2-1.5 1.3-1.9 1.2-1.8 1.3-1.8 1.2-1.8 1.3-1.6 1.2-1.6 1.3-1.4 1.2-1.2 1.3-.9 1.2-.7 1.3-.6 1.2-.5 1.3-.6 1.2-.5 1.3-.6 1.2-.7 1.3-.6 1.2-.6 1.3-.6 1.2-.5 1.3-.4 1.2-.3 1.3-.1 1.2 0 1.3 .2 1.2 .1 1.3 .3 1.2 .2 1.3 .3 1.2 .4 1.3 .3 1.2 .2 1.3 .2 1.2 .3 1.3 .3 1.2 .2 1.3 .3 1.2 .2 1.3 .3 1.2 .3 1.3 .4 1.2 .5 1.3 .4 1.2 .6 1.3 .5 1.2 .5 1.3 .6 1.2 .6 1.3 .6 1.2 .6 1.3 .7 1.2 .7 1.3 .7 1.2 .8 1.3 .8 1.2 .8 1.3 .9 1.2 .9 1.3 .9 1.2 .9 1.3 .9 1.2 1 1.3 1 1.2 1.2 1.3 1.3 1.2 1.2 1.3 1.3 1.2 1.2 1.3 1.1 1.2 .9 1.3 .8 1.2 .7 1.3 .7 1.2 .7 1.3 .7 1.2 .7 1.3 .9 1.2 1.1 1.3 1.2 1.2 1.3 1.3 1.4 1.2 1.5 1.3 1.6 1.2 1.6 1.3 1.8 1.2 1.9 1.3 1.9 1.2 2 1.3 2 1.2 1.9 1.3 1.9 1.2 2 1.3 1.9 1.2 2 1.3 2 1.2 2 1.3 2 1.2 2 1.3 2 1.2 2 1.3 2 1.2 2.1 1.3 2 1.2 2 1.3 2.1 1.2 2 1.3 2 1.2 2 1.3 2.1 1.2 2 1.3 2 1.2 2 1.3 2 1.2 2 1.3 2 1.2 1.9 1.3 1.9 1.2 1.9 1.3 1.8 1.2 1.9 1.3 1.8 1.2 1.9 1.3 1.9 1.2 1.8 1.3 1.9 1.2 1.8 1.3 1.9 1.2 1.8 1.3 1.9 1.2 1.8 1.3 1.8 1.2 1.8 1.3 1.8 1.2 1.8 1.3 1.8 1.2 1.7 1.3 1.8 1.2 1.7 1.3 1.7 1.2 1.6 1.3 1.7 1.2 1.6 1.3 1.6 1.2 1.5 1.3 1.6 1.2 1.5 1.3 1.5 1.2 1.6 1.3 1.4 1.2 1.5 1.3 1.5 1.2 1.4 1.3 1.4 1.2 1.4 1.3 1.4 1.2 1.4 1.3 1.3 1.2 1.3 1.3 1.3 1.2 1.2 1.3 1.3 1.2 1.2 1.3 1.2 1.2 1.2 1.3 1.1 1.2 1.1 1.3 1 1.2 1 1.3 .8 1.2 .8 1.3 .8 1.2 .7 1.3 .6 1.2 .6 1.3 .5 1.2 .5 1.3 .5 1.2 .5 1.3 .5 1.2 .4 1.3 .4 1.2 .2 1.3 0 1.2 0 1.3-.1 1.2-.1 1.3-.1 1.2-.1 1.3-.4 1.2-.8 1.3-1.2 1.2-1.4 1.3-1.6 1.2-1.8 1.3-2.5 1.2-2.9 1.3-3.6 1.2-4.2 1.3-6.1 1.2-8.7 1.3-9.4 1.2-8.3 1.3-7.2 1.2-6.9 1.3-6.7 1.2-6.6 1.3-6.6 1.2-7.1 1.3-7.3 1.2-6.7 1.3-5.1 1.2-3.4 1.3-3.3 1.2-5.3 1.3-11.9 1.2-16.1 1.3-21.2 1.2-20.8 1.3-18.1 1.2-12 1.3-6.5 1.2 3.4 1.3 7.5 1.2 12 1.3 13.3 1.2 14.5 1.3 14.1 1.2 12.2 1.3 11.6 1.2 12.2 1.3 14.3 1.2 10.2 1.3 6.1 1.2 4.8 1.3 3.6 1.2 3.1 1.3 2.9 1.2 2.3 1.3 1.2 1.2-.4 1.3-1.5 1.2-2.1 1.3-3 1.2-5.2 1.3-8.8 1.2-15.3 1.3-10.5 1.2-3.4 1.3 5.5 1.2 8.7 1.3 12.9 1.2 15.5 1.3 16.6 1.2 14.6 1.3 12.7 1.2 9.7 1.3 7.6 1.2 5.6 1.3 4.5 1.2 4.3 1.3 3.9 1.2 3.4 1.3 2.8 1.2 2.4 1.3 2.1 1.2 1.9 1.3 1.8 1.2 1.6 1.3 1.6 1.2 1.5 1.3 1.3 1.2 1.2 1.3 1.2 1.2 1.1 1.3 1 1.2 .9 1.3 .8 1.2 .6 1.3 .4 1.2 .4 1.3 .4 1.2 .4 1.3 .3 1.2 .3 1.3 .3 1.2 .3 1.3 .3 1.2 .2 1.3 .3 1.2 .2 1.3 .2 1.2 .2 1.3 .2 1.2 .2 1.3 .2 1.2 .2 1.3 .2 1.2 .2 1.3 .3 1.2 .3 1.3 .2 1.2 .3 1.3 .4 1.2 .3 1.3 .3 1.2 .4 1.3 .4 1.2 .3 1.3 .4 1.2 .4 1.3 .4 1.2 .4 1.3 .4 1.2 .3 1.3 .4 1.2 .4 1.3 .4 1.2 .4 1.3 .4 1.2 .3 1.3 .4 1.2 .4 1.3 .3 1.2 .3 1.3 .4 1.2 .3 1.3 .3 1.2 .3 1.3 .3 1.2 .3 1.3 .4 1.2 .3 1.3 .3 1.2 .4 1.3 .3 1.2 .3 1.3 .3 1.2 .3 1.3 .3 1.2 .3 1.3 .3 1.2 .3 1.3 .2 1.2 .3 1.3 .2 1.2 .2 1.3 .3 1.2 .1 1.3 .2 1.2 .2 1.3 .1 1.2 .1 1.3 .1 1.2 .1 1.3 .1 1.2 0 1.3 .1 1.2 .1 1.3 0 1.2 .1 1.3 .1 1.2 0 1.3 .1 1.2 0 1.3 .1 1.2 0 1.3 .1 1.2 0 1.3 .1 1.2 0 1.3 .1 1.2 0 1.3 0 1.2 .1 1.3 0 1.2 0 1.3 .1 1.2 0 1.3 0 1.2 0 1.3 0 1.2 .1 1.3 0 1.2 0 1.3 0 1.2 .1 1.3 0 1.2 0 1.3 0 1.2 .1 1.3 0 1.2 .1 1.3 0 1.2 .1 1.3 .2 1.2 .1 1.3 .2 1.2 .2 1.3 .2 1.2 .2 1.3 .3 1.2 .2 1.3 .3 1.2 .3 1.3 .2 1.2 .3 1.3 .3 1.2 .3 1.3 .3 1.2 .3 1.3 .2 1.2 .3 1.3 .2 1.2 .3 1.3 .2 1.2 .2 1.3 .2 1.2 .2 1.3 .1 1.2 .2 1.3 .2 1.2 .1 1.3 .2 1.2 .1 1.3 .2 1.2 .1 1.3 .2 1.2 .1 1.3 .1 1.2 .1 1.3 0 1.2 .1 1.3 0 1.2 0 1.3-.2 1.2-.1 1.3-.4 1.2-1.4 1.3-2 1.2-1.4 1.3-1.2 1.2-1.1 1.3-.3 1.2 .8 1.3 1.7 1.2 2.2 1.3 3 1.2 1.9 1.3 .7 1.2-.3 1.3-.6 1.2-1 1.3-1.6 1.2-.7 1.3-.3 1.2 .2 1.3 .9 1.2 1 1.3 .7 1.2 .7 1.3 .6 1.2 .5 1.3 .3 1.2 0 1.3-.1 1.2 0 1.3 0 1.2-.1 1.3-.1 1.2 0 1.3-.1 1.2-.1 1.3-.1 1.2-.1 1.3-.1 1.2 0 1.3-.1 1.2-.1 1.3 0 1.2-.1 1.3-.1 1.2-.1 1.3-.1 1.2 0 1.3-.1 1.2-.1 1.3-.1 1.2-.1 1.3-.1 1.2 0 1.3-.1 1.2-.1 1.3-.1 1.2 0 1.3-.1 1.2-.1 1.3 0 1.2-.1 1.3-.1 1.2 0 1.3-.1 1.2 0 1.3-.1 1.2-.1 1.3 0 1.2-.1 1.3 0 1.2-.1 1.3-.1 1.2 0 1.3-.1 1.2 0 1.3-.1 1.2-.1 1.3 0 1.2-.1 1.3 0 1.2-.1 1.3 0 1.2-.1 1.3 0 1.2-.1 1.3 0 1.2-.1 1.3 0 1.2 0 1.3-.1 1.2 0 1.3-.1 1.2 0 1.3 0 1.2 0 1.3-.1 1.2 0 1.3 0 1.2 0 1.3 0 1.2 0 1.3 0 1.2 0 1.3 0 1.2 0 1.3 0 1.2 .1 1.3 0 1.2 0 1.3 0 1.2 0 1.3 0 1.2 .1 1.3 0 1.2 0 1.3 0 1.2 .1 1.3 0 1.2 0 1.3 .1 1.2 0 1.3 0 1.2 .1 1.3 0 1.2 0 1.3 .1 1.2 0 1.3 0 1.2 .1 1.3 0 1.2 .1 1.3 0 1.2 .1 1.3 0 1.2 .1 1.3 0 1.2 .1 1.3 0 1.2 .1 1.3 .1 1.2 .2 1.3 .1 1.2 .2 1.3 .2 1.2 .2 1.3 .2 1.2 .2 1.3 .2 1.2 .3 1.3 .2 1.2 .3 1.3 .3 1.2 .2 1.3 .3 1.2 .3 1.3 .3 1.2 .3 1.3 .2 1.2 .3 1.3 .3 1.2 .2 1.3 .3 1.2 .2 1.3 .3 1.2 .2 1.3 .3 1.2 .2 1.3 .3 1.2 .2 1.3 .3 1.2 .2 1.3 .3 1.2 .2 1.3 .3 1.2 .3 1.3 .2 1.2 .3 1.3 .3 1.2 .2 1.3 .3 1.2 .2 1.3 .3 1.2 .2 1.3 .3 1.2 .2 1.3 .3 1.2 .2 1.3 .2 1.2 .3 1.3 .2 1.2 .2 1.3 .2 1.2 .3 1.3 .2 1.2 .3 1.3 .3 1.2 .2 1.3 .3 1.2 .2 1.3 .3 1.2 .2 1.3 .3 1.2 .2 1.3 0 1.2 .3 1.3 .4 1.2 0 1.3 .1 1.2-.2 1.3 .1 1.2 .5 1.3-.2 1.2-.3 1.3 .3 1.2-.1 1.3-.5 1.2 .1 1.3 0 1.2 0 1.3-.1 1.2-.6 1.3-.2 1.2 .2 1.3-.5 1.2-.3 1.3 .1 1.2-.2 1.3-.6 1.2-.3 1.3-.4 1.2 0 1.3-.1 1.2-.7 1.3-.4 1.2-.2 1.3-.8 1.2-.7 1.3-.5 1.2-.8 1.3-.9 1.2-1.1 1.3-1.2 1.2-1.1 1.3-1.5 1.2-2.5 1.3-2.9 1.2-3.6 1.3-5.3 1.2-8.9 1.3-16.1 1.2-20.5 1.3-25.8 1.2-23.1 1.3-21.9 1.2-18.8 1.3-15.3 1.2-9.3 1.3-2.5 1.2 8.8 1.3 17.7 1.2 23.7 1.3 25.7 1.2 21.7 1.3 16.2 1.2 10.5 1.3 7.7 1.2 6.4 1.3 5.2 1.2 3.7 1.3 3.9 1.2 4 1.3 3.5 1.2 2.9 1.3 1.5 1.2 1.5 1.3 2.4 1.2 1.2 1.3 .4 1.2 1.1 1.3-.2 1.2-1.8 1.3-1.6 1.2-1.5 1.3-1.2 1.2-1.2 1.3-2.5 1.2-2.3 1.3-1.6 1.2-3 1.3-3.7 1.2-2.1 1.3-1.8 1.2-1.9 1.3-1.5 1.2-1.2 1.3-.5 1.2-.2 1.3-.6 1.2 0 1.3 .7 1.2 .1 1.3 .1 1.2 .8 1.3 1 1.2 1.6 1.3 1.8 1.2 1.6 1.3 2.1 1.2 2.2 1.3 1.5 1.2 2 1.3 2.4 1.2 2 1.3 2 1.2 2.1 1.3 2 1.2 2.2 1.3 2 1.2 1.3 1.3 1.7 1.2 1.6 1.3 .6 1.2 1 1.3 1.7 1.2 1 1.3 1 1.2 .6 1.3 .3 1.2 1.2 1.3 .7 1.2-.1 1.3 1.2 1.2 1 1.3-.4 1.2 .2 1.3 .7 1.2 .6 1.3 .8 1.2 .2 1.3-.1 1.2 .9 1.3 0 1.2-.8 1.3 .4 1.2 .3 1.3-.9 1.2-.8 1.3-.9 1.2-.7 1.3-.2 1.2-1.4 1.3-1.4 1.2-.6 1.3-1.7 1.2-2.3 1.3-1.6 1.2-2 1.3-2.5 1.2-2.9 1.3-3.6 1.2-4.1 1.3-4.6 1.2-5.9 1.3-7.8 1.2-8.6 1.3-8.4 1.2-8.4 1.3-8.2 1.2-6.7 1.3-5 1.2-3.7 1.3-2.2 1.2-1.2 1.3 1.4 1.2 2.3 1.3 .5 1.2 .1 1.3-1.1 1.2-2.7 1.3-1.6 1.2-1.2 1.3-.7 1.2 .6 1.3 2.7 1.2 3.2 1.3 4.1 1.2 3.9 1.3 4 1.2 3.7 1.3 3 1.2 3 1.3 2.4 1.2 1.1 1.3-.4 1.2-1 1.3-1.3 1.2-2 1.3-2.9 1.2-4.1 1.3-6.5 1.2-6.9 1.3-7.6 1.2-7.7 1.3-6.1 1.2-5 1.3-2.9 1.2-1.7 1.3-.1 1.2 2.4 1.3 3.4 1.2 4.9 1.3 4.5 1.2 4.1 1.3 2.8 1.2 2 1.3 .5 1.2-.2 1.3-.2 1.2-.3 1.3-.4 1.2-.6 1.3-.8 1.2-1 1.3-1.4 1.2-1.6 1.3-1.4 1.2-1.5 1.3-1.3 1.2-.3 1.3 2.4 1.2 4.1 1.3 7 1.2 6.6 1.3 5.4 1.2 4.3 1.3 3.2 1.2 2.7 1.3 1.3 1.2-.4 1.3-1.1 1.2-1.6 1.3-1.7 1.2-1.6 1.3-1.3 1.2-1.4 1.3-1.4 1.2-1.4 1.3-1.5 1.2-1.4 1.3-1.5 1.2-1.6 1.3-1.8 1.2-1.8 1.3-1.6 1.2-1.3 1.3-1.2 1.2-1.1 1.3-.9 1.2-.6 1.3 .3 1.2 1.1 1.3 1.7 1.2 2 1.3 2.9 1.2 2.9 1.3 2.3 1.2 2 1.3 1.6 1.2 0 1.3-3.1 1.2-4.7 1.3-5.2 1.2-6.6 1.3-6.3 1.2-4.5 1.3-3.7 1.2-3.3 1.3-2.9 1.2-2.8 1.3-4.1 1.2-7.6 1.3-10.3 1.2-13.3 1.3-16.8 1.2-21.2 1.3-20 1.2-15.9 1.3-9.2 1.2-4.4 1.3-1.6 1.2 .9 1.3 4.7 1.2 6.7 1.3 9.7 1.2 10.4 1.3 11.7 1.2 10.1 1.3 9.8 1.2 6.1 1.3-1.8 1.2-6 1.3-8.5 1.2-11.7 1.3-11.2 1.2-9.5 1.3-6.4 1.2-5.1 1.3-3.7 1.2-3 1.3-2.6 1.2-1.7 1.3-.1 1.2 1.5 1.3 2.7 1.2 4.3 1.3 7.9 1.2 6.2 1.3 4.4 1.2 3 1.3 .2 1.2-2.1 1.3-2.8 1.2-3.6 1.3-4.3 1.2-3.5 1.3-2.5 1.2-2.3 1.3-3.1 1.2-4.2 1.3-3.9 1.2-2.4 1.3-2 1.2-1.3 1.3-.2 1.2 1.4 1.3 2 1.2 2.2 1.3 2.8 1.2 2.4 1.3 1.1 1.2 .4 1.3 .6 1.2 .9 1.3 1.1 1.2 1.8 1.3 3.5 1.2 4.7 1.3 5.1 1.2 5.8 1.3 5.8 1.2 5.3 1.3 5.2 1.2 4.7 1.3 4.3 1.2 3.8 1.3 3 1.2 2.4 1.3 2.3 1.2 2.1 1.3 1.8 1.2 2.3 1.3 4.5 1.2 7.5 1.3 8.7 1.2 10.8 1.3 10.4 1.2 8.5 1.3 7.7 1.2 7.4 1.3 7.2 1.2 7.5 1.3 8 1.2 8.6 1.3 8.6 1.2 8.2 1.3 7.6 1.2 6.5 1.3 5.6 1.2 5.2 1.3 5 1.2 4.8 1.3 4.6 1.2 4.1 1.3 3.7 1.2 3.4 1.3 3.1 1.2 2.7 1.3 2.4 1.2 2.4 1.3 2 1.2 1 1.3-.3 1.2-.8 1.3-1.6 1.2-4 1.3-3.8 1.2-2.6 1.3-1.8 1.2 .8 1.3 4.2 1.2 4.8 1.3 6.2 1.2 5.6 1.3 3.7 1.2 3.1 1.3 2.7 1.2 2.2 1.3 1.9 1.2 1.7 1.3 1.6 1.2 1.3 1.3 1.2 1.2 1.2 1.3 1 1.2 .8 1.3 .7 1.2 .6 1.3 .5 1.2 .4 1.3 .4 1.2 .2 1.3 0 1.2-.1 1.3-.2 1.2-.4 1.3-.3 1.2-.4 1.3-.5 1.2-.4 1.3-.4 1.2-.4 1.3-.6 1.2-.5 1.3-.6 1.2-.5 1.3-.6 1.2-.5 1.3-.5 1.2-.5 1.3-.5 1.2-.4 1.3-.5 1.2-.4 1.3-.5 1.2-.5 1.3-.5 1.2-.6 1.3-.5 1.2-.6 1.3-.7 1.2-.8 1.3-1.1 1.2-1.5 1.3-1.6 1.2-1.8 1.3-2 1.2-2.3 1.3-2.6 1.2-2.8 1.3-3.1 1.2-3.4 1.3-3.4 1.2-3 1.3-2.6 1.2-2.6 1.3-2.4 1.2-1.8 1.3-1.2 1.2-.8 1.3-.7 1.2-.5 1.3-.5 1.2-.4 1.3-.3 1.2-.2 1.3-.1 1.2-.2 1.3-.1 1.2-.1 1.3-.2 1.2-.3 1.3-.7 1.2-1.7 1.3-2.5 1.2-2.8 1.3-4.7 1.2-5.1 1.3-3.4 1.2-2.8 1.3-2 1.2-.3 1.3 .6 1.2 .9 1.3 1.4 1.2 2 1.3 1.6 1.2 1.2 1.3 .8 1.2 .1 1.3-1.2 1.2-1.7 1.3-2 1.2-2.8 1.3-3.2 1.2-3.3 1.3-2.7 1.2-2.6 1.3-2.3 1.2-1.5 1.3-1.3 1.2-.9 1.3-.3 1.2 .3 1.3 .5 1.2 .5 1.3 .6 1.2 .5 1.3 .6 1.2 .7 1.3 .6 1.2 .5 1.3 .5 1.2 .3 1.3 .3 1.2 .2 1.3 .3 1.2 .2 1.3 .2 1.2 .2 1.3 .1 1.2 0 1.3 .1 1.2 0 1.3-.2 1.2 .5 1.3 2.2 1.2 3.2 1.3 3.3 1.2 4.4 1.3 4.4 1.2 2.3 1.3 .4 1.2 .3 1.3 .1 1.2 .1 1.3-.2 1.2-.3 1.3-.2 1.2-.2 1.3 .5 1.2 1.1 1.3 1.4 1.2 1.2 1.3 1 1.2 1.1 1.3 1.1 1.2 1.2 1.3 1.1 .1 0"/>
<path id="a5" class="c" d="M124 943.6l.8 0 .7 0 .8 0 .7 0 .8 0 .7 0 .8 0 .7 0 .8 0 .7 0 .8 0 .7 0 .8 0 .7 0 .8 0 .7 0 .8 0 .7 0 .8 0 .7 0 .8 0 .7 0 .8 0 .7 0 .8 0 .7 0 .8 0 .7 0 .8 0 .7 0 .8 0 .7 .1 .8 .2 .7 .1 .8 .1 .7 .1 .8 .1 .7 .1 .8 .1 .7 .1 .8 .1 .7 0 .8-.3 .7-.3 .8-.4 .7-.3 .8-.3 .7-.3 .8-.3 .7-.1 .8 .5 .7 .5 .8 .4 .7 .5 .8 .4 .7-.7 .8-.7 .7-.7 .8-.7 .7-.7 .8 0 .7 .1 .8 .1 .7 .1 .8 .2 .7 .1 .8 .2 .7 .6 .8 .6 .7 .7 .8 .6 .7 .7 .8 0 .7-.2 .8-.2 .7-.3 .8-.2 .7-.2 .8-.2 .7-.2 .8-.3 .7-.2 .8-.3 .7-.2 .8-.3 .7 .2 .8 .5 .7 .5 .8 .5 .7-.1 .8-.7 .7-.8 .8-.7 .7-.2 .8 .3 .7 .3 .8 .2 .7 .3 .8 .3 .7 .2 .8 .3 .7 .2 .8 .3 .7 .2 .8 .3 .7 .3 .8-.1 .7-.6 .8-.6 .7-.7 .8-.2 .7 .4 .8 .5 .7 .5 .8 .5 .7 .5 .8-.8 .7-.7 .8-.7 .7-.7 .8 .3 .7 .4 .8 .4 .7 .3 .8 .4 .7 .4 .8 0 .7-.3 .8-.4 .7-.4 .8-.3 .7-.4 .8-.3 .7 .6 .8 .8 .7 .9 .8 .9 .7 .8 .8 .1 .7-.7 .8-.8 .7-.8 .8-.7 .7-.8 .8-.8 .7-.3 .8-.1 .7-.2 .8-.2 .7-.1 .8 .1 .7 .4 .8 .4 .7 .3 .8 .4 .7 .2 .8-.2 .7-.2 .8-.2 .7-.2 .8-.2 .7-.7 .8-.8 .7-.9 .8-.8 .7-.7 .8 .5 .7 .5 .8 .6 .7 .5 .8 .5 .7 .5 .8 .4 .7 .3 .8 .4 .7 .3 .8 .4 .7 .3 .8 .2 .7 .2 .8 .1 .7 .2 .8 .1 .7 .2 .8 .1 .7-.9 .8-.9 .7-.9 .8-.8 .7-.9 .8-.1 .7 .4 .8 .3 .7 .3 .8 .2 .7 .3 .8 .3 .7 .3 .8-.4 .7-.6 .8-.5 .7-.6 .8-.6 .7-.6 .8-.6 .7-.7 .8 .3 .7 .4 .8 .4 .7 .4 .8-.7 .7-.8 .8-.9 .7-.8 .8-.2 .7 0 .8 0 .7 0 .8 0 .7-.1 .8 .3 .7 1.2 .8 1.3 .7 1.2 .8 1.1 .7 1.2 .8-2.3 .7-2.3 .8-2.3 .7-2.4 .8-2.3 .7-.8 .8 .1 .7 .1 .8 .1 .7 .9 .8 1.3 .7 1.2 .8 1.3 .7 .3 .8-.1 .7-.2 .8-.1 .7-.8 .8-1 .7-1.1 .8-1 .7-1.1 .8-1 .7-.8 .8 .2 .7 .2 .8 .2 .7 .2 .8 .2 .7 .2 .8-.5 .7-1.3 .8-1.4 .7-.2 .8 .1 .7 0 .8 .1 .7 0 .8-.3 .7-.7 .8-.6 .7-.7 .8-.7 .7-.7 .8-.7 .7 0 .8 .2 .7 .2 .8 .2 .7 .2 .8 .2 .7 .2 .8 .2 .7 .2 .8-.3 .7-.7 .8-.6 .7-.7 .8-.7 .7-.6 .8-.7 .7-.7 .8-.3 .7-.2 .8-.1 .7-.1 .8-.1 .7-.1 .8-.2 .7-.1 .8-.6 .7-.6 .8-.5 .7-.6 .8-.6 .7-.6 .8-.6 .7-.5 .8-.1 .7-.1 .8-.1 .7-.1 .8-.1 .7-.1 .8-.1 .7 0 .8-.1 .7-.3 .5-.3 1.2-.7 1.3-.7 1.2-.7 1.3-.7 1.2-.6 1.3-.2 1.2-.2 1.3-.1 1.2-.1 1.3-.2 1.2-.4 1.3-.6 1.2-.5 1.3-.6 1.2-.5 1.3-.6 1.2-.4 1.3-.1 1.2-.1 1.3-.1 1.2-.1 1.3 0 1.2-.1 1.3-.2 1.2-.3 1.3-.3 1.2-.3 1.3-.3 1.2-.2 1.3-.3 1.2-.1 1.3-.1 1.2 0 1.3 0 1.2 0 1.3 0 1.2 0 1.3-.1 1.2-.1 1.3-.2 1.2-.2 1.3-.2 1.2-.1 1.3-.1 1.2-.2 1.3 0 1.2 .1 1.3 0 1.2 .1 1.3 .1 1.2 .2 1.3 .1 1.2 .1 1.3 .1 1.2 0 1.3 0 1.2 .1 1.3 0 1.2 0 1.3 .1 1.2 0 1.3 .1 1.2 .1 1.3 .1 1.2 .2 1.3 .1 1.2 .2 1.3 .1 1.2 .2 1.3 .2 1.2 .2 1.3 .1 1.2 .2 1.3 .2 1.2 .2 1.3 .2 1.2 .2 1.3 .2 1.2 .2 1.3 .2 1.2 .2 1.3 .2 1.2 .3 1.3 .2 1.2 .3 1.3 .3 1.2 .2 1.3 .3 1.2 .3 1.3 .3 1.2 .3 1.3 .3 1.2 .3 1.3 .3 1.2 .3 1.3 .3 1.2 .3 1.3 .3 1.2 .2 1.3 .3 1.2 .3 1.3 .3 1.2 .2 1.3 .3 1.2 .3 1.3 .3 1.2 .3 1.3 .2 1.2 .3 1.3 .3 1.2 .3 1.3 .3 1.2 .3 1.3 .3 1.2 .3 1.3 .3 1.2 .3 1.3 .2 1.2 .3 1.3 .3 1.2 .3 1.3 .4 1.2 .3 1.3 .3 1.2 .3 1.3 .3 1.2 .3 1.3 .3 1.2 .3 1.3 .4 1.2 .3 1.3 .4 1.2 .3 1.3 .4 1.2 .3 1.3 .4 1.2 .3 1.3 .4 1.2 .4 1.3 .3 1.2 .4 1.3 .4 1.2 .3 1.3 .4 1.2 .4 1.3 .3 1.2 .4 1.3 .3 1.2 .4 1.3 .3 1.2 .3 1.3 .3 1.2 .4 1.3 .3 1.2 .2 1.3 .3 1.2 .3 1.3 .3 1.2 .2 1.3 .3 1.2 .2 1.3 .2 1.2 .3 1.3 .2 1.2 .3 1.3 .2 1.2 .2 1.3 .3 1.2 .2 1.3 .2 1.2 .2 1.3 .2 1.2 .2 1.3 .3 1.2 .2 1.3 .2 1.2 .2 1.3 .1 1.2 .2 1.3 .2 1.2 .2 1.3 .2 1.2 .1 1.3 .2 1.2 .2 1.3 .1 1.2 .2 1.3 .1 1.2 .2 1.3 .1 1.2 .1 1.3 .2 1.2 .1 1.3 .2 1.2 .1 1.3 .1 1.2 .2 1.3 .1 1.2 .2 1.3 .1 1.2 .1 1.3 .1 1.2 .1 1.3 .1 1.2 .1 1.3 0 1.2 .1 1.3 0 1.2 0 1.3 0 1.2-.1 1.3 0 1.2-.2 1.3-.1 1.2-.2 1.3-.1 1.2-.2 1.3-.2 1.2-.3 1.3-.2 1.2-.2 1.3-.2 1.2-.3 1.3-.3 1.2-.4 1.3-.4 1.2-.5 1.3-.4 1.2-.5 1.3-.5 1.2-.5 1.3-.4 1.2-.5 1.3-.4 1.2-.3 1.3-.4 1.2-.4 1.3-.5 1.2-.4 1.3-.3 1.2-.3 1.3-.2 1.2-.1 1.3 .1 1.2 .2 1.3 .3 1.2 .4 1.3 .5 1.2 .5 1.3 .5 1.2 .5 1.3 .5 1.2 .3 1.3 .3 1.2 .2 1.3 .2 1.2 .2 1.3 .1 1.2 .2 1.3 .1 1.2 .1 1.3 .2 1.2 .1 1.3 .1 1.2 .1 1.3 .2 1.2 .1 1.3 .2 1.2 .2 1.3 .1 1.2 .3 1.3 .2 1.2 .3 1.3 .3 1.2 .4 1.3 .4 1.2 .4 1.3 .4 1.2 .4 1.3 .4 1.2 .3 1.3 .4 1.2 .3 1.3 .3 1.2 .2 1.3 .3 1.2 .3 1.3 .2 1.2 .3 1.3 .2 1.2 .2 1.3 .1 1.2 .2 1.3 .2 1.2 .1 1.3 .2 1.2 .1 1.3 .2 1.2 .1 1.3 .2 1.2 .1 1.3 .2 1.2 .1 1.3 .1 1.2 .1 1.3 .2 1.2 .1 1.3 .1 1.2 .1 1.3 .1 1.2 .1 1.3 .1 1.2 0 1.3 .1 1.2 .1 1.3 .1 1.2 0 1.3 .1 1.2 0 1.3 .1 1.2 0 1.3 .1 1.2 0 1.3 .1 1.2 0 1.3 .1 1.2 0 1.3 .1 1.2 0 1.3 .1 1.2 0 1.3 0 1.2 .1 1.3 0 1.2 0 1.3 .1 1.2 0 1.3 0 1.2 .1 1.3 0 1.2 0 1.3 .1 1.2 0 1.3 0 1.2 0 1.3 .1 1.2 0 1.3 0 1.2 0 1.3 .1 1.2 0 1.3 0 1.2 0 1.3 0 1.2 .1 1.3 0 1.2 0 1.3 0 1.2 0 1.3 .1 1.2 0 1.3 0 1.2 0 1.3 0 1.2 0 1.3 .1 1.2 0 1.3 0 1.2 0 1.3 0 1.2 0 1.3 .1 1.2 0 1.3 0 1.2 0 1.3 0 1.2 .1 1.3 0 1.2 0 1.3 0 1.2 0 1.3 0 1.2 0 1.3 .1 1.2 0 1.3 0 1.2 0 1.3 0 1.2 0 1.3 .1 1.2 0 1.3 0 1.2 0 1.3 0 1.2 0 1.3 0 1.2 .1 1.3 0 1.2 0 1.3 0 1.2 0 1.3 0 1.2 0 1.3 0 1.2 .1 1.3 0 1.2 0 1.3 0 1.2 0 1.3 0 1.2 0 1.3 0 1.2 .1 1.3 0 1.2 0 1.3 0 1.2 0 1.3 0 1.2 0 1.3 0 1.2 0 1.3 0 1.2 0 1.3 .1 1.2 0 1.3 0 1.2 0 1.3 0 1.2 0 1.3 0 1.2 0 1.3 0 1.2 0 1.3 0 1.2 0 1.3 0 1.2 0 1.3 .1 1.2 0 1.3 0 1.2 0 1.3 0 1.2 0 1.3 0 1.2 0 1.3 0 1.2 0 1.3 0 1.2 0 1.3 0 1.2 0 1.3 0 1.2 0 1.3 0 1.2 0 1.3 0 1.2 0 1.3-.2 1.2-.4 1.3-.4 1.2-.6 1.3-.8 1.2-1.5 1.3-1.8 1.2-1.1 1.3 .4 1.2 1.2 1.3 1.5 1.2 1.5 1.3 1.8 1.2 1.9 1.3 1.4 1.2 .1 1.3-.9 1.2-1.4 1.3-1.2 1.2-1.3 1.3-1 1.2 .1 1.3 .8 1.2 1 1.3 .6 1.2 .5 1.3 .5 1.2 .4 1.3 .4 1.2 .2 1.3 .2 1.2 0 1.3 0 1.2 0 1.3 0 1.2 0 1.3 0 1.2 0 1.3-.1 1.2 0 1.3 0 1.2 0 1.3 0 1.2-.1 1.3 0 1.2 0 1.3 0 1.2-.1 1.3 0 1.2 0 1.3-.1 1.2 0 1.3 0 1.2-.1 1.3 0 1.2 0 1.3-.1 1.2 0 1.3-.1 1.2 0 1.3 0 1.2-.1 1.3 0 1.2-.1 1.3 0 1.2 0 1.3-.1 1.2 0 1.3-.1 1.2 0 1.3 0 1.2-.1 1.3 0 1.2-.1 1.3 0 1.2 0 1.3-.1 1.2 0 1.3 0 1.2-.1 1.3 0 1.2 0 1.3-.1 1.2 0 1.3 0 1.2-.1 1.3 0 1.2 0 1.3 0 1.2-.1 1.3 0 1.2 0 1.3 0 1.2 0 1.3-.1 1.2 0 1.3 0 1.2 0 1.3 0 1.2 0 1.3 0 1.2 0 1.3 0 1.2 0 1.3 0 1.2 0 1.3 0 1.2 0 1.3 0 1.2 0 1.3 0 1.2 0 1.3 0 1.2 .1 1.3 0 1.2 0 1.3 0 1.2 0 1.3 0 1.2 0 1.3 0 1.2 0 1.3 0 1.2 .1 1.3 0 1.2 0 1.3 0 1.2 0 1.3 0 1.2 0 1.3 .1 1.2 0 1.3 0 1.2 0 1.3 0 1.2 .1 1.3 0 1.2 0 1.3 0 1.2 0 1.3 0 1.2 .1 1.3 0 1.2 0 1.3 0 1.2 0 1.3 .1 1.2 0 1.3 0 1.2 0 1.3 0 1.2 .1 1.3 0 1.2 0 1.3 0 1.2 .1 1.3 0 1.2 0 1.3 0 1.2 0 1.3 .1 1.2 0 1.3 0 1.2 0 1.3 .1 1.2 0 1.3 0 1.2 0 1.3 0 1.2 .1 1.3 0 1.2 0 1.3 .1 1.2 0 1.3 0 1.2 .1 1.3 0 1.2 .1 1.3 0 1.2 .1 1.3 0 1.2 .1 1.3 0 1.2 .1 1.3 0 1.2 .1 1.3 0 1.2 .1 1.3 0 1.2 .1 1.3 0 1.2 .1 1.3 0 1.2 .1 1.3 0 1.2 .1 1.3 0 1.2 .1 1.3 0 1.2 .1 1.3 0 1.2 .1 1.3 0 1.2 0 1.3 .1 1.2 .1 1.3-.2 1.2 .2 1.3 .2 1.2 0 1.3-.1 1.2-.2 1.3 .1 1.2 .4 1.3-.1 1.2-.2 1.3 .3 1.2 0 1.3-.3 1.2 .1 1.3 .1 1.2 .1 1.3 .1 1.2-.4 1.3 0 1.2 .3 1.3-.3 1.2-.2 1.3 .3 1.2-.1 1.3-.3 1.2-.2 1.3-.2 1.2 .1 1.3 .1 1.2-.5 1.3-.2 1.2 .1 1.3-.4 1.2-.3 1.3 .1 1.2-.2 1.3-.2 1.2-.3 1.3-.3 1.2-.2 1.3-.3 1.2-.6 1.3-.6 1.2-.5 1.3-.7 1.2-.6 1.3-.7 1.2-.6 1.3-.6 1.2-.5 1.3-.6 1.2-.6 1.3-.6 1.2-.4 1.3-.2 1.2-.1 1.3-.1 1.2 0 1.3-.1 1.2-.1 1.3 .1 1.2-.1 1.3-.2 1.2 .2 1.3 0 1.2-.5 1.3 0 1.2 .2 1.3 0 1.2 .1 1.3-.5 1.2-.3 1.3 .5 1.2-.2 1.3-.6 1.2 .6 1.3 0 1.2-.8 1.3-.4 1.2-.5 1.3-.3 1.2-.2 1.3-1.1 1.2-.8 1.3 0 1.2-.8 1.3-.9 1.2-.1 1.3-.4 1.2-.7 1.3-.6 1.2-.6 1.3-.1 1.2 .2 1.3-.2 1.2 .1 1.3 .5 1.2 0 1.3-.1 1.2 .4 1.3 .4 1.2 .4 1.3 .3 1.2 .1 1.3 .4 1.2 .7 1.3 .2 1.2 .6 1.3 .9 1.2 .6 1.3 .5 1.2 .7 1.3 .7 1.2 .9 1.3 .8 1.2 .3 1.3 .8 1.2 .9 1.3 0 1.2 .4 1.3 .9 1.2 .4 1.3 .3 1.2 0 1.3-.1 1.2 .7 1.3 .4 1.2-.4 1.3 .8 1.2 .6 1.3-.5 1.2 0 1.3 .4 1.2 .2 1.3 .5 1.2-.2 1.3-.3 1.2 .5 1.3-.1 1.2-.7 1.3 .5 1.2 .5 1.3-.3 1.2-.2 1.3-.2 1.2-.1 1.3 .5 1.2-.3 1.3-.3 1.2 .6 1.3-.2 1.2-.7 1.3 .2 1.2 .1 1.3 0 1.2-.1 1.3-.2 1.2-.2 1.3-.4 1.2-1 1.3-1.1 1.2-1 1.3-1.3 1.2-1.2 1.3-.9 1.2-.7 1.3-.2 1.2-.1 1.3 0 1.2-.1 1.3 0 1.2-.1 1.3 0 1.2-.1 1.3 0 1.2 0 1.3 0 1.2 0 1.3-.1 1.2 0 1.3 0 1.2-.1 1.3 0 1.2 0 1.3-.1 1.2-.1 1.3-.1 1.2-.1 1.3-.1 1.2-.2 1.3-.1 1.2-.2 1.3-.1 1.2-.2 1.3-.2 1.2-.1 1.3-.1 1.2-.2 1.3-.1 1.2 0 1.3-.1 1.2 0 1.3 0 1.2 .1 1.3 0 1.2 .1 1.3 .2 1.2 .1 1.3 .2 1.2 .1 1.3 .2 1.2 .2 1.3 .2 1.2 .2 1.3 .2 1.2 .2 1.3 .2 1.2 .2 1.3 .2 1.2 .2 1.3 .2 1.2 .2 1.3 .3 1.2 .3 1.3 .2 1.2 .3 1.3 .2 1.2 .3 1.3 .2 1.2 .2 1.3 .1 1.2 .1 1.3 .1 1.2 0 1.3-.1 1.2-.1 1.3-.3 1.2-.3 1.3-.3 1.2-.3 1.3-.4 1.2-.3 1.3-.4 1.2-.3 1.3-.2 1.2-.2 1.3-.2 1.2-.2 1.3-.3 1.2-.2 1.3-.2 1.2-.1 1.3-.2 1.2-.1 1.3-.1 1.2 0 1.3 0 1.2 .2 1.3 .2 1.2 .3 1.3 .3 1.2 .3 1.3 .2 1.2 .2 1.3 .1 1.2 0 1.3 .1 1.2 0 1.3 0 1.2 0 1.3 .1 1.2 0 1.3 0 1.2 0 1.3 0 1.2-.1 1.3-.5 1.2-.7 1.3-.9 1.2-1 1.3-1.1 1.2-.9 1.3-.8 1.2-1 1.3-1 1.2-1 1.3-.9 1.2-.8 1.3-.3 1.2-.1 1.3 .2 1.2 .3 1.3 .4 1.2 .4 1.3 .4 1.2 .2 1.3 .1 1.2-.3 1.3-.8 1.2-1 1.3-1.1 1.2-1.1 1.3-1 1.2-.7 1.3-.7 1.2-.8 1.3-.6 1.2-.6 1.3-.5 1.2-.4 1.3-.2 1.2-.1 1.3-.1 1.2-.1 1.3-.1 1.2-.1 1.3-.1 1.2-.2 1.3-.1 1.2-.3 1.3-.3 1.2-.5 1.3-.5 1.2-.6 1.3-.6 1.2-.5 1.3-.5 1.2-.3 1.3-.4 1.2-.3 1.3-.3 1.2-.3 1.3-.3 1.2-.2 1.3-.1 1.2 0 1.3 .3 1.2 .5 1.3 .8 1.2 .9 1.3 1 1.2 1.1 1.3 1.1 1.2 1 1.3 1 1.2 .9 1.3 .9 1.2 .9 1.3 .9 1.2 .9 1.3 .9 1.2 .9 1.3 1 1.2 1 1.3 .9 1.2 1 1.3 1 1.2 1 1.3 1.1 1.2 1.1 1.3 1.2 1.2 1.2 1.3 1.3 1.2 1.3 1.3 1.2 1.2 1.3 1.3 1.3 1.2 1.2 1.3 1.1 1.2 1.1 1.3 1.1 1.2 .9 1.3 .8 1.2 .8 1.3 .7 1.2 .6 1.3 .7 1.2 .7 1.3 .6 1.2 .6 1.3 .6 1.2 .5 1.3 .5 1.2 .5 1.3 .4 1.2 .4 1.3 .3 1.2 .3 1.3 .3 1.2 .1 1.3 .2 1.2 .1 1.3 .2 1.2 .1 1.3 .1 1.2 .1 1.3 .1 1.2 .1 1.3 .1 1.2 0 1.3 .1 1.2 0 1.3 0 1.2 0 1.3 0 1.2 0 1.3 0 1.2-.1 1.3 0 1.2 0 1.3-.1 1.2 0 1.3 0 1.2-.1 1.3 0 1.2-.1 1.3 0 1.2-.1 1.3 0 1.2-.1 1.3 0 1.2-.1 1.3 0 1.2-.1 1.3-.1 1.2 0 1.3-.1 1.2 0 1.3-.1 1.2 0 1.3-.1 1.2 0 1.3-.1 1.2-.1 1.3 0 1.2-.1 1.3 0 1.2-.1 1.3 0 1.2-.1 1.3 0 1.2-.1 1.3 0 1.2-.1 1.3 0 1.2-.1 1.3-.1 1.2 0 1.3-.1 1.2-.1 1.3 0 1.2-.1 1.3-.1 1.2 0 1.3-.1 1.2-.1 1.3 0 1.2-.1 1.3-.1 1.2-.1 1.3 0 1.2-.1 1.3-.1 1.2-.1 1.3-.1 1.2-.1 1.3-.1 1.2-.1 1.3-.1 1.2-.1 1.3-.1 1.2-.2 1.3-.1 1.2-.1 1.3-.1 1.2-.2 1.3-.1 1.2-.1 1.3-.2 1.2-.1 1.3-.1 1.2-.2 1.3-.1 1.2-.1 1.3-.1 1.2-.2 1.3-.1 1.2-.1 1.3-.1 1.2-.1 1.3-.1 1.2-.1 1.3-.2 1.2-.1 1.3-.1 1.2-.2 1.3-.1 1.2-.1 1.3-.1 1.2-.2 1.3-.1 1.2-.1 1.3-.1 1.2-.1 1.3-.1 1.2 0 1.3-.1 1.2 0 1.3-.1 1.2 0 1.3 0 1.2 0 1.3 0 1.2 .1 1.3 0 1.2 0 1.3 .1 1.2 .1 1.3 0 1.2 .1 1.3 .1 1.2 .1 1.3 0 1.2 .1 1.3 .1 1.2 .1 1.3 .1 1.2 .2 1.3 .2 1.2 .2 1.3 .2 1.2 .2 1.3 .1 1.2 .2 1.3 .1 1.2 0 1.3 0 1.2 0 1.3-.1 1.2 0 1.3-.1 1.2-.1 1.3-.1 1.2-.1 1.3-.1 1.2-.2 1.3-.1 1.2-.2 1.3-.3 1.2-.2 1.3-.3 1.2-.2 1.3-.3 1.2-.4 1.3-.3 .1 0"/>
<path id="b5" class="c" d="M137.7 2183.9l.8 0 .7 0 .8 0 .7 0 .8 0 .7 0 .8 0 .7 0 .8 0 .7 0 .8 0 .7 0 .8 0 .7 0 .8 0 .7 0 .8 0 .7 0 .8 0 .7 0 .8 0 .7 0 .8 0 .7 0 .8 0 .7 0 .8 0 .7 0 .8 0 .7 0 .8 0 .7 .1 .8 .2 .7 .1 .8 .1 .7 .1 .8 .1 .7 .1 .8 .1 .7 .1 .8 .1 .7 0 .8-.3 .7-.3 .8-.4 .7-.3 .8-.3 .7-.3 .8-.3 .7-.1 .8 .5 .7 .5 .8 .4 .7 .5 .8 .4 .7-.7 .8-.7 .7-.7 .8-.7 .7-.7 .8 0 .7 .1 .8 .1 .7 .1 .8 .2 .7 .1 .8 .2 .7 .6 .8 .6 .7 .7 .8 .6 .7 .7 .8 0 .7-.2 .8-.2 .7-.3 .8-.2 .7-.2 .8-.2 .7-.2 .8-.3 .7-.2 .8-.3 .7-.2 .8-.3 .7 .2 .8 .5 .7 .5 .8 .5 .7-.1 .8-.7 .7-.7 .8-.8 .7-.2 .8 .3 .7 .3 .8 .2 .7 .3 .8 .3 .7 .2 .8 .3 .7 .2 .8 .3 .7 .3 .8 .2 .7 .3 .8-.1 .7-.6 .8-.6 .7-.7 .8-.2 .7 .5 .8 .4 .7 .5 .8 .5 .7 .5 .8-.7 .7-.8 .8-.7 .7-.7 .8 .4 .7 .3 .8 .4 .7 .4 .8 .3 .7 .4 .8 0 .7-.3 .8-.4 .7-.3 .8-.4 .7-.4 .8-.3 .7 .6 .8 .9 .7 .8 .8 .9 .7 .8 .8 .1 .7-.7 .8-.8 .7-.8 .8-.7 .7-.8 .8-.8 .7-.3 .8-.1 .7-.2 .8-.2 .7-.1 .8 .1 .7 .4 .8 .4 .7 .3 .8 .4 .7 .2 .8-.2 .7-.2 .8-.2 .7-.2 .8-.2 .7-.7 .8-.8 .7-.9 .8-.8 .7-.7 .8 .5 .7 .5 .8 .6 .7 .5 .8 .5 .7 .5 .8 .4 .7 .3 .8 .4 .7 .3 .8 .3 .7 .4 .8 .2 .7 .1 .8 .2 .7 .1 .8 .2 .7 .2 .8 0 .7-.8 .8-.9 .7-.9 .8-.9 .7-.9 .8 0 .7 .3 .8 .3 .7 .3 .8 .3 .7 .2 .8 .3 .7 .3 .8-.4 .7-.6 .8-.6 .7-.6 .8-.6 .7-.6 .8-.6 .7-.6 .8 .2 .7 .4 .8 .4 .7 .4 .8-.7 .7-.9 .8-.9 .7-.8 .8-.2 .7 0 .8 0 .7-.1 .8 0 .7 0 .8 .2 .7 1.2 .8 1.2 .7 1.2 .8 1.2 .7 1.1 .8-2.3 .7-2.3 .8-2.4 .7-2.4 .8-2.3 .7-.8 .8 .1 .7 0 .8 .1 .7 .8 .8 1.3 .7 1.2 .8 1.3 .7 .3 .8-.2 .7-.2 .8-.2 .7-.7 .8-1.1 .7-1.1 .8-1.1 .7-1 .8-1.1 .7-.8 .8 .1 .7 .2 .8 .2 .7 .2 .8 .2 .7 .2 .8-.5 .7-1.4 .8-1.3 .7-.3 .8 .1 .7 0 .8 0 .7 .1 .8-.3 .7-.7 .8-.7 .7-.8 .8-.7 .7-.7 .8-.7 .7 0 .8 .2 .7 .2 .8 .2 .7 .2 .8 .1 .7 .2 .8 .2 .7 .1 .8-.3 .7-.7 .8-.6 .7-.7 .8-.7 .7-.7 .8-.7 .7-.7 .8-.4 .7-.1 .8-.2 .7-.1 .8-.1 .7-.2 .8-.1 .7-.2 .8-.6 .7-.6 .8-.6 .7-.6 .8-.6 .7-.6 .8-.6 .7-.6 .8-.1 .7-.2 .8-.1 .7-.1 .8-.1 .7-.1 .8-.1 .7-.1 .8-.1 .7-.3 .5-.3 1.2-.7 1.3-.8 1.2-.7 1.3-.7 1.2-.7 1.3-.2 1.2-.2 1.3-.1 1.2-.2 1.3-.2 1.2-.4 1.3-.6 1.2-.6 1.3-.6 1.2-.5 1.3-.6 1.2-.4 1.3-.2 1.2-.1 1.3-.1 1.2-.1 1.3-.1 1.2 0 1.3-.3 1.2-.3 1.3-.3 1.2-.3 1.3-.3 1.2-.3 1.3-.3 1.2-.1 1.3 0 1.2-.1 1.3 0 1.2 0 1.3 0 1.2 0 1.3-.1 1.2-.2 1.3-.1 1.2-.2 1.3-.2 1.2-.1 1.3-.2 1.2-.1 1.3 0 1.2 0 1.3 .1 1.2 .1 1.3 .1 1.2 .1 1.3 .1 1.2 .2 1.3 .1 1.2 0 1.3 0 1.2 .1 1.3 0 1.2 0 1.3 .1 1.2 .1 1.3 0 1.2 .1 1.3 .1 1.2 .2 1.3 .2 1.2 .2 1.3 .1 1.2 .2 1.3 .2 1.2 .2 1.3 .1 1.2 .2 1.3 .2 1.2 .3 1.3 .1 1.2 .2 1.3 .2 1.2 .3 1.3 .2 1.2 .3 1.3 .2 1.2 .3 1.3 .2 1.2 .3 1.3 .3 1.2 .3 1.3 .3 1.2 .3 1.3 .4 1.2 .3 1.3 .3 1.2 .3 1.3 .3 1.2 .3 1.3 .3 1.2 .3 1.3 .3 1.2 .3 1.3 .3 1.2 .3 1.3 .3 1.2 .3 1.3 .3 1.2 .3 1.3 .3 1.2 .3 1.3 .3 1.2 .3 1.3 .3 1.3 .3 1.2 .3 1.2 .4 1.3 .3 1.2 .3 1.3 .3 1.2 .3 1.3 .3 1.2 .3 1.3 .4 1.2 .3 1.3 .3 1.2 .3 1.3 .4 1.2 .3 1.3 .3 1.2 .4 1.3 .3 1.2 .3 1.3 .4 1.2 .4 1.3 .3 1.2 .4 1.3 .4 1.2 .4 1.3 .4 1.2 .4 1.3 .3 1.2 .4 1.3 .4 1.2 .4 1.3 .4 1.2 .4 1.3 .4 1.2 .4 1.3 .4 1.2 .3 1.3 .4 1.2 .4 1.3 .3 1.2 .4 1.3 .3 1.2 .4 1.3 .3 1.2 .3 1.3 .3 1.2 .3 1.3 .3 1.2 .2 1.3 .3 1.2 .3 1.3 .2 1.2 .3 1.3 .2 1.2 .3 1.3 .2 1.2 .3 1.3 .2 1.2 .3 1.3 .2 1.2 .2 1.3 .3 1.2 .2 1.3 .2 1.2 .2 1.3 .2 1.2 .3 1.3 .2 1.2 .2 1.3 .2 1.2 .1 1.3 .2 1.2 .2 1.3 .2 1.2 .2 1.3 .1 1.2 .2 1.3 .2 1.2 .1 1.3 .2 1.2 .1 1.3 .1 1.2 .2 1.3 .2 1.2 .1 1.3 .2 1.2 .1 1.3 .1 1.2 .2 1.3 .1 1.2 .1 1.3 .2 1.2 .1 1.3 .1 1.2 0 1.3 .1 1.2 0 1.3 .1 1.2 0 1.3 0 1.2-.1 1.3-.1 1.2-.1 1.3-.1 1.2-.2 1.3-.2 1.2-.2 1.3-.2 1.2-.3 1.3-.2 1.2-.2 1.3-.3 1.2-.3 1.3-.3 1.2-.4 1.3-.5 1.2-.5 1.3-.5 1.2-.5 1.3-.5 1.2-.5 1.3-.5 1.2-.4 1.3-.5 1.2-.4 1.3-.4 1.2-.4 1.3-.5 1.2-.4 1.3-.4 1.2-.3 1.3-.2 1.2-.1 1.3 0 1.2 .3 1.3 .3 1.2 .5 1.3 .5 1.2 .5 1.3 .6 1.2 .5 1.3 .5 1.2 .4 1.3 .3 1.2 .2 1.3 .2 1.2 .2 1.3 .2 1.2 .1 1.3 .2 1.2 .1 1.3 .1 1.2 .2 1.3 .1 1.2 .1 1.3 .2 1.2 .1 1.3 .2 1.2 .2 1.3 .2 1.2 .2 1.3 .3 1.2 .3 1.3 .4 1.2 .3 1.3 .5 1.2 .4 1.3 .4 1.2 .5 1.3 .4 1.2 .4 1.3 .3 1.2 .3 1.3 .3 1.2 .3 1.3 .3 1.2 .3 1.3 .3 1.2 .2 1.3 .3 1.2 .2 1.3 .1 1.2 .2 1.3 .2 1.2 .2 1.3 .1 1.2 .2 1.3 .2 1.2 .1 1.3 .2 1.2 .1 1.3 .2 1.2 .1 1.3 .2 1.2 .1 1.3 .1 1.2 .1 1.3 .1 1.2 .2 1.3 .1 1.2 .1 1.3 0 1.2 .1 1.3 .1 1.2 .1 1.3 .1 1.2 0 1.3 .1 1.2 .1 1.3 0 1.2 .1 1.3 0 1.2 .1 1.3 0 1.2 .1 1.3 0 1.2 .1 1.3 0 1.2 .1 1.3 0 1.2 .1 1.3 0 1.2 0 1.3 .1 1.2 0 1.3 .1 1.2 0 1.3 0 1.2 .1 1.3 0 1.2 0 1.3 .1 1.2 0 1.3 0 1.2 0 1.3 .1 1.2 0 1.3 0 1.2 0 1.3 .1 1.2 0 1.3 0 1.2 0 1.3 0 1.2 .1 1.3 0 1.2 0 1.3 0 1.2 .1 1.3 0 1.2 0 1.3 0 1.2 0 1.3 0 1.2 .1 1.3 0 1.2 0 1.3 0 1.2 0 1.3 .1 1.2 0 1.3 0 1.2 0 1.3 0 1.2 .1 1.3 0 1.2 0 1.3 0 1.2 0 1.3 0 1.2 .1 1.3 0 1.2 0 1.3 0 1.2 0 1.3 0 1.2 .1 1.3 0 1.2 0 1.3 0 1.2 0 1.3 0 1.2 .1 1.3 0 1.2 0 1.3 0 1.2 0 1.3 0 1.2 0 1.3 .1 1.2 0 1.3 0 1.2 0 1.3 0 1.2 0 1.3 0 1.2 .1 1.3 0 1.2 0 1.3 0 1.2 0 1.3 0 1.2 0 1.3 0 1.2 0 1.3 .1 1.2 0 1.3 0 1.2 0 1.3 0 1.2 0 1.3 0 1.2 0 1.3 0 1.2 0 1.3 .1 1.2 0 1.3 0 1.2 0 1.3 0 1.2 0 1.3 0 1.2 0 1.3 0 1.2 0 1.3 0 1.2 0 1.3 0 1.2 0 1.3 .1 1.2 0 1.3 0 1.2 0 1.3 0 1.2 0 1.3 0 1.2 0 1.3 0 1.2 0 1.3 0 1.2 0 1.3 0 1.2 0 1.3 0 1.2 0 1.3 0 1.2 0 1.3-.2 1.2-.4 1.3-.5 1.2-.6 1.3-.8 1.2-1.7 1.3-1.9 1.2-1.1 1.3 .3 1.2 1.3 1.3 1.7 1.2 1.5 1.3 1.9 1.2 2.1 1.3 1.5 1.2 .1 1.3-1 1.2-1.4 1.3-1.3 1.2-1.4 1.3-1.1 1.2 .1 1.3 .9 1.2 1 1.3 .7 1.2 .5 1.3 .5 1.2 .5 1.3 .4 1.2 .3 1.3 .1 1.2 0 1.3 0 1.2 0 1.3 0 1.2 0 1.3 0 1.2 0 1.3 0 1.2-.1 1.3 0 1.2 0 1.3 0 1.2 0 1.3-.1 1.2 0 1.3 0 1.2-.1 1.3 0 1.2 0 1.3-.1 1.2 0 1.3 0 1.2-.1 1.3 0 1.2 0 1.3-.1 1.2 0 1.3-.1 1.2 0 1.3-.1 1.2 0 1.3 0 1.2-.1 1.3 0 1.2-.1 1.3 0 1.2-.1 1.3 0 1.2 0 1.3-.1 1.2 0 1.3-.1 1.2 0 1.3-.1 1.2 0 1.3 0 1.2-.1 1.3 0 1.2-.1 1.3 0 1.2 0 1.3-.1 1.2 0 1.3 0 1.2-.1 1.3 0 1.2 0 1.3 0 1.2-.1 1.3 0 1.2 0 1.3 0 1.2 0 1.3-.1 1.2 0 1.3 0 1.2 0 1.3 0 1.2 0 1.3 0 1.2 0 1.3 0 1.2 0 1.3 0 1.2 0 1.3 0 1.2 0 1.3 0 1.2 0 1.3 0 1.2 0 1.3 0 1.2 .1 1.3 0 1.2 0 1.3 0 1.2 0 1.3 0 1.2 0 1.3 0 1.2 0 1.3 .1 1.2 0 1.3 0 1.2 0 1.3 0 1.2 0 1.3 0 1.2 .1 1.3 0 1.2 0 1.3 0 1.2 0 1.3 0 1.2 .1 1.3 0 1.2 0 1.3 0 1.2 0 1.3 .1 1.2 0 1.3 0 1.2 0 1.3 .1 1.2 0 1.3 0 1.2 0 1.3 0 1.2 .1 1.3 0 1.2 0 1.3 0 1.2 .1 1.3 0 1.2 0 1.3 0 1.2 .1 1.3 0 1.2 0 1.3 0 1.2 0 1.3 .1 1.2 0 1.3 0 1.2 0 1.3 .1 1.2 0 1.3 0 1.2 0 1.3 .1 1.2 0 1.3 0 1.2 .1 1.3 0 1.2 .1 1.3 0 1.2 .1 1.3 0 1.2 .1 1.3 0 1.2 .1 1.3 0 1.2 .1 1.3 0 1.2 .1 1.3 0 1.2 .1 1.3 0 1.2 .1 1.3 0 1.2 .1 1.3 .1 1.2 0 1.3 .1 1.2 0 1.3 .1 1.2 0 1.3 .1 1.2 0 1.3 .1 1.2 0 1.3 .1 1.2 0 1.3 .1 1.2 .1 1.3-.2 1.2 .2 1.3 .2 1.2 0 1.3-.1 1.2-.2 1.3 .1 1.2 .4 1.3-.1 1.2-.2 1.3 .3 1.2 0 1.3-.3 1.2 .1 1.3 .1 1.2 .2 1.3 0 1.2-.4 1.3 0 1.2 .3 1.3-.3 1.2-.2 1.3 .3 1.2-.1 1.3-.4 1.2-.1 1.3-.2 1.2 .1 1.3 0 1.2-.5 1.3-.1 1.2 0 1.3-.4 1.2-.3 1.3 0 1.2-.1 1.3-.3 1.2-.2 1.3-.4 1.2-.2 1.3-.4 1.2-.6 1.3-.6 1.2-.5 1.3-.8 1.2-.7 1.3-.7 1.2-.6 1.3-.6 1.2-.6 1.3-.6 1.2-.7 1.3-.6 1.2-.4 1.3-.2 1.2-.1 1.3-.1 1.2-.1 1.3-.1 1.2-.1 1.3 .1 1.2-.1 1.3-.2 1.2 .1 1.3 .1 1.2-.6 1.3 0 1.2 .3 1.3 0 1.2 .1 1.3-.5 1.2-.4 1.3 .6 1.2-.3 1.3-.5 1.2 .5 1.3 0 1.2-.8 1.3-.5 1.2-.5 1.3-.3 1.2-.2 1.3-1.1 1.2-.9 1.3-.1 1.2-.8 1.3-1 1.2-.1 1.3-.4 1.2-.8 1.3-.6 1.2-.6 1.3-.2 1.2 .3 1.3-.2 1.2 0 1.3 .6 1.2 0 1.3-.1 1.2 .5 1.3 .4 1.2 .4 1.3 .3 1.2 .1 1.3 .5 1.2 .6 1.3 .3 1.2 .7 1.3 .9 1.2 .7 1.3 .5 1.2 .8 1.3 .7 1.2 .9 1.3 .8 1.2 .5 1.3 .8 1.2 .9 1.3 .1 1.2 .4 1.3 .9 1.2 .4 1.3 .3 1.2 .1 1.3-.1 1.2 .8 1.3 .3 1.2-.3 1.3 .7 1.2 .7 1.3-.5 1.2 0 1.3 .4 1.2 .2 1.3 .5 1.2-.1 1.3-.4 1.2 .6 1.3-.1 1.2-.7 1.3 .5 1.2 .5 1.3-.4 1.2-.1 1.3-.3 1.2 0 1.3 .5 1.2-.4 1.3-.3 1.2 .6 1.3-.2 1.2-.6 1.3 .1 1.2 .2 1.3-.1 1.2-.1 1.3-.2 1.2-.2 1.3-.5 1.2-1 1.3-1.2 1.2-1.1 1.3-1.3 1.2-1.3 1.3-1 1.2-.7 1.3-.3 1.2 0 1.3-.1 1.2-.1 1.3 0 1.2-.1 1.3 0 1.2 0 1.3-.1 1.2 0 1.3 0 1.2 0 1.3-.1 1.2 0 1.3 0 1.2-.1 1.3 0 1.2-.1 1.3 0 1.2-.1 1.3-.1 1.2-.1 1.3-.2 1.2-.1 1.3-.2 1.2-.2 1.3-.1 1.2-.2 1.3-.2 1.2-.1 1.3-.2 1.2-.1 1.3-.1 1.2-.1 1.3 0 1.2-.1 1.3 .1 1.2 0 1.3 .1 1.2 .1 1.3 .1 1.2 .2 1.3 .2 1.2 .2 1.3 .1 1.2 .3 1.3 .2 1.2 .2 1.3 .2 1.2 .2 1.3 .2 1.2 .2 1.3 .2 1.2 .2 1.3 .2 1.2 .3 1.3 .3 1.2 .3 1.3 .2 1.2 .3 1.3 .3 1.2 .2 1.3 .3 1.2 .2 1.3 .1 1.2 .1 1.3 .1 1.2 0 1.3 0 1.2-.2 1.3-.3 1.2-.3 1.3-.3 1.2-.4 1.3-.4 1.2-.4 1.3-.3 1.2-.3 1.3-.3 1.2-.2 1.3-.2 1.2-.3 1.3-.2 1.2-.2 1.3-.2 1.2-.2 1.3-.2 1.2-.1 1.3-.1 1.2 0 1.3 0 1.2 .2 1.3 .2 1.2 .3 1.3 .4 1.2 .3 1.3 .2 1.2 .2 1.3 .1 1.2 .1 1.3 0 1.2 0 1.3 .1 1.2 0 1.3 0 1.2 0 1.3 0 1.2 0 1.3 0 1.2-.1 1.3-.5 1.2-.8 1.3-1 1.2-1 1.3-1.1 1.2-1 1.3-.9 1.2-1 1.3-1.1 1.2-1.1 1.3-1 1.2-.8 1.3-.4 1.2 0 1.3 .2 1.2 .3 1.3 .5 1.2 .4 1.3 .4 1.2 .2 1.3 .1 1.2-.4 1.3-.8 1.2-1 1.3-1.3 1.2-1.1 1.3-1.1 1.2-.7 1.3-.8 1.2-.8 1.3-.7 1.2-.6 1.3-.6 1.2-.3 1.3-.2 1.2-.2 1.3-.1 1.2-.2 1.3 0 1.2-.1 1.3-.2 1.2-.1 1.3-.2 1.2-.2 1.3-.4 1.2-.5 1.3-.6 1.2-.6 1.3-.6 1.2-.6 1.3-.5 1.2-.3 1.3-.4 1.2-.4 1.3-.3 1.2-.4 1.3-.2 1.2-.2 1.3-.1 1.2 0 1.3 .2 1.2 .6 1.3 .8 1.2 1 1.3 1.1 1.2 1.1 1.3 1.1 1.2 1.1 1.3 1 1.2 .8 1.3 .9 1.2 1 1.3 .9 1.2 .9 1.3 1 1.2 .9 1.3 1 1.2 1 1.3 1 1.2 1 1.3 1 1.2 1 1.3 1.1 1.2 1.2 1.3 1.2 1.2 1.2 1.3 1.3 1.2 1.4 1.3 1.3 1.2 1.3 1.3 1.3 1.2 1.2 1.3 1.2 1.2 1.1 1.3 1.1 1.2 .9 1.3 .9 1.2 .7 1.3 .7 1.2 .7 1.3 .6 1.2 .7 1.3 .6 1.2 .6 1.3 .5 1.2 .6 1.3 .5 1.2 .4 1.3 .4 1.2 .4 1.3 .3 1.2 .3 1.3 .2 1.2 .1 1.3 .1 1.2 .1 1.3 .1 1.2 .1 1.3 .1 1.2 .1 1.3 0 1.2 .1 1.3 0 1.2 0 1.3 0 1.2 0 1.3-.1 1.2 0 1.3-.1 1.2 0 1.3 0 1.2 0 1.3 0 1.2-.1 1.3 0 1.2 0 1.3 0 1.2-.1 1.3 0 1.2-.1 1.3 0 1.2 0 1.3-.1 1.2 0 1.3-.1 1.2 0 1.3-.1 1.2 0 1.3-.1 1.2 0 1.3-.1 1.2 0 1.3-.1 1.2 0 1.3-.1 1.2 0 1.3-.1 1.2 0 1.3-.1 1.2 0 1.3-.1 1.2 0 1.3 0 1.2-.1 1.3 0 1.2-.1 1.3 0 1.2-.1 1.3 0 1.2-.1 1.3 0 1.2-.1 1.3-.1 1.2 0 1.3-.1 1.2 0 1.3-.1 1.2-.1 1.3 0 1.2-.1 1.3-.1 1.2 0 1.3-.1 1.2-.1 1.3 0 1.2-.1 1.3-.1 1.2-.1 1.3-.1 1.2-.1 1.3-.1 1.2-.1 1.3-.1 1.2-.1 1.3-.1 1.2-.1 1.3-.1 1.2-.2 1.3-.1 1.2-.1 1.3-.2 1.2-.1 1.3-.1 1.2-.2 1.3-.1 1.2-.1 1.3-.1 1.2-.2 1.3-.1 1.2-.1 1.3-.1 1.2-.1 1.3-.1 1.2-.1 1.3-.1 1.2-.2 1.3-.1 1.2-.1 1.3-.1 1.2-.2 1.3-.1 1.2-.1 1.3-.1 1.2-.2 1.3-.1 1.2-.1 1.3-.1 1.2-.1 1.3 0 1.2-.1 1.3-.1 1.2 0 1.3 0 1.2 0 1.3 0 1.2 0 1.3 0 1.2 .1 1.3 0 1.2 .1 1.3 0 1.2 .1 1.3 .1 1.2 .1 1.3 .1 1.2 .1 1.3 .1 1.2 .1 1.3 .1 1.2 .1 1.3 .1 1.2 .2 1.3 .3 1.2 .2 1.3 .2 1.2 .2 1.3 .2 1.2 .1 1.3 .1 1.2 .1 1.3 0 1.2 0 1.3 0 1.2-.1 1.3 0 1.2-.1 1.3-.1 1.2-.1 1.3-.2 1.2-.1 1.3-.2 1.2-.2 1.3-.2 1.2-.3 1.3-.2 1.2-.3 1.3-.3 1.2-.4 1.3-.3 .1 0"/>
<path id="c5" class="c" d="M128.5 3532.6l.8 0 .7 0 .8 0 .7 0 .8 0 .7 0 .8 0 .7 0 .8 0 .7 0 .8 0 .7 0 .8 0 .7 0 .8 0 .7 0 .8 0 .7 0 .8 0 .7 0 .8 0 .7 0 .8 0 .7 0 .8 0 .7 0 .8 0 .7 0 .8 0 .7 0 .8 0 .7 .1 .8 .2 .7 .1 .8 .1 .7 .1 .8 .1 .7 .1 .8 .1 .7 .1 .8 .1 .7 0 .8-.3 .7-.3 .8-.4 .7-.3 .8-.3 .7-.3 .8-.3 .7-.1 .8 .5 .7 .5 .8 .4 .7 .5 .8 .4 .7-.7 .8-.7 .7-.7 .8-.7 .7-.7 .8 0 .7 .1 .8 .1 .7 .1 .8 .2 .7 .1 .8 .2 .7 .6 .8 .6 .7 .7 .8 .6 .7 .7 .8 0 .7-.2 .8-.2 .7-.3 .8-.2 .7-.2 .8-.2 .7-.2 .8-.2 .7-.3 .8-.3 .7-.2 .8-.3 .7 .2 .8 .5 .7 .5 .8 .5 .7-.1 .8-.7 .7-.7 .8-.8 .7-.2 .8 .3 .7 .3 .8 .2 .7 .3 .8 .3 .7 .2 .8 .3 .7 .3 .8 .2 .7 .3 .8 .2 .7 .3 .8-.1 .7-.6 .8-.6 .7-.7 .8-.2 .7 .5 .8 .4 .7 .5 .8 .5 .7 .5 .8-.7 .7-.8 .8-.7 .7-.7 .8 .4 .7 .3 .8 .4 .7 .4 .8 .3 .7 .4 .8 0 .7-.3 .8-.4 .7-.3 .8-.4 .7-.3 .8-.4 .7 .6 .8 .9 .7 .8 .8 .9 .7 .9 .8 .1 .7-.8 .8-.8 .7-.7 .8-.8 .7-.8 .8-.8 .7-.2 .8-.2 .7-.2 .8-.2 .7-.1 .8 .1 .7 .4 .8 .4 .7 .3 .8 .4 .7 .2 .8-.2 .7-.2 .8-.2 .7-.2 .8-.2 .7-.7 .8-.8 .7-.9 .8-.9 .7-.6 .8 .5 .7 .5 .8 .6 .7 .5 .8 .5 .7 .5 .8 .4 .7 .3 .8 .3 .7 .4 .8 .3 .7 .4 .8 .2 .7 .1 .8 .2 .7 .1 .8 .2 .7 .1 .8 .1 .7-.9 .8-.8 .7-.9 .8-.9 .7-.9 .8-.1 .7 .3 .8 .3 .7 .3 .8 .3 .7 .3 .8 .2 .7 .3 .8-.4 .7-.6 .8-.6 .7-.6 .8-.6 .7-.6 .8-.7 .7-.6 .8 .2 .7 .4 .8 .4 .7 .4 .8-.8 .7-.8 .8-.9 .7-.9 .8-.1 .7-.1 .8 0 .7-.1 .8 0 .7-.1 .8 .2 .7 1.3 .8 1.2 .7 1.1 .8 1.2 .7 1.1 .8-2.3 .7-2.4 .8-2.4 .7-2.4 .8-2.4 .7-.7 .8 0 .7 0 .8 .1 .7 .8 .8 1.2 .7 1.2 .8 1.3 .7 .2 .8-.2 .7-.2 .8-.2 .7-.8 .8-1.1 .7-1.1 .8-1 .7-1.1 .8-1.1 .7-.9 .8 .2 .7 .2 .8 .1 .7 .2 .8 .2 .7 .2 .8-.6 .7-1.3 .8-1.4 .7-.3 .8 0 .7 .1 .8 0 .7 0 .8-.3 .7-.7 .8-.8 .7-.7 .8-.7 .7-.7 .8-.7 .7 0 .8 .1 .7 .2 .8 .2 .7 .1 .8 .2 .7 .1 .8 .2 .7 .1 .8-.3 .7-.7 .8-.7 .7-.7 .8-.7 .7-.7 .8-.8 .7-.7 .8-.4 .7-.1 .8-.2 .7-.1 .8-.2 .7-.2 .8-.1 .7-.2 .8-.6 .7-.7 .8-.6 .7-.6 .8-.6 .7-.7 .8-.6 .7-.6 .8-.1 .7-.2 .8-.1 .7-.2 .8-.1 .7-.1 .8-.1 .7-.1 .8-.1 .7-.3 .5-.3 1.2-.8 1.3-.8 1.2-.7 1.3-.8 1.2-.7 1.3-.2 1.2-.2 1.3-.2 1.2-.2 1.3-.2 1.2-.4 1.3-.6 1.2-.7 1.3-.6 1.2-.5 1.3-.6 1.2-.5 1.3-.2 1.2-.1 1.3-.1 1.2-.1 1.3-.1 1.2-.1 1.3-.2 1.2-.4 1.3-.3 1.2-.3 1.3-.3 1.2-.3 1.3-.3 1.2-.1 1.3-.1 1.2 0 1.3 0 1.2 0 1.3 0 1.2-.1 1.3 0 1.2-.2 1.3-.2 1.2-.2 1.3-.2 1.2-.1 1.3-.2 1.2-.1 1.3 0 1.2 0 1.3 .1 1.2 .1 1.3 .1 1.2 .1 1.3 .2 1.2 .1 1.3 .1 1.2 0 1.3 0 1.2 .1 1.3 0 1.2 .1 1.3 .1 1.2 0 1.3 .1 1.2 .1 1.3 .1 1.2 .2 1.3 .2 1.2 .2 1.3 .1 1.2 .2 1.3 .2 1.2 .2 1.3 .2 1.2 .2 1.3 .2 1.2 .2 1.3 .2 1.2 .2 1.3 .3 1.2 .2 1.3 .2 1.2 .3 1.3 .3 1.2 .3 1.3 .2 1.2 .3 1.3 .3 1.2 .3 1.3 .4 1.2 .3 1.3 .4 1.2 .3 1.3 .3 1.2 .4 1.3 .3 1.2 .3 1.3 .3 1.2 .4 1.3 .3 1.2 .3 1.3 .3 1.2 .3 1.3 .3 1.2 .3 1.3 .4 1.2 .3 1.3 .3 1.2 .3 1.3 .3 1.2 .3 1.3 .4 1.2 .3 1.3 .3 1.2 .3 1.3 .4 1.2 .3 1.3 .3 1.2 .4 1.3 .3 1.2 .3 1.3 .4 1.2 .3 1.3 .4 1.2 .3 1.3 .3 1.2 .4 1.3 .3 1.2 .4 1.3 .4 1.2 .3 1.3 .4 1.2 .4 1.3 .4 1.2 .4 1.3 .4 1.2 .4 1.3 .4 1.2 .4 1.3 .4 1.2 .4 1.3 .4 1.2 .5 1.3 .4 1.2 .4 1.3 .4 1.2 .4 1.3 .4 1.2 .4 1.3 .4 1.2 .4 1.3 .4 1.2 .3 1.3 .4 1.2 .3 1.3 .4 1.2 .3 1.3 .3 1.2 .3 1.3 .3 1.2 .3 1.3 .3 1.2 .3 1.3 .3 1.2 .2 1.3 .3 1.2 .3 1.3 .2 1.2 .3 1.3 .2 1.2 .3 1.3 .2 1.2 .3 1.3 .2 1.2 .3 1.3 .2 1.2 .2 1.3 .3 1.2 .2 1.3 .2 1.2 .2 1.3 .2 1.2 .2 1.3 .2 1.2 .2 1.3 .2 1.2 .2 1.3 .2 1.2 .1 1.3 .2 1.2 .2 1.3 .1 1.2 .2 1.3 .1 1.2 .2 1.3 .1 1.2 .2 1.3 .2 1.2 .1 1.3 .2 1.2 .1 1.3 .2 1.2 .1 1.3 .1 1.2 .1 1.3 .1 1.2 .1 1.3 .1 1.2 0 1.3 .1 1.2 0 1.3 0 1.2-.1 1.3-.1 1.2-.1 1.3-.2 1.2-.2 1.3-.2 1.2-.2 1.3-.2 1.2-.3 1.3-.2 1.2-.3 1.3-.2 1.2-.3 1.3-.4 1.2-.4 1.3-.5 1.2-.5 1.3-.5 1.2-.6 1.3-.5 1.2-.6 1.3-.5 1.2-.5 1.3-.4 1.2-.4 1.3-.5 1.2-.5 1.3-.4 1.2-.5 1.3-.4 1.2-.3 1.3-.2 1.2-.1 1.3 0 1.2 .3 1.3 .3 1.2 .5 1.3 .6 1.2 .5 1.3 .6 1.2 .6 1.3 .5 1.2 .4 1.3 .3 1.2 .2 1.3 .2 1.2 .2 1.3 .2 1.2 .2 1.3 .1 1.2 .2 1.3 .1 1.2 .2 1.3 .1 1.2 .2 1.3 .1 1.2 .2 1.3 .2 1.2 .1 1.3 .3 1.2 .2 1.3 .3 1.2 .3 1.3 .4 1.2 .4 1.3 .4 1.2 .5 1.3 .5 1.2 .4 1.3 .5 1.2 .4 1.3 .3 1.2 .4 1.3 .3 1.2 .3 1.3 .3 1.2 .3 1.3 .3 1.2 .3 1.3 .2 1.2 .2 1.3 .2 1.2 .2 1.3 .2 1.2 .2 1.3 .2 1.2 .1 1.3 .2 1.2 .2 1.3 .1 1.2 .2 1.3 .1 1.2 .2 1.3 .1 1.2 .2 1.3 .1 1.2 .1 1.3 .1 1.2 .2 1.3 .1 1.2 .1 1.3 .1 1.2 .1 1.3 .1 1.2 0 1.3 .1 1.2 .1 1.3 0 1.2 .1 1.3 .1 1.2 0 1.3 .1 1.2 0 1.3 .1 1.2 0 1.3 .1 1.2 .1 1.3 0 1.2 .1 1.3 0 1.2 0 1.3 .1 1.2 0 1.3 .1 1.2 0 1.3 .1 1.2 0 1.3 0 1.2 .1 1.3 0 1.2 0 1.3 .1 1.2 0 1.3 0 1.2 .1 1.3 0 1.2 0 1.3 0 1.2 .1 1.3 0 1.2 0 1.3 0 1.2 .1 1.3 0 1.2 0 1.3 0 1.2 0 1.3 .1 1.2 0 1.3 0 1.2 0 1.3 0 1.2 .1 1.3 0 1.2 0 1.3 0 1.2 0 1.3 .1 1.2 0 1.3 0 1.2 0 1.3 0 1.2 .1 1.3 0 1.2 0 1.3 0 1.2 0 1.3 .1 1.2 0 1.3 0 1.2 0 1.3 0 1.2 .1 1.3 0 1.2 0 1.3 0 1.2 0 1.3 0 1.2 .1 1.3 0 1.2 0 1.3 0 1.2 0 1.3 0 1.2 .1 1.3 0 1.2 0 1.3 0 1.2 0 1.3 0 1.2 0 1.3 .1 1.2 0 1.3 0 1.2 0 1.3 0 1.2 0 1.3 0 1.2 .1 1.3 0 1.2 0 1.3 0 1.2 0 1.3 0 1.2 0 1.3 0 1.2 .1 1.3 0 1.2 0 1.3 0 1.2 0 1.3 0 1.2 0 1.3 0 1.2 0 1.3 0 1.2 .1 1.3 0 1.2 0 1.3 0 1.2 0 1.3 0 1.2 0 1.3 0 1.2 0 1.3 0 1.2 0 1.3 0 1.2 0 1.3 0 1.2 0 1.3 .1 1.2 0 1.3 0 1.2 0 1.3 0 1.2 0 1.3 0 1.2 0 1.3 0 1.2 0 1.3 0 1.2 0 1.3 0 1.2 0 1.3 0 1.2 0 1.3-.2 1.2-.4 1.3-.6 1.2-.6 1.3-.9 1.2-1.8 1.3-2 1.2-1.2 1.3 .4 1.2 1.4 1.3 1.7 1.2 1.7 1.3 2 1.2 2.2 1.3 1.5 1.2 .2 1.3-1 1.2-1.6 1.3-1.4 1.2-1.4 1.3-1.2 1.2 .1 1.3 .9 1.2 1.1 1.3 .7 1.2 .6 1.3 .6 1.2 .4 1.3 .5 1.2 .3 1.3 .1 1.2 0 1.3 0 1.2 0 1.3 0 1.2 0 1.3 0 1.2 0 1.3 0 1.2-.1 1.3 0 1.2 0 1.3 0 1.2 0 1.3-.1 1.2 0 1.3 0 1.2-.1 1.3 0 1.2 0 1.3-.1 1.2 0 1.3-.1 1.2 0 1.3 0 1.2-.1 1.3 0 1.2-.1 1.3 0 1.2 0 1.3-.1 1.2 0 1.3-.1 1.2 0 1.3-.1 1.2 0 1.3-.1 1.2 0 1.3-.1 1.2 0 1.3 0 1.2-.1 1.3 0 1.2-.1 1.3 0 1.2-.1 1.3 0 1.2-.1 1.3 0 1.2 0 1.3-.1 1.2 0 1.3 0 1.2-.1 1.3 0 1.2 0 1.3-.1 1.2 0 1.3 0 1.2-.1 1.3 0 1.2 0 1.3 0 1.2 0 1.3-.1 1.2 0 1.3 0 1.2 0 1.3 0 1.2 0 1.3 0 1.2 0 1.3 0 1.2 0 1.3 0 1.2 0 1.3 0 1.2 0 1.3 0 1.2 0 1.3 0 1.2 0 1.3 0 1.2 0 1.3 .1 1.2 0 1.3 0 1.2 0 1.3 0 1.2 0 1.3 0 1.2 0 1.3 .1 1.2 0 1.3 0 1.2 0 1.3 0 1.2 0 1.3 .1 1.2 0 1.3 0 1.2 0 1.3 0 1.2 0 1.3 .1 1.2 0 1.3 0 1.2 0 1.3 0 1.2 .1 1.3 0 1.2 0 1.3 0 1.2 .1 1.3 0 1.2 0 1.3 0 1.2 0 1.3 .1 1.2 0 1.3 0 1.2 0 1.3 .1 1.2 0 1.3 0 1.2 0 1.3 .1 1.2 0 1.3 0 1.2 0 1.3 .1 1.2 0 1.3 0 1.2 0 1.3 .1 1.2 0 1.3 0 1.2 0 1.3 .1 1.2 0 1.3 0 1.2 .1 1.3 0 1.2 .1 1.3 0 1.2 0 1.3 .1 1.2 0 1.3 .1 1.2 0 1.3 .1 1.2 0 1.3 .1 1.2 .1 1.3 0 1.2 .1 1.3 0 1.2 .1 1.3 0 1.2 .1 1.3 .1 1.2 0 1.3 .1 1.2 0 1.3 .1 1.2 .1 1.3 0 1.2 .1 1.3 0 1.2 .1 1.3 0 1.2 .1 1.3 0 1.2 0 1.3 .2 1.2 0 1.3-.1 1.2 .2 1.3 .2 1.2-.1 1.3 0 1.2-.2 1.3 .1 1.2 .4 1.3-.1 1.2-.2 1.3 .3 1.2 0 1.3-.3 1.2 .1 1.3 .1 1.2 .1 1.3 .1 1.2-.4 1.3-.1 1.2 .4 1.3-.3 1.2-.2 1.3 .2 1.2-.1 1.3-.3 1.2-.2 1.3-.2 1.2 .1 1.3 0 1.2-.5 1.3-.1 1.2 0 1.3-.4 1.2-.3 1.3 0 1.2-.2 1.3-.2 1.2-.3 1.3-.4 1.2-.2 1.3-.4 1.2-.7 1.3-.6 1.2-.6 1.3-.7 1.2-.8 1.3-.7 1.2-.7 1.3-.7 1.2-.6 1.3-.6 1.2-.7 1.3-.7 1.2-.4 1.3-.2 1.2-.1 1.3-.1 1.2-.1 1.3-.1 1.2-.1 1.3 .1 1.2-.1 1.3-.2 1.2 .1 1.3 0 1.2-.5 1.3 0 1.2 .2 1.3 .1 1.2 0 1.3-.5 1.2-.3 1.3 .5 1.2-.2 1.3-.6 1.2 .5 1.3 .1 1.2-.9 1.3-.5 1.2-.5 1.3-.4 1.2-.2 1.3-1.2 1.2-.9 1.3-.1 1.2-.9 1.3-1 1.2-.1 1.3-.5 1.2-.7 1.3-.7 1.2-.7 1.3-.1 1.2 .2 1.3-.2 1.2 .1 1.3 .5 1.2 0 1.3 0 1.2 .5 1.3 .4 1.2 .4 1.3 .4 1.2 0 1.3 .6 1.2 .7 1.3 .3 1.2 .6 1.3 1.1 1.2 .6 1.3 .6 1.2 .8 1.3 .8 1.2 1 1.3 .8 1.2 .5 1.3 .9 1.2 .9 1.3 .1 1.2 .5 1.3 .9 1.2 .4 1.3 .3 1.2 .1 1.3 0 1.2 .7 1.3 .4 1.2-.3 1.3 .7 1.2 .7 1.3-.4 1.2-.1 1.3 .4 1.2 .3 1.3 .5 1.2-.2 1.3-.3 1.2 .6 1.3-.2 1.2-.6 1.3 .5 1.2 .5 1.3-.4 1.2-.2 1.3-.2 1.2 0 1.3 .4 1.2-.3 1.3-.3 1.2 .6 1.3-.2 1.2-.7 1.3 .1 1.2 .2 1.3-.1 1.2 0 1.3-.3 1.2-.2 1.3-.5 1.2-1.1 1.3-1.2 1.2-1.2 1.3-1.4 1.2-1.3 1.3-1.1 1.2-.7 1.3-.3 1.2-.1 1.3-.1 1.2 0 1.3-.1 1.2 0 1.3-.1 1.2 0 1.3 0 1.2-.1 1.3 0 1.2 0 1.3 0 1.2-.1 1.3 0 1.2-.1 1.3 0 1.2 0 1.3-.1 1.2-.1 1.3-.1 1.2-.1 1.3-.2 1.2-.1 1.3-.2 1.2-.2 1.3-.2 1.2-.2 1.3-.2 1.2-.1 1.3-.2 1.2-.1 1.3-.1 1.2-.1 1.3-.1 1.2 0 1.3 .1 1.2 0 1.3 .1 1.2 .1 1.3 .1 1.2 .2 1.3 .2 1.2 .2 1.3 .2 1.2 .2 1.3 .2 1.2 .3 1.3 .2 1.2 .2 1.3 .2 1.2 .2 1.3 .2 1.2 .3 1.3 .2 1.2 .3 1.3 .3 1.2 .3 1.3 .3 1.2 .3 1.3 .2 1.2 .3 1.3 .2 1.2 .3 1.3 .1 1.2 .2 1.3 0 1.2 0 1.3 0 1.2-.2 1.3-.3 1.2-.3 1.3-.4 1.2-.4 1.3-.4 1.2-.4 1.3-.3 1.2-.4 1.3-.2 1.2-.3 1.3-.2 1.2-.3 1.3-.2 1.2-.3 1.3-.2 1.2-.2 1.3-.1 1.2-.2 1.3 0 1.2-.1 1.3 .1 1.2 .1 1.3 .3 1.2 .3 1.3 .3 1.2 .4 1.3 .2 1.2 .3 1.3 .1 1.2 0 1.3 0 1.2 .1 1.3 0 1.2 0 1.3 0 1.2 .1 1.3 0 1.2 0 1.3 0 1.2-.2 1.3-.5 1.2-.8 1.3-1.1 1.2-1.1 1.3-1.1 1.2-1.1 1.3-.9 1.2-1.1 1.3-1.2 1.2-1.1 1.3-1.1 1.2-.8 1.3-.4 1.2 0 1.3 .2 1.2 .4 1.3 .4 1.2 .5 1.3 .3 1.2 .3 1.3 .1 1.2-.4 1.3-.8 1.2-1.2 1.3-1.2 1.2-1.3 1.3-1.1 1.2-.8 1.3-.8 1.2-.8 1.3-.8 1.2-.7 1.3-.5 1.2-.4 1.3-.2 1.2-.2 1.3-.1 1.2-.2 1.3-.1 1.2-.1 1.3-.1 1.2-.1 1.3-.2 1.2-.3 1.3-.4 1.2-.5 1.3-.7 1.2-.6 1.3-.6 1.2-.6 1.3-.5 1.2-.4 1.3-.4 1.2-.4 1.3-.4 1.2-.3 1.3-.3 1.2-.2 1.3-.1 1.2 0 1.3 .3 1.2 .5 1.3 .9 1.2 1 1.3 1.2 1.2 1.1 1.3 1.2 1.2 1.1 1.3 1 1.2 .9 1.3 .9 1.2 1 1.3 .9 1.2 1 1.3 1 1.2 .9 1.3 1 1.2 1 1.3 1.1 1.2 1 1.3 1.1 1.2 1 1.3 1.2 1.2 1.2 1.3 1.2 1.2 1.3 1.3 1.4 1.2 1.3 1.3 1.4 1.2 1.3 1.3 1.4 1.2 1.3 1.3 1.2 1.2 1.2 1.3 1 1.2 1 1.3 .9 1.2 .8 1.3 .7 1.2 .6 1.3 .7 1.2 .7 1.3 .6 1.2 .6 1.3 .6 1.2 .5 1.3 .5 1.2 .5 1.3 .4 1.2 .3 1.3 .3 1.2 .3 1.3 .2 1.2 .1 1.3 .1 1.2 .1 1.3 0 1.2 .1 1.3 .1 1.2 0 1.3 0 1.2 .1 1.3 0 1.2-.1 1.3 0 1.2 0 1.3-.1 1.2-.1 1.3-.1 1.2 0 1.3 0 1.2 0 1.3 0 1.2 0 1.3-.1 1.2 0 1.3 0 1.2 0 1.3-.1 1.2 0 1.3 0 1.2-.1 1.3 0 1.2-.1 1.3 0 1.2-.1 1.3 0 1.2-.1 1.3 0 1.2-.1 1.3 0 1.2-.1 1.3 0 1.2 0 1.3-.1 1.2 0 1.3-.1 1.2 0 1.3-.1 1.2 0 1.3 0 1.2-.1 1.3 0 1.2-.1 1.3 0 1.2-.1 1.3 0 1.2-.1 1.3 0 1.2-.1 1.3 0 1.2-.1 1.3 0 1.2-.1 1.3 0 1.2-.1 1.3 0 1.2-.1 1.3-.1 1.2 0 1.3-.1 1.2-.1 1.3 0 1.2-.1 1.3-.1 1.2 0 1.3-.1 1.2-.1 1.3-.1 1.2-.1 1.3-.1 1.2-.1 1.3-.1 1.2-.1 1.3-.1 1.2-.2 1.3-.1 1.2-.1 1.3-.1 1.2-.2 1.3-.1 1.2-.1 1.3-.2 1.2-.1 1.3-.1 1.2-.2 1.3-.1 1.2-.1 1.3-.1 1.2-.2 1.3-.1 1.2-.1 1.3-.1 1.2-.1 1.3-.1 1.2-.1 1.3-.2 1.2-.1 1.3-.1 1.2-.1 1.3-.2 1.2-.1 1.3-.1 1.2-.1 1.3-.1 1.2-.2 1.3-.1 1.2 0 1.3-.1 1.2-.1 1.3 0 1.2-.1 1.3 0 1.2 0 1.3 0 1.2 0 1.3 .1 1.2 0 1.3 .1 1.2 .1 1.3 0 1.2 .1 1.3 .1 1.2 .1 1.3 .1 1.2 .1 1.3 .1 1.2 .1 1.3 .1 1.2 .2 1.3 .2 1.2 .2 1.3 .2 1.2 .2 1.3 .3 1.2 .2 1.3 .2 1.2 .2 1.3 .1 1.2 0 1.3 0 1.2 0 1.3 0 1.2 0 1.3-.1 1.2-.1 1.3-.1 1.2-.1 1.3-.1 1.2-.2 1.3-.2 1.2-.2 1.3-.2 1.2-.2 1.3-.3 1.2-.3 1.3-.3 1.2-.4 1.3-.4 .1 0"/>
<text x="1720.7" y="155.6" font-size="56.5">MCA401min</text>
<text x="1721.6" y="200" font-size="45.3">A<tspan dy="18">1747</tspan><tspan dy="-18">/A</tspan><tspan dy="18">1592</tspan><tspan dy="-18"> = 4.29</tspan></text>
<text x="1747.2" y="348.7" font-size="56.5">MCA402min</text>
<text x="1761.6" y="389.3" font-size="45.3">A<tspan dy="18">1747</tspan><tspan dy="-18">/A</tspan><tspan dy="18">1592</tspan><tspan dy="-18"> = 3.71</tspan></text>
<text x="1744.4" y="552" font-size="56.5">MCA801min</text>
<text x="1797.8" y="601.8" font-size="45.3">A<tspan dy="18">1747</tspan><tspan dy="-18">/A</tspan><tspan dy="18">1592</tspan><tspan dy="-18"> = 3.19</tspan></text>
<text x="1756.7" y="741.5" font-size="56.5">MCA802min</text>
<text x="1805.6" y="791.3" font-size="45.3">A<tspan dy="18">1747</tspan><tspan dy="-18">/A</tspan><tspan dy="18">1592</tspan><tspan dy="-18"> = 3.89</tspan></text>
<text x="1842.5" y="910.6" font-size="51">Cellulose</text>
<text x="1897" y="956.7" font-size="45.3">A<tspan dy="18">1747</tspan><tspan dy="-18">/A</tspan><tspan dy="18">1592</tspan><tspan dy="-18"> = 0.89</tspan></text>
<text x="1793.7" y="1345" font-size="56.5">MCA401min</text>
<text x="1806.7" y="1387.8" font-size="45.3">A<tspan dy="18">1747</tspan><tspan dy="-18">/A</tspan><tspan dy="18">1592</tspan><tspan dy="-18"> =3.24</tspan></text>
<text x="1757.4" y="1534.3" font-size="56.5">MCA402min</text>
<text x="1780.2" y="1584" font-size="45.3">A<tspan dy="18">1747</tspan><tspan dy="-18">/A</tspan><tspan dy="18">1592</tspan><tspan dy="-18"> = 3.69</tspan></text>
<text x="1746.7" y="1744.6" font-size="56.5">MCA801min</text>
<text x="1774.6" y="1800.9" font-size="45.3">A<tspan dy="18">1747</tspan><tspan dy="-18">/A</tspan><tspan dy="18">1592</tspan><tspan dy="-18"> =4.21</tspan></text>
<text x="1729.5" y="1980.8" font-size="56.5">MCA802min</text>
<text x="1802" y="2030.5" font-size="45.3">A<tspan dy="18">1747</tspan><tspan dy="-18">/A</tspan><tspan dy="18">1592</tspan><tspan dy="-18"> = 3.38</tspan></text>
<text x="1833" y="2136.2" font-size="57">Cellulose</text>
<text x="1845.2" y="2181.3" font-size="45.3">A<tspan dy="18">1747</tspan><tspan dy="-18">/A</tspan><tspan dy="18">1592</tspan><tspan dy="-18"> = 0.89</tspan></text>
<text x="1728.2" y="2600" font-size="56.5">MCA401min</text>
<text x="1722" y="2657.1" font-size="45.3">A<tspan dy="18">1747</tspan><tspan dy="-18">/A</tspan><tspan dy="18">1592</tspan><tspan dy="-18"> = 2.89</tspan></text>
<text x="1770.0" y="2788.2" font-size="56.5">MCA402min</text>
<text x="1709" y="2841.7" font-size="45.3">A<tspan dy="18">1747</tspan><tspan dy="-18">/A</tspan><tspan dy="18">1592</tspan><tspan dy="-18"> = 2.90</tspan></text>
<text x="1757.4" y="3006" font-size="56.5">MCA801min</text>
<text x="1743.9" y="3058" font-size="45.3">A<tspan dy="18">1747</tspan><tspan dy="-18">/A</tspan><tspan dy="18">1592</tspan><tspan dy="-18"> = 2.39</tspan></text>
<text x="1734.2" y="3260.7" font-size="56.5">MCA802min</text>
<text x="1743.9" y="3327.4" font-size="45.3">A<tspan dy="18">1747</tspan><tspan dy="-18">/A</tspan><tspan dy="18">1592</tspan><tspan dy="-18"> = 7.92</tspan></text>
<text x="1892" y="3519.4" font-size="57">Cellulose</text>
<text x="1881" y="3583" font-size="45.3">A<tspan dy="18">1747</tspan><tspan dy="-18">/A</tspan><tspan dy="18">1592</tspan><tspan dy="-18"> = 0.89</tspan></text>
</svg></body></html>
